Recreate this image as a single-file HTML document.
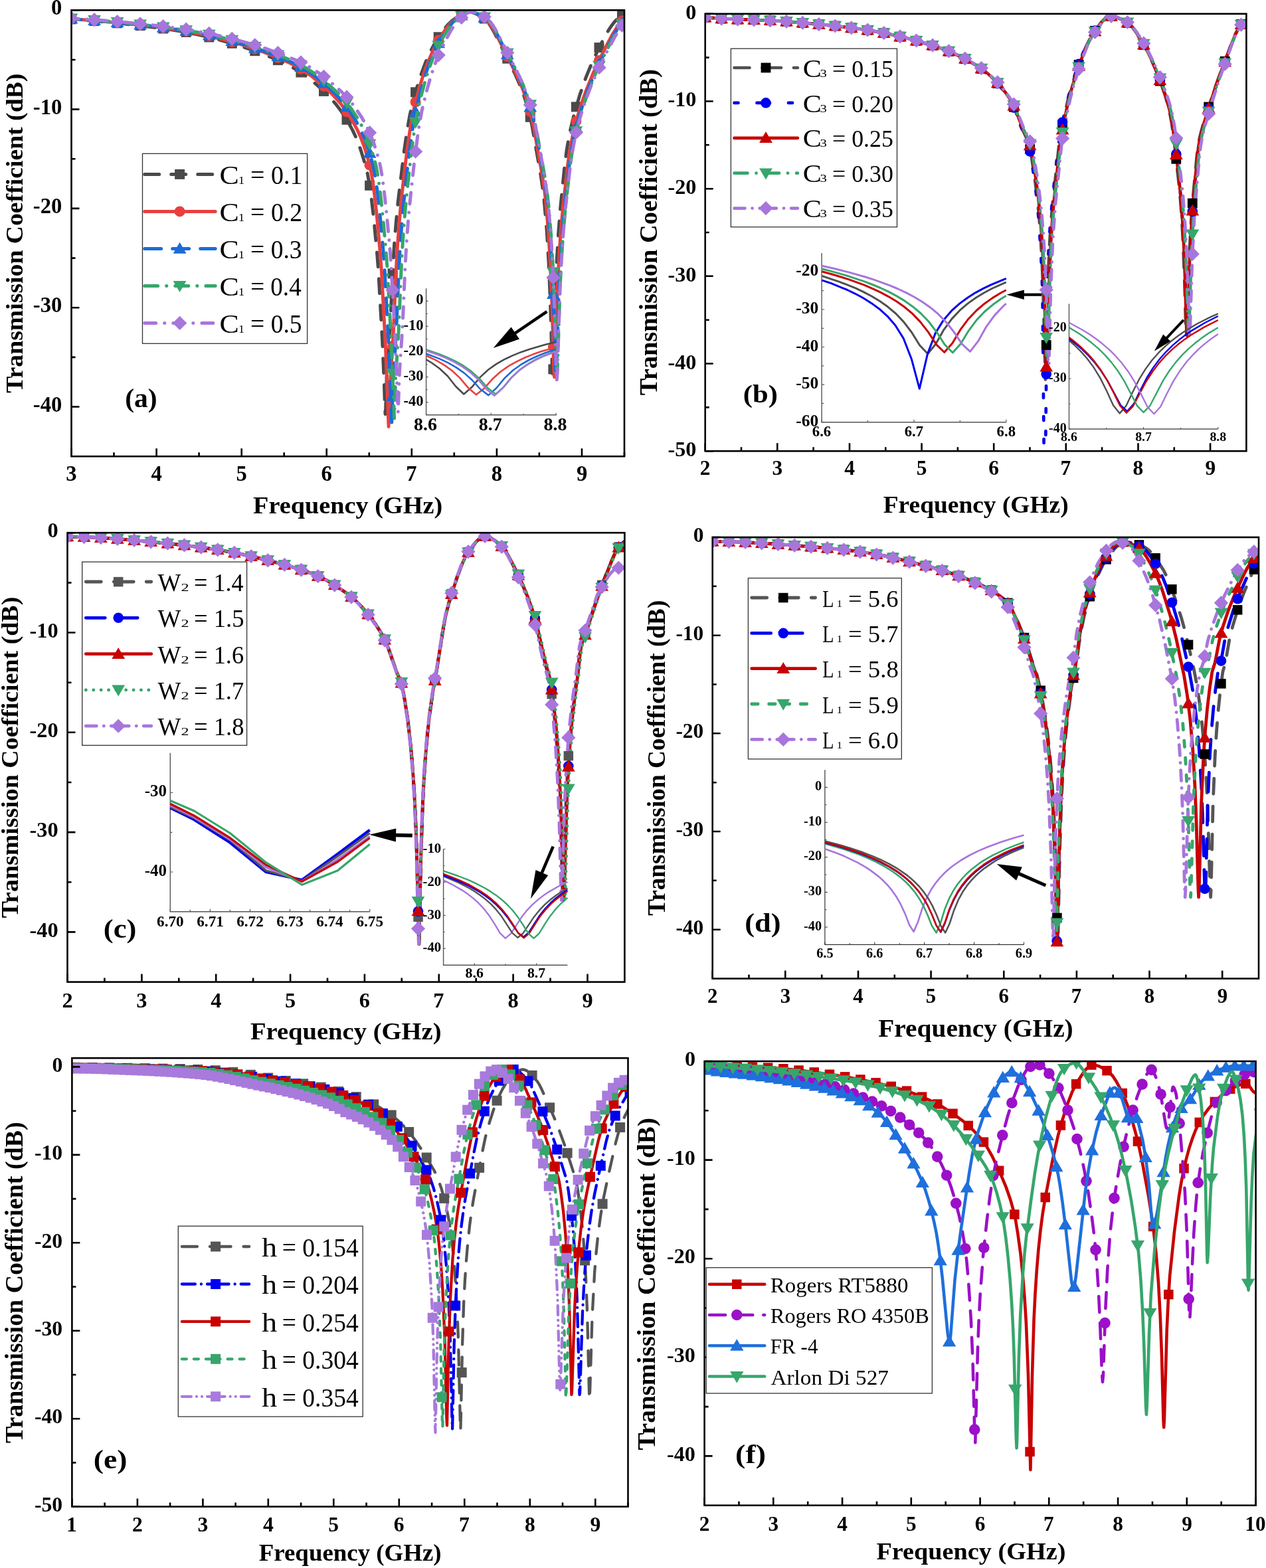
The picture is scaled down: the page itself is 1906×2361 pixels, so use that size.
<!DOCTYPE html>
<html><head><meta charset="utf-8"><title>Transmission coefficient parametric study</title>
<style>html,body{margin:0;padding:0;background:#fff;}svg{display:block;}</style></head>
<body><svg width="1906" height="2361" viewBox="0 0 1906 2361" font-family='"Liberation Serif", serif'>
<rect width="1906" height="2361" fill="#fff"/>
<clipPath id="c1"><rect x="107.5" y="15.3" width="832.5" height="671.9"/></clipPath>
<path d="M92.1,27.8L135.4,31.1L181.2,35.3L222.0,39.9L256.4,44.5L281.5,48.7L304.2,53.5L330.4,60.0L357.8,67.9L383.7,76.7L409.3,86.7L429.5,95.7L446.6,105.0L460.8,114.5L475.6,126.5L493.3,143.1L505.5,156.6L514.4,168.4L523.8,183.2L530.9,196.1L536.9,209.0L542.5,224.1L547.7,240.5L553.1,260.6L556.2,277.2L559.3,299.8L562.8,330.2L567.6,380.9L569.6,406.4L575.6,512.3L578.4,577.7L579.6,616.0L580.1,623.6L580.7,614.7L582.2,567.6L587.2,496.0L591.6,401.7L593.6,368.1L596.3,334.7L599.2,304.3L608.6,226.1L612.7,197.8L616.8,174.4L620.9,156.4L626.8,134.6L633.6,113.1L640.6,94.1L648.0,77.5L655.9,62.7L665.5,48.0L674.4,37.0L681.0,30.9L689.7,24.5L695.1,21.1L698.7,19.4L702.0,18.3L704.9,17.9L708.1,18.0L711.8,18.8L715.4,20.1L724.2,24.8L729.6,28.3L733.5,32.2L738.3,38.8L743.7,48.0L775.7,112.0L782.7,128.1L788.9,144.5L796.3,167.9L800.8,188.3L813.5,260.0L816.9,282.6L819.2,301.5L823.2,347.2L826.3,399.2L828.8,462.9L831.4,554.2L832.2,567.7L833.0,553.4L836.6,430.2L838.4,389.9L840.7,350.9L843.8,312.2L850.2,248.3L853.3,225.2L857.6,200.3L864.3,172.3L872.8,143.3L882.0,116.9L892.8,90.6L908.5,58.7L914.5,48.2L920.1,39.5L925.1,33.0L930.2,27.9L936.7,22.9L942.6,19.8" fill="none" stroke="#4a4a4a" stroke-width="5" stroke-linecap="round" stroke-linejoin="round" stroke-dasharray="22,18" clip-path="url(#c1)"/>
<g clip-path="url(#c1)"><rect x="100.0" y="21.4" width="15.0" height="15.0" fill="#4a4a4a"/><rect x="134.5" y="24.1" width="15.0" height="15.0" fill="#4a4a4a"/><rect x="169.1" y="27.3" width="15.0" height="15.0" fill="#4a4a4a"/><rect x="203.6" y="31.1" width="15.0" height="15.0" fill="#4a4a4a"/><rect x="238.2" y="35.5" width="15.0" height="15.0" fill="#4a4a4a"/><rect x="272.7" y="41.0" width="15.0" height="15.0" fill="#4a4a4a"/><rect x="307.3" y="48.5" width="15.0" height="15.0" fill="#4a4a4a"/><rect x="341.8" y="57.8" width="15.0" height="15.0" fill="#4a4a4a"/><rect x="376.3" y="69.2" width="15.0" height="15.0" fill="#4a4a4a"/><rect x="410.9" y="83.1" width="15.0" height="15.0" fill="#4a4a4a"/><rect x="445.4" y="101.5" width="15.0" height="15.0" fill="#4a4a4a"/><rect x="480.0" y="129.9" width="15.0" height="15.0" fill="#4a4a4a"/><rect x="514.5" y="172.8" width="15.0" height="15.0" fill="#4a4a4a"/><rect x="549.1" y="271.8" width="15.0" height="15.0" fill="#4a4a4a"/><rect x="583.6" y="404.3" width="15.0" height="15.0" fill="#4a4a4a"/><rect x="618.1" y="131.3" width="15.0" height="15.0" fill="#4a4a4a"/><rect x="652.7" y="48.3" width="15.0" height="15.0" fill="#4a4a4a"/><rect x="687.2" y="13.8" width="15.0" height="15.0" fill="#4a4a4a"/><rect x="721.8" y="20.5" width="15.0" height="15.0" fill="#4a4a4a"/><rect x="756.3" y="80.7" width="15.0" height="15.0" fill="#4a4a4a"/><rect x="790.8" y="168.8" width="15.0" height="15.0" fill="#4a4a4a"/><rect x="825.4" y="548.4" width="15.0" height="15.0" fill="#4a4a4a"/><rect x="859.9" y="153.4" width="15.0" height="15.0" fill="#4a4a4a"/><rect x="894.5" y="64.1" width="15.0" height="15.0" fill="#4a4a4a"/><rect x="929.0" y="15.5" width="15.0" height="15.0" fill="#4a4a4a"/><rect x="963.6" y="12.3" width="15.0" height="15.0" fill="#4a4a4a"/></g>
<path d="M94.7,27.6L138.8,30.8L185.4,35.0L227.5,39.6L261.8,44.1L287.0,48.3L310.4,53.1L338.2,60.0L365.1,67.6L391.7,76.5L418.0,86.7L437.2,95.3L453.5,104.1L468.4,114.1L483.8,126.7L501.0,142.7L513.3,156.4L521.0,166.9L531.0,182.7L537.3,194.2L543.1,206.8L549.1,223.0L554.5,241.0L558.2,255.8L561.1,272.3L564.2,296.3L567.7,328.4L572.2,379.0L574.5,409.7L580.5,522.8L585.1,642.4L587.4,577.2L592.0,506.1L596.3,407.4L598.3,372.3L600.9,337.4L603.7,305.6L608.0,266.0L612.6,228.3L616.9,197.8L620.9,174.4L625.2,155.3L631.2,132.6L637.8,111.3L644.9,91.9L652.4,75.2L660.7,59.8L669.8,45.6L678.1,35.4L682.4,31.4L690.1,25.4L695.0,22.0L699.0,19.7L702.2,18.5L705.3,17.9L708.4,17.9L711.9,18.5L719.6,21.5L729.6,27.4L733.6,31.0L737.9,36.3L742.5,43.5L747.9,53.4L778.6,114.4L785.7,130.9L792.0,147.8L798.6,168.9L803.7,192.8L816.0,261.8L819.5,284.7L821.8,304.3L825.5,347.2L828.6,399.2L831.2,462.9L833.8,554.2L834.6,567.7L835.5,553.4L839.5,430.2L841.5,389.9L844.1,350.9L847.5,312.2L854.7,248.3L857.8,226.9L862.4,202.9L865.8,188.5L870.7,171.4L876.1,154.1L881.6,138.5L893.0,110.3L908.7,77.1L921.6,52.6L927.1,43.7L931.9,36.8L936.8,31.1L941.6,26.7L947.4,22.5L952.8,19.8" fill="none" stroke="#e8403f" stroke-width="5" stroke-linecap="round" stroke-linejoin="round" clip-path="url(#c1)"/>
<g clip-path="url(#c1)"><circle cx="107.5" cy="28.4" r="8.0" fill="#e8403f"/><circle cx="142.0" cy="31.1" r="8.0" fill="#e8403f"/><circle cx="176.6" cy="34.1" r="8.0" fill="#e8403f"/><circle cx="211.1" cy="37.7" r="8.0" fill="#e8403f"/><circle cx="245.7" cy="41.9" r="8.0" fill="#e8403f"/><circle cx="280.2" cy="47.1" r="8.0" fill="#e8403f"/><circle cx="314.8" cy="54.1" r="8.0" fill="#e8403f"/><circle cx="349.3" cy="63.0" r="8.0" fill="#e8403f"/><circle cx="383.8" cy="73.7" r="8.0" fill="#e8403f"/><circle cx="418.4" cy="86.8" r="8.0" fill="#e8403f"/><circle cx="452.9" cy="103.8" r="8.0" fill="#e8403f"/><circle cx="487.5" cy="129.9" r="8.0" fill="#e8403f"/><circle cx="522.0" cy="168.4" r="8.0" fill="#e8403f"/><circle cx="556.6" cy="248.7" r="8.0" fill="#e8403f"/><circle cx="591.1" cy="521.3" r="8.0" fill="#e8403f"/><circle cx="625.6" cy="153.5" r="8.0" fill="#e8403f"/><circle cx="660.2" cy="60.6" r="8.0" fill="#e8403f"/><circle cx="694.7" cy="22.2" r="8.0" fill="#e8403f"/><circle cx="729.3" cy="27.2" r="8.0" fill="#e8403f"/><circle cx="763.8" cy="85.1" r="8.0" fill="#e8403f"/><circle cx="798.3" cy="168.1" r="8.0" fill="#e8403f"/><circle cx="832.9" cy="522.3" r="8.0" fill="#e8403f"/><circle cx="867.4" cy="182.6" r="8.0" fill="#e8403f"/><circle cx="902.0" cy="91.0" r="8.0" fill="#e8403f"/><circle cx="936.5" cy="31.4" r="8.0" fill="#e8403f"/><circle cx="971.1" cy="21.8" r="8.0" fill="#e8403f"/></g>
<path d="M97.3,27.6L141.5,30.8L188.3,34.9L230.6,39.5L265.1,44.0L290.3,48.1L313.9,53.0L341.8,59.8L368.8,67.3L395.2,76.0L421.9,86.2L441.2,94.7L457.6,103.5L472.5,113.4L488.0,125.8L505.3,141.6L517.6,155.2L525.4,165.6L535.4,181.2L541.8,192.6L547.5,205.1L553.5,221.1L559.0,238.9L562.7,253.5L565.6,269.8L568.8,293.6L572.2,325.4L576.8,375.5L579.1,405.9L585.1,517.8L589.7,636.1L592.0,572.2L596.4,502.7L600.6,405.5L602.5,370.9L605.0,336.5L608.1,302.3L612.8,258.5L617.2,221.8L621.4,192.3L625.3,170.1L630.3,148.5L636.1,126.7L642.5,106.4L649.4,87.8L656.7,71.7L665.0,56.4L673.3,43.6L681.1,34.3L684.7,30.9L693.3,24.1L697.8,21.1L701.4,19.2L704.4,18.2L707.2,17.8L713.8,18.8L721.4,21.8L731.5,27.8L735.5,31.6L740.2,37.6L745.1,45.5L750.6,55.6L780.9,115.6L788.5,133.0L795.1,151.2L801.2,171.2L806.7,197.3L818.8,265.3L822.0,286.9L824.3,307.1L828.1,351.2L831.3,405.0L833.6,462.9L836.2,554.2L837.1,567.7L837.9,553.4L841.9,430.2L843.9,389.9L846.5,350.9L850.0,312.2L857.1,248.3L860.3,226.9L864.9,202.9L868.3,188.5L873.2,171.4L878.6,154.1L884.0,138.5L895.5,110.3L911.3,77.1L924.1,52.6L929.6,43.7L934.5,36.8L939.3,31.1L944.2,26.7L949.9,22.5L955.4,19.8" fill="none" stroke="#1c6bd8" stroke-width="5" stroke-linecap="round" stroke-linejoin="round" stroke-dasharray="25,17" clip-path="url(#c1)"/>
<g clip-path="url(#c1)"><path d="M107.5,18.5L117.4,35.6L97.6,35.6Z" fill="#1c6bd8"/><path d="M142.0,21.1L151.9,38.1L132.1,38.1Z" fill="#1c6bd8"/><path d="M176.6,24.1L186.5,41.1L166.7,41.1Z" fill="#1c6bd8"/><path d="M211.1,27.6L221.0,44.6L201.2,44.6Z" fill="#1c6bd8"/><path d="M245.7,31.7L255.6,48.7L235.8,48.7Z" fill="#1c6bd8"/><path d="M280.2,36.7L290.1,53.7L270.3,53.7Z" fill="#1c6bd8"/><path d="M314.8,43.4L324.7,60.4L304.9,60.4Z" fill="#1c6bd8"/><path d="M349.3,52.1L359.2,69.1L339.4,69.1Z" fill="#1c6bd8"/><path d="M383.8,62.4L393.7,79.4L373.9,79.4Z" fill="#1c6bd8"/><path d="M418.4,75.1L428.3,92.1L408.5,92.1Z" fill="#1c6bd8"/><path d="M452.9,91.1L462.8,108.1L443.0,108.1Z" fill="#1c6bd8"/><path d="M487.5,115.6L497.4,132.6L477.6,132.6Z" fill="#1c6bd8"/><path d="M522.0,151.2L531.9,168.2L512.1,168.2Z" fill="#1c6bd8"/><path d="M556.6,220.8L566.5,237.8L546.7,237.8Z" fill="#1c6bd8"/><path d="M591.1,587.1L601.0,604.1L581.2,604.1Z" fill="#1c6bd8"/><path d="M625.6,158.6L635.5,175.7L615.7,175.7Z" fill="#1c6bd8"/><path d="M660.2,55.2L670.1,72.2L650.3,72.2Z" fill="#1c6bd8"/><path d="M694.7,13.4L704.6,30.4L684.8,30.4Z" fill="#1c6bd8"/><path d="M729.3,16.7L739.2,33.7L719.4,33.7Z" fill="#1c6bd8"/><path d="M763.8,72.3L773.7,89.3L753.9,89.3Z" fill="#1c6bd8"/><path d="M798.3,151.5L808.2,168.5L788.4,168.5Z" fill="#1c6bd8"/><path d="M832.9,433.1L842.8,450.1L823.0,450.1Z" fill="#1c6bd8"/><path d="M867.4,182.1L877.3,199.1L857.5,199.1Z" fill="#1c6bd8"/><path d="M902.0,86.5L911.9,103.5L892.1,103.5Z" fill="#1c6bd8"/><path d="M936.5,24.5L946.4,41.5L926.6,41.5Z" fill="#1c6bd8"/><path d="M971.1,10.1L981.0,27.1L961.2,27.1Z" fill="#1c6bd8"/></g>
<path d="M98.5,27.4L143.0,30.5L190.1,34.6L232.5,39.1L267.2,43.6L292.6,47.6L316.3,52.4L344.3,59.1L371.5,66.6L398.3,75.3L424.9,85.3L444.3,93.7L460.7,102.3L475.7,112.1L491.3,124.4L508.7,140.1L521.1,153.6L528.9,163.9L539.0,179.3L545.3,190.7L551.1,203.0L557.2,218.9L562.7,236.5L566.4,251.0L569.3,267.1L572.5,290.6L576.0,322.2L580.6,371.8L582.9,401.9L589.0,512.7L593.6,629.9L595.7,567.2L600.1,499.3L604.4,397.8L606.3,365.4L608.7,332.3L611.7,299.2L616.8,251.3L621.1,215.5L624.9,188.8L628.7,167.4L634.1,144.1L640.0,122.0L646.3,102.4L653.0,84.4L660.0,69.0L668.4,53.7L676.0,42.1L683.3,33.4L695.4,23.3L699.5,20.6L703.0,18.9L705.7,18.1L708.4,17.8L711.9,18.2L715.4,19.0L723.0,22.3L732.8,28.3L735.8,31.0L739.0,34.7L745.9,45.5L775.6,102.6L782.0,115.6L787.6,128.1L792.5,140.6L797.2,153.8L803.0,173.5L808.8,202.0L820.4,267.2L823.6,289.1L826.0,310.0L829.7,355.3L832.7,405.0L835.0,462.9L837.6,554.2L838.5,567.7L839.3,553.4L843.3,430.2L845.3,389.9L847.9,350.9L851.4,312.2L858.5,248.3L861.7,226.9L866.2,202.9L869.7,188.5L874.5,171.4L880.0,154.1L885.4,138.5L896.8,110.3L912.6,77.1L925.5,52.6L930.9,43.7L935.8,36.8L940.6,31.1L945.5,26.7L951.2,22.5L956.6,19.8" fill="none" stroke="#36a66b" stroke-width="5" stroke-linecap="round" stroke-linejoin="round" stroke-dasharray="20,13,0.1,13" clip-path="url(#c1)"/>
<g clip-path="url(#c1)"><path d="M107.5,37.6L117.4,20.6L97.6,20.6Z" fill="#36a66b"/><path d="M142.0,40.1L151.9,23.1L132.1,23.1Z" fill="#36a66b"/><path d="M176.6,43.0L186.5,26.0L166.7,26.0Z" fill="#36a66b"/><path d="M211.1,46.4L221.0,29.4L201.2,29.4Z" fill="#36a66b"/><path d="M245.7,50.4L255.6,33.4L235.8,33.4Z" fill="#36a66b"/><path d="M280.2,55.2L290.1,38.2L270.3,38.2Z" fill="#36a66b"/><path d="M314.8,61.8L324.7,44.7L304.9,44.7Z" fill="#36a66b"/><path d="M349.3,70.1L359.2,53.1L339.4,53.1Z" fill="#36a66b"/><path d="M383.8,80.1L393.7,63.1L373.9,63.1Z" fill="#36a66b"/><path d="M418.4,92.4L428.3,75.4L408.5,75.4Z" fill="#36a66b"/><path d="M452.9,107.7L462.8,90.7L443.0,90.7Z" fill="#36a66b"/><path d="M487.5,130.9L497.4,113.9L477.6,113.9Z" fill="#36a66b"/><path d="M522.0,164.5L531.9,147.5L512.1,147.5Z" fill="#36a66b"/><path d="M556.6,226.8L566.5,209.8L546.7,209.8Z" fill="#36a66b"/><path d="M591.1,572.0L601.0,554.9L581.2,554.9Z" fill="#36a66b"/><path d="M625.6,194.0L635.5,177.0L615.7,177.0Z" fill="#36a66b"/><path d="M660.2,78.4L670.1,61.4L650.3,61.4Z" fill="#36a66b"/><path d="M694.7,33.6L704.6,16.5L684.8,16.5Z" fill="#36a66b"/><path d="M729.3,35.7L739.2,18.6L719.4,18.6Z" fill="#36a66b"/><path d="M763.8,89.8L773.7,72.8L753.9,72.8Z" fill="#36a66b"/><path d="M798.3,167.2L808.2,150.2L788.4,150.2Z" fill="#36a66b"/><path d="M832.9,419.6L842.8,402.6L823.0,402.6Z" fill="#36a66b"/><path d="M867.4,207.2L877.3,190.2L857.5,190.2Z" fill="#36a66b"/><path d="M902.0,108.7L911.9,91.7L892.1,91.7Z" fill="#36a66b"/><path d="M936.5,45.5L946.4,28.5L926.6,28.5Z" fill="#36a66b"/><path d="M971.1,29.5L981.0,12.5L961.2,12.5Z" fill="#36a66b"/></g>
<path d="M101.1,27.0L145.9,30.0L193.2,34.0L236.0,38.5L270.8,42.8L296.4,46.8L320.3,51.5L348.4,58.1L376.1,65.5L402.8,74.0L429.5,83.8L449.0,92.1L465.6,100.6L480.7,110.3L496.4,122.4L513.9,137.9L526.4,151.2L534.2,161.3L544.4,176.5L550.8,187.7L556.6,199.9L562.7,215.5L568.2,232.9L572.0,247.2L574.9,263.1L578.1,286.2L581.6,317.3L586.3,366.2L588.6,395.8L594.7,505.0L599.3,620.5L601.5,559.6L605.9,494.3L610.3,395.0L612.5,359.5L614.9,327.7L618.0,296.0L623.7,244.2L628.4,207.4L631.9,183.9L635.5,164.9L641.8,138.9L648.6,114.9L654.9,96.4L661.5,80.1L673.3,56.1L679.2,45.3L684.7,37.0L689.9,31.0L700.1,21.8L703.7,19.5L706.8,18.2L709.2,17.9L712.3,18.0L719.2,20.0L728.4,24.8L733.0,27.7L735.8,30.2L741.6,37.3L748.2,48.2L779.3,109.7L785.3,122.8L790.5,135.4L795.4,148.9L800.0,163.2L802.9,173.7L806.0,188.3L817.8,253.6L823.0,287.2L826.4,318.9L829.9,362.8L832.8,415.0L834.8,467.4L837.4,559.6L838.2,573.2L839.1,558.5L843.2,433.1L845.3,392.0L847.9,352.3L851.4,312.7L858.4,250.7L861.7,228.6L866.3,204.2L869.9,189.6L874.5,173.3L880.1,155.8L885.7,140.1L891.2,125.9L897.4,111.6L913.2,78.8L926.7,53.6L932.3,44.6L937.5,37.2L942.5,31.4L947.8,26.7L953.6,22.5L959.2,19.8" fill="none" stroke="#a875dc" stroke-width="5" stroke-linecap="round" stroke-linejoin="round" stroke-dasharray="17,13,0.1,13" clip-path="url(#c1)"/>
<g clip-path="url(#c1)"><path d="M107.5,16.7L118.1,27.4L107.5,38.0L96.9,27.4Z" fill="#a875dc"/><path d="M142.0,19.1L152.7,29.7L142.0,40.4L131.4,29.7Z" fill="#a875dc"/><path d="M176.6,21.9L187.2,32.5L176.6,43.2L166.0,32.5Z" fill="#a875dc"/><path d="M211.1,25.2L221.8,35.8L211.1,46.4L200.5,35.8Z" fill="#a875dc"/><path d="M245.7,29.0L256.3,39.6L245.7,50.2L235.0,39.6Z" fill="#a875dc"/><path d="M280.2,33.6L290.8,44.2L280.2,54.8L269.6,44.2Z" fill="#a875dc"/><path d="M314.8,39.7L325.4,50.3L314.8,61.0L304.1,50.3Z" fill="#a875dc"/><path d="M349.3,47.7L359.9,58.3L349.3,68.9L338.7,58.3Z" fill="#a875dc"/><path d="M383.8,57.2L394.5,67.8L383.8,78.5L373.2,67.8Z" fill="#a875dc"/><path d="M418.4,68.9L429.0,79.6L418.4,90.2L407.8,79.6Z" fill="#a875dc"/><path d="M452.9,83.3L463.5,94.0L452.9,104.6L442.3,94.0Z" fill="#a875dc"/><path d="M487.5,104.7L498.1,115.3L487.5,125.9L476.8,115.3Z" fill="#a875dc"/><path d="M522.0,135.6L532.6,146.2L522.0,156.8L511.4,146.2Z" fill="#a875dc"/><path d="M556.6,189.1L567.2,199.8L556.6,210.4L545.9,199.8Z" fill="#a875dc"/><path d="M591.1,426.1L601.7,436.7L591.1,447.3L580.5,436.7Z" fill="#a875dc"/><path d="M625.6,217.6L636.3,228.2L625.6,238.8L615.0,228.2Z" fill="#a875dc"/><path d="M660.2,72.5L670.8,83.1L660.2,93.7L649.6,83.1Z" fill="#a875dc"/><path d="M694.7,15.8L705.3,26.5L694.7,37.1L684.1,26.5Z" fill="#a875dc"/><path d="M729.3,14.7L739.9,25.3L729.3,36.0L718.6,25.3Z" fill="#a875dc"/><path d="M763.8,68.7L774.4,79.3L763.8,89.9L753.2,79.3Z" fill="#a875dc"/><path d="M798.3,147.3L809.0,158.0L798.3,168.6L787.7,158.0Z" fill="#a875dc"/><path d="M832.9,407.3L843.5,417.9L832.9,428.6L822.3,417.9Z" fill="#a875dc"/><path d="M867.4,188.7L878.1,199.4L867.4,210.0L856.8,199.4Z" fill="#a875dc"/><path d="M902.0,91.0L912.6,101.7L902.0,112.3L891.3,101.7Z" fill="#a875dc"/><path d="M936.5,27.9L947.1,38.5L936.5,49.1L925.9,38.5Z" fill="#a875dc"/><path d="M971.1,9.2L981.7,19.8L971.1,30.4L960.4,19.8Z" fill="#a875dc"/></g>
<rect x="107.5" y="15.3" width="832.5" height="671.9" fill="none" stroke="#000" stroke-width="2.6"/>
<path d="M107.5,687.2v-12M235.6,687.2v-12M363.7,687.2v-12M491.7,687.2v-12M619.8,687.2v-12M747.9,687.2v-12M876.0,687.2v-12M171.5,687.2v-6M299.6,687.2v-6M427.7,687.2v-6M555.8,687.2v-6M683.8,687.2v-6M811.9,687.2v-6M940.0,687.2v-6M107.5,15.3h12M107.5,164.6h12M107.5,313.9h12M107.5,463.2h12M107.5,612.5h12M107.5,90.0h6M107.5,239.3h6M107.5,388.6h6M107.5,537.9h6" stroke="#000" stroke-width="2.6" fill="none"/>
<text x="99.34" y="724.40" font-size="32.63" font-weight="bold" fill="#000">3</text>
<text x="227.50" y="724.40" font-size="32.63" font-weight="bold" fill="#000">4</text>
<text x="355.41" y="724.40" font-size="32.63" font-weight="bold" fill="#000">5</text>
<text x="483.49" y="724.40" font-size="32.63" font-weight="bold" fill="#000">6</text>
<text x="611.16" y="724.40" font-size="32.63" font-weight="bold" fill="#000">7</text>
<text x="739.73" y="724.40" font-size="32.63" font-weight="bold" fill="#000">8</text>
<text x="867.97" y="724.40" font-size="32.63" font-weight="bold" fill="#000">9</text>
<text x="77.09" y="22.30" font-size="32.63" font-weight="bold" fill="#000">0</text>
<text x="49.84" y="171.61" font-size="32.63" font-weight="bold" fill="#000">-10</text>
<text x="49.84" y="320.92" font-size="32.63" font-weight="bold" fill="#000">-20</text>
<text x="49.84" y="470.23" font-size="32.63" font-weight="bold" fill="#000">-30</text>
<text x="49.84" y="619.54" font-size="32.63" font-weight="bold" fill="#000">-40</text>
<text x="381.03" y="773.00" font-size="36.79" font-weight="bold" fill="#000" textLength="285.19" lengthAdjust="spacingAndGlyphs">Frequency (GHz)</text>
<text transform="translate(33.70,591.77) rotate(-90)" font-size="36.64" font-weight="bold" textLength="481.12" lengthAdjust="spacingAndGlyphs">Transmission Coefficient (dB)</text>
<text x="188.23" y="613.20" font-size="39.08" font-weight="bold" fill="#000" textLength="48.48" lengthAdjust="spacingAndGlyphs">(a)</text>
<rect x="214.5" y="231.3" width="248.1" height="286" fill="#fff" stroke="#333" stroke-width="1.3"/>
<path d="M217.7,262.4H324.2" stroke="#4a4a4a" stroke-width="5" stroke-linecap="round" stroke-dasharray="22,18" fill="none"/>
<rect x="263.1" y="254.9" width="15.0" height="15.0" fill="#4a4a4a"/>
<text x="330.55" y="276.80" font-size="40.61" font-weight="normal" fill="#000" textLength="29.26" lengthAdjust="spacingAndGlyphs">C</text>
<text x="358.97" y="276.80" font-size="15.79" font-weight="normal" fill="#000" textLength="9.01" lengthAdjust="spacingAndGlyphs">1</text>
<text x="377.10" y="276.80" font-size="39.40" font-weight="normal" fill="#000" textLength="78.34" lengthAdjust="spacingAndGlyphs">= 0.1</text>
<path d="M217.7,318.4H324.2" stroke="#e8403f" stroke-width="5" stroke-linecap="round" fill="none"/>
<circle cx="270.6" cy="318.4" r="8.0" fill="#e8403f"/>
<text x="330.55" y="332.80" font-size="40.61" font-weight="normal" fill="#000" textLength="29.26" lengthAdjust="spacingAndGlyphs">C</text>
<text x="358.97" y="332.80" font-size="15.79" font-weight="normal" fill="#000" textLength="9.01" lengthAdjust="spacingAndGlyphs">1</text>
<text x="377.11" y="332.80" font-size="39.40" font-weight="normal" fill="#000" textLength="78.14" lengthAdjust="spacingAndGlyphs">= 0.2</text>
<path d="M217.7,374.4H324.2" stroke="#1c6bd8" stroke-width="5" stroke-linecap="round" stroke-dasharray="25,17" fill="none"/>
<path d="M270.6,364.7L280.5,381.7L260.7,381.7Z" fill="#1c6bd8"/>
<text x="330.55" y="388.80" font-size="40.61" font-weight="normal" fill="#000" textLength="29.26" lengthAdjust="spacingAndGlyphs">C</text>
<text x="358.97" y="388.80" font-size="15.79" font-weight="normal" fill="#000" textLength="9.01" lengthAdjust="spacingAndGlyphs">1</text>
<text x="377.12" y="388.80" font-size="39.40" font-weight="normal" fill="#000" textLength="77.54" lengthAdjust="spacingAndGlyphs">= 0.3</text>
<path d="M217.7,430.4H324.2" stroke="#36a66b" stroke-width="5" stroke-linecap="round" stroke-dasharray="20,13,0.1,13" fill="none"/>
<path d="M270.6,440.1L280.5,423.1L260.7,423.1Z" fill="#36a66b"/>
<text x="330.55" y="444.80" font-size="40.61" font-weight="normal" fill="#000" textLength="29.26" lengthAdjust="spacingAndGlyphs">C</text>
<text x="358.97" y="444.80" font-size="15.79" font-weight="normal" fill="#000" textLength="9.01" lengthAdjust="spacingAndGlyphs">1</text>
<text x="377.14" y="444.80" font-size="39.40" font-weight="normal" fill="#000" textLength="76.57" lengthAdjust="spacingAndGlyphs">= 0.4</text>
<path d="M217.7,486.4H324.2" stroke="#a875dc" stroke-width="5" stroke-linecap="round" stroke-dasharray="17,13,0.1,13" fill="none"/>
<path d="M270.6,475.8L281.2,486.4L270.6,497.0L260.0,486.4Z" fill="#a875dc"/>
<text x="330.55" y="500.80" font-size="40.61" font-weight="normal" fill="#000" textLength="29.26" lengthAdjust="spacingAndGlyphs">C</text>
<text x="358.97" y="500.80" font-size="15.79" font-weight="normal" fill="#000" textLength="9.01" lengthAdjust="spacingAndGlyphs">1</text>
<text x="377.12" y="500.80" font-size="39.40" font-weight="normal" fill="#000" textLength="77.54" lengthAdjust="spacingAndGlyphs">= 0.5</text>
<path d="M641.6,434.2V624.8H837.9" stroke="#555" stroke-width="1.4" fill="none"/>
<path d="M641.6,453.3h3M641.6,491.4h3M641.6,529.5h3M641.6,567.6h3M641.6,605.7h3M641.6,472.3h2M641.6,510.4h2M641.6,548.6h2M641.6,586.7h2M641.6,624.8v-3M739.3,624.8v-3M837.1,624.8v-3M690.5,624.8v-2M788.2,624.8v-2" stroke="#555" stroke-width="1.2" fill="none"/>
<text x="626.32" y="458.46" font-size="22.56" font-weight="bold" fill="#000">0</text>
<text x="607.49" y="496.58" font-size="22.56" font-weight="bold" fill="#000">-10</text>
<text x="607.49" y="534.70" font-size="22.56" font-weight="bold" fill="#000">-20</text>
<text x="607.49" y="572.82" font-size="22.56" font-weight="bold" fill="#000">-30</text>
<text x="607.49" y="610.94" font-size="22.56" font-weight="bold" fill="#000">-40</text>
<text x="623.05" y="647.80" font-size="27.97" font-weight="bold" fill="#000">8.6</text>
<text x="720.73" y="647.80" font-size="27.97" font-weight="bold" fill="#000">8.7</text>
<text x="818.62" y="647.80" font-size="27.97" font-weight="bold" fill="#000">8.8</text>
<path d="M641.6,541.4L649.4,546.0L661.6,554.8L673.9,566.3L686.1,581.7L698.3,593.5L710.5,582.8L722.7,568.1L735.0,556.8L747.2,548.1L759.4,541.2L771.6,535.4L783.8,530.4L796.0,526.2L820.5,519.0L837.1,514.9" fill="none" stroke="#4a4a4a" stroke-width="2.6" stroke-linecap="butt" stroke-linejoin="round"/>
<path d="M641.6,535.5L655.8,542.1L668.0,549.1L680.2,557.8L692.4,569.1L704.6,583.7L716.9,594.3L729.1,584.7L741.3,570.8L753.5,559.8L765.7,551.2L778.0,544.3L790.2,538.5L802.4,533.6L814.6,529.3L837.1,522.7" fill="none" stroke="#e8403f" stroke-width="2.6" stroke-linecap="butt" stroke-linejoin="round"/>
<path d="M641.6,532.5L662.1,540.4L674.3,546.2L686.6,553.1L698.8,561.6L711.0,572.5L723.2,586.0L735.4,595.1L747.7,584.0L759.9,569.1L772.1,557.8L784.3,549.0L796.5,542.0L808.8,536.3L821.0,531.3L837.1,525.8" fill="none" stroke="#1c6bd8" stroke-width="2.6" stroke-linecap="butt" stroke-linejoin="round"/>
<path d="M641.6,526.5L660.7,533.0L672.9,537.9L685.1,543.6L697.3,550.5L709.5,559.1L721.8,570.1L734.0,584.0L746.2,593.5L758.4,582.7L770.6,568.0L782.8,556.6L795.1,547.9L807.3,541.0L819.5,535.2L837.1,528.3" fill="none" stroke="#36a66b" stroke-width="2.6" stroke-linecap="butt" stroke-linejoin="round"/>
<path d="M641.6,528.1L658.7,534.0L670.9,538.9L683.1,544.7L695.4,551.6L707.6,560.3L719.8,571.4L732.0,585.7L744.2,595.8L756.5,584.7L768.7,569.7L780.9,558.3L793.1,549.6L805.3,542.6L817.5,536.8L837.1,529.2" fill="none" stroke="#a875dc" stroke-width="2.6" stroke-linecap="butt" stroke-linejoin="round"/>
<path d="M823.4,469.2L774.1,502.7" stroke="#000" stroke-width="4.5" fill="none"/>
<path d="M742.7,524.0L769.6,492.4L782.0,510.6Z" fill="#000"/>
<clipPath id="c2"><rect x="1061.7" y="20.8" width="814.7" height="658.4"/></clipPath>
<path d="M1050.8,25.4L1089.9,28.2L1165.5,31.1L1212.5,34.7L1255.1,38.9L1287.1,42.6L1313.6,46.5L1338.5,51.4L1367.3,58.2L1395.3,65.8L1416.6,72.8L1436.0,80.5L1455.5,90.1L1473.9,101.1L1486.2,110.3L1498.5,121.9L1506.9,131.2L1514.0,140.3L1520.0,149.3L1525.5,159.3L1529.1,168.0L1538.5,193.3L1545.1,207.2L1547.5,213.3L1550.4,223.0L1553.2,237.8L1557.7,267.9L1561.4,296.5L1564.5,328.2L1566.9,361.9L1568.8,395.7L1570.4,436.4L1573.9,571.4L1577.1,439.7L1578.4,403.4L1580.3,364.4L1582.2,335.1L1584.6,307.2L1594.2,219.6L1597.6,198.6L1602.7,172.4L1607.9,150.2L1613.4,129.7L1620.1,108.9L1628.4,86.0L1635.2,69.7L1642.2,56.0L1646.2,49.7L1658.3,33.2L1663.6,27.8L1668.4,24.9L1670.7,24.4L1673.7,24.5L1681.0,26.1L1689.2,29.7L1698.6,35.3L1704.1,40.7L1710.2,48.8L1721.9,67.7L1727.8,78.4L1734.3,92.0L1740.1,105.7L1749.6,130.6L1754.3,144.2L1760.3,166.0L1764.2,186.6L1769.2,225.1L1776.2,289.4L1779.1,327.6L1781.3,369.8L1783.2,419.0L1785.5,498.5L1786.1,505.2L1786.9,489.7L1790.1,392.0L1793.3,332.2L1795.6,301.8L1801.8,235.7L1803.5,221.4L1806.0,207.7L1811.1,188.0L1828.4,134.5L1835.4,115.0L1853.4,67.5L1859.7,51.9L1864.9,41.6L1869.6,35.5L1875.3,31.1L1879.7,28.3L1883.7,26.6L1887.3,26.1" fill="none" stroke="#505050" stroke-width="4.7" stroke-linecap="round" stroke-linejoin="round" stroke-dasharray="23,19" clip-path="url(#c2)"/>
<path d="M1050.8,25.4L1089.3,28.2L1149.2,30.3L1173.8,31.7L1207.6,34.3L1254.0,38.7L1287.2,42.6L1315.3,46.9L1341.2,52.0L1370.2,59.0L1398.0,66.7L1421.6,74.7L1442.7,83.7L1462.1,94.0L1478.8,104.7L1491.1,114.9L1498.2,121.9L1505.5,130.0L1511.6,137.5L1517.0,145.1L1523.1,155.3L1526.5,162.5L1538.0,193.3L1545.9,210.5L1549.1,220.5L1553.1,241.5L1559.0,282.7L1563.4,325.8L1567.0,379.5L1569.5,437.7L1572.9,811.0L1575.3,555.7L1577.0,416.3L1578.9,372.0L1581.5,332.3L1584.6,298.6L1591.9,231.8L1594.5,212.2L1598.0,192.8L1604.2,162.7L1611.1,135.7L1618.9,110.7L1628.7,84.4L1635.1,69.3L1641.9,56.0L1651.2,42.3L1658.6,32.7L1663.9,27.5L1668.5,24.8L1670.6,24.4L1673.2,24.4L1679.5,25.7L1687.7,29.0L1698.1,34.8L1703.4,39.7L1709.1,47.0L1721.9,67.3L1728.7,79.6L1736.9,97.2L1745.9,119.5L1752.2,136.2L1756.2,148.2L1760.0,161.7L1763.1,175.6L1767.5,204.6L1775.0,268.3L1778.6,307.0L1781.5,352.7L1783.8,406.5L1786.6,494.7L1787.2,500.5L1788.0,486.7L1791.4,387.0L1794.3,332.2L1796.6,301.8L1802.6,235.7L1804.3,221.4L1806.8,207.7L1811.8,188.0L1829.2,133.8L1836.1,114.4L1853.4,68.0L1859.9,51.9L1865.1,41.6L1869.7,35.5L1875.3,31.1L1879.7,28.3L1883.7,26.6L1887.3,26.1" fill="none" stroke="#0000f0" stroke-width="4.7" stroke-linecap="round" stroke-linejoin="round" stroke-dasharray="6,28" clip-path="url(#c2)"/>
<path d="M1050.8,25.4L1089.9,28.2L1165.5,31.1L1211.5,34.6L1254.3,38.7L1286.3,42.5L1313.1,46.4L1337.8,51.1L1366.5,57.8L1394.9,65.5L1416.2,72.5L1435.7,80.2L1455.1,89.6L1473.3,100.4L1485.9,109.6L1498.2,121.1L1506.8,130.5L1513.9,139.4L1520.6,149.3L1526.3,159.3L1530.0,168.0L1539.6,193.3L1546.3,207.2L1548.8,213.3L1551.8,223.0L1554.5,236.6L1559.1,266.5L1563.1,296.5L1566.2,328.2L1568.7,361.9L1570.6,395.7L1572.3,436.4L1575.2,552.5L1575.8,566.0L1579.0,438.8L1582.1,364.4L1584.0,335.1L1586.3,307.2L1595.7,219.6L1599.0,198.6L1604.1,172.4L1609.1,150.2L1614.5,129.7L1621.0,108.9L1629.2,86.0L1636.3,68.8L1642.8,56.0L1646.7,49.7L1658.9,33.2L1664.1,27.8L1668.9,24.9L1671.2,24.4L1674.1,24.5L1681.5,26.1L1689.6,29.7L1699.0,35.3L1704.5,40.7L1710.5,48.8L1722.2,67.7L1727.9,77.9L1734.2,91.0L1740.6,106.2L1750.3,131.1L1755.1,144.8L1761.1,166.9L1765.1,188.0L1768.5,212.9L1774.3,262.6L1777.2,291.7L1780.0,327.6L1782.3,369.8L1784.1,419.0L1786.4,498.5L1787.1,505.2L1787.9,489.7L1791.0,392.0L1794.2,332.2L1796.5,301.8L1802.6,235.7L1804.2,221.4L1806.7,207.7L1811.8,188.0L1828.9,134.5L1836.0,114.4L1853.4,68.0L1859.9,51.9L1865.1,41.6L1869.7,35.5L1875.3,31.1L1879.7,28.3L1883.7,26.6L1887.3,26.1" fill="none" stroke="#c80000" stroke-width="4.7" stroke-linecap="round" stroke-linejoin="round" clip-path="url(#c2)"/>
<path d="M1050.8,25.4L1090.0,28.2L1165.5,31.1L1211.6,34.6L1254.5,38.7L1286.5,42.5L1313.3,46.4L1338.0,51.1L1366.7,57.8L1395.1,65.5L1416.5,72.5L1435.9,80.2L1455.4,89.6L1473.6,100.4L1486.2,109.6L1498.5,121.1L1506.9,130.2L1514.0,139.1L1520.9,149.3L1526.6,159.3L1530.5,168.0L1540.2,193.3L1547.0,207.2L1549.5,213.3L1552.5,223.0L1555.2,236.6L1559.9,266.5L1563.9,296.5L1567.1,328.2L1569.6,361.9L1571.5,395.7L1573.2,436.4L1576.2,552.5L1576.8,566.0L1579.9,438.8L1583.0,364.4L1584.9,335.1L1587.1,307.2L1596.5,219.6L1599.8,198.6L1604.7,172.4L1609.7,150.2L1615.1,129.7L1621.5,108.9L1629.5,86.0L1636.6,68.8L1642.9,56.4L1646.9,50.0L1659.0,33.4L1664.3,28.0L1669.1,25.0L1671.4,24.4L1674.4,24.4L1681.7,26.1L1690.1,29.7L1699.6,35.3L1704.9,40.4L1710.9,48.5L1722.7,67.3L1728.4,77.5L1734.5,90.1L1742.4,108.3L1752.2,132.8L1756.9,146.1L1763.2,168.7L1767.1,189.3L1776.4,262.6L1779.4,291.7L1782.2,327.6L1784.6,369.8L1786.5,419.0L1788.9,498.5L1789.6,505.2L1790.4,489.7L1793.4,392.0L1796.5,332.2L1798.7,301.8L1804.6,235.7L1806.2,221.4L1808.6,207.7L1813.5,188.0L1830.5,133.2L1839.2,108.2L1855.0,65.3L1860.1,52.4L1865.3,41.9L1867.7,38.1L1870.0,35.5L1875.5,31.1L1879.9,28.3L1883.8,26.6L1887.3,26.1" fill="none" stroke="#36a66b" stroke-width="4.7" stroke-linecap="round" stroke-linejoin="round" stroke-dasharray="20,13,0.1,13" clip-path="url(#c2)"/>
<path d="M1050.8,25.4L1090.0,28.2L1165.7,31.1L1211.2,34.6L1254.1,38.7L1286.2,42.4L1313.2,46.3L1337.7,51.0L1366.0,57.6L1394.7,65.3L1416.1,72.2L1435.6,79.8L1454.9,89.1L1473.1,99.8L1485.9,108.9L1498.5,120.4L1507.1,129.7L1514.2,138.6L1521.8,149.7L1527.5,159.3L1531.4,168.0L1541.4,193.3L1548.3,207.2L1550.9,213.3L1553.9,223.0L1556.7,236.6L1561.1,263.5L1565.4,294.7L1568.7,325.8L1571.3,358.7L1573.2,391.4L1575.0,430.5L1578.2,550.3L1578.9,563.2L1581.9,438.3L1585.1,360.7L1589.2,305.0L1598.1,219.6L1601.5,197.4L1606.3,171.4L1611.2,149.4L1616.4,129.0L1622.9,107.6L1630.8,84.9L1637.6,67.9L1643.5,56.4L1647.7,49.7L1659.8,33.2L1665.1,27.8L1669.9,24.9L1672.2,24.4L1675.4,24.5L1682.7,26.2L1691.1,29.9L1700.3,35.4L1705.6,40.7L1711.7,48.8L1723.2,67.3L1728.9,77.5L1734.5,89.2L1743.7,109.9L1753.4,133.9L1758.2,147.5L1761.5,158.5L1764.6,170.6L1768.4,190.8L1777.6,262.6L1781.0,294.1L1783.8,330.9L1786.0,369.8L1788.0,419.1L1790.4,500.5L1791.1,507.6L1791.7,497.3L1794.9,392.0L1797.9,332.2L1800.0,301.8L1805.8,235.7L1807.4,221.4L1809.8,207.7L1814.5,188.0L1831.4,132.6L1840.2,107.1L1855.1,65.8L1860.4,52.4L1865.5,41.9L1867.9,38.1L1870.2,35.5L1875.7,31.1L1879.9,28.3L1883.8,26.6L1887.3,26.1" fill="none" stroke="#a875dc" stroke-width="4.7" stroke-linecap="round" stroke-linejoin="round" stroke-dasharray="16,11,0.1,11" clip-path="url(#c2)"/>
<g clip-path="url(#c2)"><rect x="1054.3" y="18.7" width="14.8" height="14.8" fill="#000"/><rect x="1078.8" y="20.7" width="14.8" height="14.8" fill="#000"/><rect x="1103.2" y="21.7" width="14.8" height="14.8" fill="#000"/><rect x="1127.7" y="22.4" width="14.8" height="14.8" fill="#000"/><rect x="1152.1" y="23.4" width="14.8" height="14.8" fill="#000"/><rect x="1176.6" y="25.0" width="14.8" height="14.8" fill="#000"/><rect x="1201.0" y="27.0" width="14.8" height="14.8" fill="#000"/><rect x="1225.5" y="29.2" width="14.8" height="14.8" fill="#000"/><rect x="1249.9" y="31.7" width="14.8" height="14.8" fill="#000"/><rect x="1274.4" y="34.5" width="14.8" height="14.8" fill="#000"/><rect x="1298.8" y="37.9" width="14.8" height="14.8" fill="#000"/><rect x="1323.3" y="42.3" width="14.8" height="14.8" fill="#000"/><rect x="1347.7" y="47.8" width="14.8" height="14.8" fill="#000"/><rect x="1372.2" y="53.9" width="14.8" height="14.8" fill="#000"/><rect x="1396.6" y="61.1" width="14.8" height="14.8" fill="#000"/><rect x="1421.1" y="69.9" width="14.8" height="14.8" fill="#000"/><rect x="1445.5" y="81.3" width="14.8" height="14.8" fill="#000"/><rect x="1470.0" y="96.1" width="14.8" height="14.8" fill="#000"/><rect x="1494.4" y="118.1" width="14.8" height="14.8" fill="#000"/><rect x="1518.9" y="153.7" width="14.8" height="14.8" fill="#000"/><rect x="1543.3" y="217.2" width="14.8" height="14.8" fill="#000"/><rect x="1567.8" y="512.1" width="14.8" height="14.8" fill="#000"/><rect x="1592.2" y="180.3" width="14.8" height="14.8" fill="#000"/><rect x="1616.7" y="90.0" width="14.8" height="14.8" fill="#000"/><rect x="1641.1" y="39.0" width="14.8" height="14.8" fill="#000"/><rect x="1665.6" y="17.0" width="14.8" height="14.8" fill="#000"/><rect x="1690.0" y="27.0" width="14.8" height="14.8" fill="#000"/><rect x="1714.5" y="60.3" width="14.8" height="14.8" fill="#000"/><rect x="1739.0" y="114.6" width="14.8" height="14.8" fill="#000"/><rect x="1763.4" y="231.9" width="14.8" height="14.8" fill="#000"/><rect x="1787.9" y="298.7" width="14.8" height="14.8" fill="#000"/><rect x="1812.3" y="153.6" width="14.8" height="14.8" fill="#000"/><rect x="1836.8" y="84.9" width="14.8" height="14.8" fill="#000"/><rect x="1861.2" y="29.1" width="14.8" height="14.8" fill="#000"/><rect x="1885.7" y="18.7" width="14.8" height="14.8" fill="#000"/></g>
<g clip-path="url(#c2)"><circle cx="1061.7" cy="26.1" r="7.8" fill="#0000f0"/><circle cx="1086.2" cy="28.1" r="7.8" fill="#0000f0"/><circle cx="1110.6" cy="29.1" r="7.8" fill="#0000f0"/><circle cx="1135.1" cy="29.8" r="7.8" fill="#0000f0"/><circle cx="1159.5" cy="30.8" r="7.8" fill="#0000f0"/><circle cx="1184.0" cy="32.4" r="7.8" fill="#0000f0"/><circle cx="1208.4" cy="34.4" r="7.8" fill="#0000f0"/><circle cx="1232.9" cy="36.6" r="7.8" fill="#0000f0"/><circle cx="1257.3" cy="39.1" r="7.8" fill="#0000f0"/><circle cx="1281.8" cy="41.9" r="7.8" fill="#0000f0"/><circle cx="1306.2" cy="45.4" r="7.8" fill="#0000f0"/><circle cx="1330.7" cy="49.8" r="7.8" fill="#0000f0"/><circle cx="1355.1" cy="55.2" r="7.8" fill="#0000f0"/><circle cx="1379.6" cy="61.4" r="7.8" fill="#0000f0"/><circle cx="1404.0" cy="68.5" r="7.8" fill="#0000f0"/><circle cx="1428.5" cy="77.4" r="7.8" fill="#0000f0"/><circle cx="1452.9" cy="88.8" r="7.8" fill="#0000f0"/><circle cx="1477.4" cy="103.7" r="7.8" fill="#0000f0"/><circle cx="1501.8" cy="125.8" r="7.8" fill="#0000f0"/><circle cx="1526.3" cy="162.0" r="7.8" fill="#0000f0"/><circle cx="1550.7" cy="228.0" r="7.8" fill="#0000f0"/><circle cx="1575.2" cy="563.5" r="7.8" fill="#0000f0"/><circle cx="1599.6" cy="184.1" r="7.8" fill="#0000f0"/><circle cx="1624.1" cy="96.2" r="7.8" fill="#0000f0"/><circle cx="1648.5" cy="46.1" r="7.8" fill="#0000f0"/><circle cx="1673.0" cy="24.4" r="7.8" fill="#0000f0"/><circle cx="1697.4" cy="34.4" r="7.8" fill="#0000f0"/><circle cx="1721.9" cy="67.3" r="7.8" fill="#0000f0"/><circle cx="1746.4" cy="120.7" r="7.8" fill="#0000f0"/><circle cx="1770.8" cy="231.9" r="7.8" fill="#0000f0"/><circle cx="1795.3" cy="318.4" r="7.8" fill="#0000f0"/><circle cx="1819.7" cy="163.1" r="7.8" fill="#0000f0"/><circle cx="1844.2" cy="93.2" r="7.8" fill="#0000f0"/><circle cx="1868.6" cy="36.6" r="7.8" fill="#0000f0"/><circle cx="1893.1" cy="26.1" r="7.8" fill="#0000f0"/></g>
<g clip-path="url(#c2)"><path d="M1061.7,16.3L1071.6,33.4L1051.8,33.4Z" fill="#c80000"/><path d="M1086.2,18.3L1096.1,35.3L1076.3,35.3Z" fill="#c80000"/><path d="M1110.6,19.4L1120.5,36.4L1100.7,36.4Z" fill="#c80000"/><path d="M1135.1,20.1L1145.0,37.1L1125.2,37.1Z" fill="#c80000"/><path d="M1159.5,21.1L1169.4,38.1L1149.6,38.1Z" fill="#c80000"/><path d="M1184.0,22.6L1193.9,39.6L1174.1,39.6Z" fill="#c80000"/><path d="M1208.4,24.6L1218.3,41.6L1198.5,41.6Z" fill="#c80000"/><path d="M1232.9,26.9L1242.8,43.9L1223.0,43.9Z" fill="#c80000"/><path d="M1257.3,29.3L1267.2,46.3L1247.4,46.3Z" fill="#c80000"/><path d="M1281.8,32.2L1291.7,49.2L1271.9,49.2Z" fill="#c80000"/><path d="M1306.2,35.6L1316.1,52.6L1296.3,52.6Z" fill="#c80000"/><path d="M1330.7,39.9L1340.6,56.9L1320.8,56.9Z" fill="#c80000"/><path d="M1355.1,45.3L1365.0,62.4L1345.2,62.4Z" fill="#c80000"/><path d="M1379.6,51.5L1389.5,68.5L1369.7,68.5Z" fill="#c80000"/><path d="M1404.0,58.6L1413.9,75.6L1394.1,75.6Z" fill="#c80000"/><path d="M1428.5,67.4L1438.4,84.4L1418.6,84.4Z" fill="#c80000"/><path d="M1452.9,78.7L1462.8,95.7L1443.0,95.7Z" fill="#c80000"/><path d="M1477.4,93.4L1487.3,110.4L1467.5,110.4Z" fill="#c80000"/><path d="M1501.8,115.2L1511.7,132.2L1491.9,132.2Z" fill="#c80000"/><path d="M1526.3,149.6L1536.2,166.6L1516.4,166.6Z" fill="#c80000"/><path d="M1550.7,209.3L1560.6,226.3L1540.8,226.3Z" fill="#c80000"/><path d="M1575.2,542.4L1585.1,559.4L1565.3,559.4Z" fill="#c80000"/><path d="M1599.6,185.5L1609.5,202.5L1589.7,202.5Z" fill="#c80000"/><path d="M1624.1,90.1L1634.0,107.1L1614.2,107.1Z" fill="#c80000"/><path d="M1648.5,37.5L1658.4,54.5L1638.6,54.5Z" fill="#c80000"/><path d="M1673.0,14.7L1682.9,31.7L1663.1,31.7Z" fill="#c80000"/><path d="M1697.4,24.4L1707.3,41.4L1687.5,41.4Z" fill="#c80000"/><path d="M1721.9,57.4L1731.8,74.4L1712.0,74.4Z" fill="#c80000"/><path d="M1746.4,111.1L1756.3,128.1L1736.5,128.1Z" fill="#c80000"/><path d="M1770.8,222.9L1780.7,239.9L1760.9,239.9Z" fill="#c80000"/><path d="M1795.3,307.4L1805.2,324.4L1785.4,324.4Z" fill="#c80000"/><path d="M1819.7,153.2L1829.6,170.2L1809.8,170.2Z" fill="#c80000"/><path d="M1844.2,83.4L1854.1,100.4L1834.3,100.4Z" fill="#c80000"/><path d="M1868.6,26.9L1878.5,43.9L1858.7,43.9Z" fill="#c80000"/><path d="M1893.1,18.0L1903.0,35.0L1883.2,35.0Z" fill="#c80000"/></g>
<g clip-path="url(#c2)"><path d="M1061.7,35.8L1071.6,18.8L1051.8,18.8Z" fill="#36a66b"/><path d="M1086.2,37.8L1096.1,20.8L1076.3,20.8Z" fill="#36a66b"/><path d="M1110.6,38.8L1120.5,21.8L1100.7,21.8Z" fill="#36a66b"/><path d="M1135.1,39.6L1145.0,22.5L1125.2,22.5Z" fill="#36a66b"/><path d="M1159.5,40.5L1169.4,23.5L1149.6,23.5Z" fill="#36a66b"/><path d="M1184.0,42.1L1193.9,25.1L1174.1,25.1Z" fill="#36a66b"/><path d="M1208.4,44.1L1218.3,27.1L1198.5,27.1Z" fill="#36a66b"/><path d="M1232.9,46.3L1242.8,29.3L1223.0,29.3Z" fill="#36a66b"/><path d="M1257.3,48.8L1267.2,31.8L1247.4,31.8Z" fill="#36a66b"/><path d="M1281.8,51.6L1291.7,34.6L1271.9,34.6Z" fill="#36a66b"/><path d="M1306.2,55.0L1316.1,38.0L1296.3,38.0Z" fill="#36a66b"/><path d="M1330.7,59.3L1340.6,42.3L1320.8,42.3Z" fill="#36a66b"/><path d="M1355.1,64.7L1365.0,47.7L1345.2,47.7Z" fill="#36a66b"/><path d="M1379.6,70.9L1389.5,53.9L1369.7,53.9Z" fill="#36a66b"/><path d="M1404.0,78.0L1413.9,61.0L1394.1,61.0Z" fill="#36a66b"/><path d="M1428.5,86.8L1438.4,69.8L1418.6,69.8Z" fill="#36a66b"/><path d="M1452.9,98.0L1462.8,81.0L1443.0,81.0Z" fill="#36a66b"/><path d="M1477.4,112.7L1487.3,95.7L1467.5,95.7Z" fill="#36a66b"/><path d="M1501.8,134.3L1511.7,117.3L1491.9,117.3Z" fill="#36a66b"/><path d="M1526.3,168.3L1536.2,151.3L1516.4,151.3Z" fill="#36a66b"/><path d="M1550.7,226.6L1560.6,209.6L1540.8,209.6Z" fill="#36a66b"/><path d="M1575.2,518.0L1585.1,500.9L1565.3,500.9Z" fill="#36a66b"/><path d="M1599.6,209.0L1609.5,192.0L1589.7,192.0Z" fill="#36a66b"/><path d="M1624.1,110.9L1634.0,93.8L1614.2,93.8Z" fill="#36a66b"/><path d="M1648.5,57.4L1658.4,40.4L1638.6,40.4Z" fill="#36a66b"/><path d="M1673.0,34.1L1682.9,17.1L1663.1,17.1Z" fill="#36a66b"/><path d="M1697.4,43.5L1707.3,26.5L1687.5,26.5Z" fill="#36a66b"/><path d="M1721.9,75.7L1731.8,58.7L1712.0,58.7Z" fill="#36a66b"/><path d="M1746.4,127.7L1756.3,110.6L1736.5,110.6Z" fill="#36a66b"/><path d="M1770.8,226.4L1780.7,209.4L1760.9,209.4Z" fill="#36a66b"/><path d="M1795.3,362.4L1805.2,345.4L1785.4,345.4Z" fill="#36a66b"/><path d="M1819.7,177.7L1829.6,160.7L1809.8,160.7Z" fill="#36a66b"/><path d="M1844.2,104.8L1854.1,87.8L1834.3,87.8Z" fill="#36a66b"/><path d="M1868.6,46.7L1878.5,29.7L1858.7,29.7Z" fill="#36a66b"/><path d="M1893.1,35.8L1903.0,18.8L1883.2,18.8Z" fill="#36a66b"/></g>
<g clip-path="url(#c2)"><path d="M1061.7,15.4L1072.3,26.1L1061.7,36.7L1051.1,26.1Z" fill="#a875dc"/><path d="M1086.2,17.4L1096.8,28.0L1086.2,38.7L1075.5,28.0Z" fill="#a875dc"/><path d="M1110.6,18.5L1121.2,29.1L1110.6,39.7L1100.0,29.1Z" fill="#a875dc"/><path d="M1135.1,19.2L1145.7,29.8L1135.1,40.5L1124.4,29.8Z" fill="#a875dc"/><path d="M1159.5,20.2L1170.1,30.8L1159.5,41.4L1148.9,30.8Z" fill="#a875dc"/><path d="M1184.0,21.7L1194.6,32.3L1184.0,43.0L1173.3,32.3Z" fill="#a875dc"/><path d="M1208.4,23.7L1219.0,34.3L1208.4,45.0L1197.8,34.3Z" fill="#a875dc"/><path d="M1232.9,26.0L1243.5,36.6L1232.9,47.2L1222.2,36.6Z" fill="#a875dc"/><path d="M1257.3,28.4L1267.9,39.0L1257.3,49.6L1246.7,39.0Z" fill="#a875dc"/><path d="M1281.8,31.2L1292.4,41.8L1281.8,52.5L1271.1,41.8Z" fill="#a875dc"/><path d="M1306.2,34.6L1316.8,45.2L1306.2,55.8L1295.6,45.2Z" fill="#a875dc"/><path d="M1330.7,38.9L1341.3,49.5L1330.7,60.2L1320.0,49.5Z" fill="#a875dc"/><path d="M1355.1,44.3L1365.7,54.9L1355.1,65.5L1344.5,54.9Z" fill="#a875dc"/><path d="M1379.6,50.4L1390.2,61.1L1379.6,71.7L1368.9,61.1Z" fill="#a875dc"/><path d="M1404.0,57.5L1414.7,68.1L1404.0,78.7L1393.4,68.1Z" fill="#a875dc"/><path d="M1428.5,66.2L1439.1,76.8L1428.5,87.5L1417.9,76.8Z" fill="#a875dc"/><path d="M1452.9,77.4L1463.6,88.0L1452.9,98.7L1442.3,88.0Z" fill="#a875dc"/><path d="M1477.4,92.0L1488.0,102.6L1477.4,113.2L1466.8,102.6Z" fill="#a875dc"/><path d="M1501.8,113.3L1512.5,123.9L1501.8,134.5L1491.2,123.9Z" fill="#a875dc"/><path d="M1526.3,146.4L1536.9,157.0L1526.3,167.7L1515.7,157.0Z" fill="#a875dc"/><path d="M1550.7,202.2L1561.4,212.9L1550.7,223.5L1540.1,212.9Z" fill="#a875dc"/><path d="M1575.2,426.0L1585.8,436.6L1575.2,447.3L1564.6,436.6Z" fill="#a875dc"/><path d="M1599.6,197.8L1610.3,208.4L1599.6,219.0L1589.0,208.4Z" fill="#a875dc"/><path d="M1624.1,93.3L1634.7,104.0L1624.1,114.6L1613.5,104.0Z" fill="#a875dc"/><path d="M1648.5,37.9L1659.2,48.5L1648.5,59.1L1637.9,48.5Z" fill="#a875dc"/><path d="M1673.0,13.7L1683.6,24.4L1673.0,35.0L1662.4,24.4Z" fill="#a875dc"/><path d="M1697.4,22.9L1708.1,33.5L1697.4,44.1L1686.8,33.5Z" fill="#a875dc"/><path d="M1721.9,54.6L1732.5,65.2L1721.9,75.8L1711.3,65.2Z" fill="#a875dc"/><path d="M1746.4,105.7L1757.0,116.3L1746.4,126.9L1735.7,116.3Z" fill="#a875dc"/><path d="M1770.8,197.2L1781.4,207.8L1770.8,218.4L1760.2,207.8Z" fill="#a875dc"/><path d="M1795.3,371.8L1805.9,382.4L1795.3,393.1L1784.6,382.4Z" fill="#a875dc"/><path d="M1819.7,160.5L1830.3,171.2L1819.7,181.8L1809.1,171.2Z" fill="#a875dc"/><path d="M1844.2,85.7L1854.8,96.4L1844.2,107.0L1833.5,96.4Z" fill="#a875dc"/><path d="M1868.6,26.6L1879.2,37.2L1868.6,47.9L1858.0,37.2Z" fill="#a875dc"/><path d="M1893.1,15.4L1903.7,26.1L1893.1,36.7L1882.4,26.1Z" fill="#a875dc"/></g>
<rect x="1061.7" y="20.8" width="814.7" height="658.4" fill="none" stroke="#000" stroke-width="2.6"/>
<path d="M1061.7,679.2v-12M1170.3,679.2v-12M1279.0,679.2v-12M1387.6,679.2v-12M1496.2,679.2v-12M1604.8,679.2v-12M1713.5,679.2v-12M1822.1,679.2v-12M1116.0,679.2v-6M1224.6,679.2v-6M1333.3,679.2v-6M1441.9,679.2v-6M1550.5,679.2v-6M1659.1,679.2v-6M1767.8,679.2v-6M1061.7,20.8h12M1061.7,152.5h12M1061.7,284.2h12M1061.7,415.8h12M1061.7,547.5h12M1061.7,679.2h12M1061.7,86.6h6M1061.7,218.3h6M1061.7,350.0h6M1061.7,481.7h6M1061.7,613.4h6" stroke="#000" stroke-width="2.6" fill="none"/>
<text x="1053.84" y="714.70" font-size="31.43" font-weight="bold" fill="#000">2</text>
<text x="1162.47" y="714.70" font-size="31.43" font-weight="bold" fill="#000">3</text>
<text x="1271.17" y="714.70" font-size="31.43" font-weight="bold" fill="#000">4</text>
<text x="1379.64" y="714.70" font-size="31.43" font-weight="bold" fill="#000">5</text>
<text x="1488.27" y="714.70" font-size="31.43" font-weight="bold" fill="#000">6</text>
<text x="1596.50" y="714.70" font-size="31.43" font-weight="bold" fill="#000">7</text>
<text x="1705.60" y="714.70" font-size="31.43" font-weight="bold" fill="#000">8</text>
<text x="1814.39" y="714.70" font-size="31.43" font-weight="bold" fill="#000">9</text>
<text x="1032.30" y="28.80" font-size="32.18" font-weight="bold" fill="#000">0</text>
<text x="1005.43" y="160.48" font-size="32.18" font-weight="bold" fill="#000">-10</text>
<text x="1005.43" y="292.16" font-size="32.18" font-weight="bold" fill="#000">-20</text>
<text x="1005.43" y="423.84" font-size="32.18" font-weight="bold" fill="#000">-30</text>
<text x="1005.43" y="555.52" font-size="32.18" font-weight="bold" fill="#000">-40</text>
<text x="1005.43" y="687.20" font-size="32.18" font-weight="bold" fill="#000">-50</text>
<text x="1329.74" y="771.60" font-size="36.34" font-weight="bold" fill="#000" textLength="278.94" lengthAdjust="spacingAndGlyphs">Frequency (GHz)</text>
<text transform="translate(988.70,595.18) rotate(-90)" font-size="37.40" font-weight="bold" textLength="490.97" lengthAdjust="spacingAndGlyphs">Transmission Coefficient (dB)</text>
<text x="1118.78" y="606.00" font-size="38.63" font-weight="bold" fill="#000" textLength="52.12" lengthAdjust="spacingAndGlyphs">(b)</text>
<rect x="1100.4" y="73.2" width="250.1" height="268.6" fill="#fff" stroke="#333" stroke-width="1.3"/>
<path d="M1105.5,102.0H1153.0M1153.0,102.0H1200.9" stroke="#505050" stroke-width="4.7" stroke-linecap="round" stroke-dasharray="23,19" fill="none"/>
<rect x="1145.6" y="94.6" width="14.8" height="14.8" fill="#000"/>
<text x="1208.82" y="115.60" font-size="37.25" font-weight="normal" fill="#000" textLength="28.09" lengthAdjust="spacingAndGlyphs">C</text>
<text x="1234.47" y="115.60" font-size="16.39" font-weight="normal" fill="#000" textLength="10.36" lengthAdjust="spacingAndGlyphs">3</text>
<text x="1253.11" y="115.60" font-size="35.79" font-weight="normal" fill="#000">= 0.15</text>
<path d="M1105.5,154.9H1153.0M1153.0,154.9H1200.9" stroke="#0000f0" stroke-width="4.7" stroke-linecap="round" stroke-dasharray="6,28" fill="none"/>
<circle cx="1153.0" cy="154.9" r="7.8" fill="#0000f0"/>
<text x="1208.82" y="168.50" font-size="37.25" font-weight="normal" fill="#000" textLength="28.09" lengthAdjust="spacingAndGlyphs">C</text>
<text x="1234.47" y="168.50" font-size="16.39" font-weight="normal" fill="#000" textLength="10.36" lengthAdjust="spacingAndGlyphs">3</text>
<text x="1253.11" y="168.50" font-size="35.79" font-weight="normal" fill="#000">= 0.20</text>
<path d="M1105.5,207.8H1200.9" stroke="#c80000" stroke-width="4.7" stroke-linecap="round" fill="none"/>
<path d="M1153.0,198.1L1162.9,215.1L1143.1,215.1Z" fill="#c80000"/>
<text x="1208.82" y="221.40" font-size="37.25" font-weight="normal" fill="#000" textLength="28.09" lengthAdjust="spacingAndGlyphs">C</text>
<text x="1234.47" y="221.40" font-size="16.39" font-weight="normal" fill="#000" textLength="10.36" lengthAdjust="spacingAndGlyphs">3</text>
<text x="1253.11" y="221.40" font-size="35.79" font-weight="normal" fill="#000">= 0.25</text>
<path d="M1105.5,260.7H1153.0M1153.0,260.7H1200.9" stroke="#36a66b" stroke-width="4.7" stroke-linecap="round" stroke-dasharray="20,13,0.1,13" fill="none"/>
<path d="M1153.0,270.4L1162.9,253.4L1143.1,253.4Z" fill="#36a66b"/>
<text x="1208.82" y="274.30" font-size="37.25" font-weight="normal" fill="#000" textLength="28.09" lengthAdjust="spacingAndGlyphs">C</text>
<text x="1234.47" y="274.30" font-size="16.39" font-weight="normal" fill="#000" textLength="10.36" lengthAdjust="spacingAndGlyphs">3</text>
<text x="1253.11" y="274.30" font-size="35.79" font-weight="normal" fill="#000">= 0.30</text>
<path d="M1105.5,313.6H1153.0M1153.0,313.6H1200.9" stroke="#a875dc" stroke-width="4.7" stroke-linecap="round" stroke-dasharray="16,11,0.1,11" fill="none"/>
<path d="M1153.0,303.0L1163.6,313.6L1153.0,324.2L1142.4,313.6Z" fill="#a875dc"/>
<text x="1208.82" y="327.20" font-size="37.25" font-weight="normal" fill="#000" textLength="28.09" lengthAdjust="spacingAndGlyphs">C</text>
<text x="1234.47" y="327.20" font-size="16.39" font-weight="normal" fill="#000" textLength="10.36" lengthAdjust="spacingAndGlyphs">3</text>
<text x="1253.11" y="327.20" font-size="35.79" font-weight="normal" fill="#000">= 0.35</text>
<path d="M1237.1,381.1V635.7H1514.8" stroke="#555" stroke-width="1.4" fill="none"/>
<path d="M1237.1,409.4h4M1237.1,466.0h4M1237.1,522.5h4M1237.1,579.1h4M1237.1,635.7h4M1237.1,437.7h3M1237.1,494.3h3M1237.1,550.8h3M1237.1,607.4h3M1237.1,635.7v-4M1376.0,635.7v-4M1514.8,635.7v-4M1306.5,635.7v-3M1445.4,635.7v-3" stroke="#555" stroke-width="1.19" fill="none"/>
<text x="1198.19" y="415.39" font-size="25.56" font-weight="bold" fill="#000">-20</text>
<text x="1198.19" y="471.97" font-size="25.56" font-weight="bold" fill="#000">-30</text>
<text x="1198.19" y="528.54" font-size="25.56" font-weight="bold" fill="#000">-40</text>
<text x="1198.19" y="585.12" font-size="25.56" font-weight="bold" fill="#000">-50</text>
<text x="1198.19" y="641.70" font-size="25.56" font-weight="bold" fill="#000">-60</text>
<text x="1222.85" y="656.60" font-size="22.71" font-weight="bold" fill="#000">6.6</text>
<text x="1361.64" y="656.60" font-size="22.71" font-weight="bold" fill="#000">6.7</text>
<text x="1500.61" y="656.60" font-size="22.71" font-weight="bold" fill="#000">6.8</text>
<path d="M1237.1,415.4L1263.9,424.3L1288.1,433.9L1300.1,439.6L1312.2,446.0L1324.3,453.3L1336.4,461.8L1348.5,472.0L1360.5,484.6L1372.6,500.5L1384.7,520.0L1396.8,532.7L1408.9,517.8L1420.9,496.6L1433.0,480.1L1445.1,467.2L1457.2,456.9L1469.3,448.3L1481.3,441.0L1493.4,434.5L1514.8,424.9" fill="none" stroke="#505050" stroke-width="3.0" stroke-linecap="butt" stroke-linejoin="round"/>
<path d="M1237.1,421.8L1251.4,426.7L1275.6,436.5L1287.6,442.3L1299.7,448.8L1311.8,456.4L1323.9,465.2L1336.0,476.1L1348.0,490.0L1360.1,509.3L1372.2,540.2L1384.3,585.3L1396.4,533.1L1408.4,501.4L1420.5,481.9L1432.6,467.9L1444.7,457.1L1456.8,448.2L1468.8,440.6L1480.9,434.1L1493.0,428.4L1514.8,419.4" fill="none" stroke="#0000f0" stroke-width="3.0" stroke-linecap="butt" stroke-linejoin="round"/>
<path d="M1237.1,408.7L1252.7,413.0L1276.8,420.4L1301.0,429.2L1313.1,434.3L1325.1,439.9L1337.2,446.3L1349.3,453.5L1361.4,462.0L1373.5,472.1L1385.5,484.6L1397.6,500.1L1409.7,518.8L1421.8,530.5L1433.9,516.7L1445.9,496.4L1458.0,480.2L1470.1,467.5L1482.2,457.2L1494.3,448.6L1506.3,441.3L1514.8,436.7" fill="none" stroke="#c80000" stroke-width="3.0" stroke-linecap="butt" stroke-linejoin="round"/>
<path d="M1237.1,404.8L1253.1,408.9L1277.2,415.8L1301.4,423.9L1313.5,428.5L1325.5,433.5L1337.6,439.2L1349.7,445.6L1361.8,452.9L1373.9,461.4L1385.9,471.5L1398.0,484.0L1410.1,499.8L1422.2,518.8L1434.3,531.0L1446.3,517.7L1458.4,497.8L1470.5,481.6L1482.6,469.0L1494.7,458.8L1506.7,450.2L1514.8,445.2" fill="none" stroke="#36a66b" stroke-width="3.0" stroke-linecap="butt" stroke-linejoin="round"/>
<path d="M1237.1,400.2L1255.3,404.3L1279.4,410.4L1303.6,417.3L1315.7,421.1L1339.8,429.9L1351.9,435.0L1364.0,440.6L1376.1,447.0L1388.2,454.2L1400.2,462.7L1412.3,472.7L1424.4,485.0L1436.5,500.3L1448.6,518.3L1460.6,529.3L1472.7,513.7L1484.8,492.1L1496.9,475.4L1509.0,462.5L1514.8,457.2" fill="none" stroke="#a875dc" stroke-width="3.0" stroke-linecap="butt" stroke-linejoin="round"/>
<path d="M1568.2,443.7L1539.8,443.7" stroke="#000" stroke-width="4.2" fill="none"/>
<path d="M1515.3,443.7L1541.8,436.4L1541.8,450.9Z" fill="#000"/>
<path d="M1609.5,457.4V646.0H1833.8" stroke="#555" stroke-width="1.4" fill="none"/>
<path d="M1609.5,493.9h3M1609.5,570.0h3M1609.5,646.0h3M1609.5,531.9h2M1609.5,608.0h2M1609.5,646.0v-3M1721.6,646.0v-3M1833.8,646.0v-3M1665.6,646.0v-2M1777.7,646.0v-2" stroke="#555" stroke-width="1.19" fill="none"/>
<text x="1579.00" y="499.20" font-size="20.00" font-weight="bold" fill="#000">-20</text>
<text x="1579.00" y="575.25" font-size="20.00" font-weight="bold" fill="#000">-30</text>
<text x="1579.00" y="651.30" font-size="20.00" font-weight="bold" fill="#000">-40</text>
<text x="1597.04" y="663.50" font-size="19.85" font-weight="bold" fill="#000">8.6</text>
<text x="1709.14" y="663.50" font-size="19.85" font-weight="bold" fill="#000">8.7</text>
<text x="1821.39" y="663.50" font-size="19.85" font-weight="bold" fill="#000">8.8</text>
<path d="M1609.5,512.5L1617.5,519.5L1627.2,529.1L1637.0,540.2L1646.7,553.4L1656.5,569.4L1666.2,588.8L1676.0,610.3L1685.8,622.4L1695.5,611.0L1705.3,590.2L1715.0,571.2L1724.8,555.4L1734.5,542.3L1744.3,531.2L1754.1,521.6L1763.8,513.2L1773.6,505.7L1783.3,499.0L1802.8,487.3L1822.4,477.4L1833.8,472.3" fill="none" stroke="#505050" stroke-width="2.4" stroke-linecap="butt" stroke-linejoin="round"/>
<path d="M1609.5,510.1L1618.9,517.3L1628.7,525.6L1638.4,535.1L1648.2,546.0L1657.9,558.8L1667.7,573.9L1687.2,610.0L1697.0,619.4L1706.7,608.4L1716.5,588.2L1726.2,569.5L1736.0,553.9L1745.8,540.8L1755.5,529.8L1765.3,520.2L1775.0,511.8L1784.8,504.3L1794.5,497.6L1814.1,486.0L1833.8,476.0" fill="none" stroke="#0000f0" stroke-width="2.4" stroke-linecap="butt" stroke-linejoin="round"/>
<path d="M1609.5,508.0L1617.8,514.4L1627.6,522.8L1637.3,532.4L1647.1,543.4L1656.8,556.5L1666.6,572.1L1676.3,590.7L1686.1,610.8L1695.9,621.7L1705.6,611.9L1725.1,575.2L1734.9,560.0L1744.6,547.1L1754.4,536.2L1764.2,526.7L1773.9,518.3L1783.7,510.9L1793.4,504.2L1812.9,492.6L1833.8,482.0" fill="none" stroke="#c80000" stroke-width="2.4" stroke-linecap="butt" stroke-linejoin="round"/>
<path d="M1609.5,493.2L1624.1,502.1L1633.8,508.8L1643.6,516.3L1653.4,524.6L1663.1,534.1L1672.9,545.1L1682.6,558.0L1692.4,573.4L1711.9,610.8L1721.6,620.9L1731.4,610.8L1750.9,573.4L1760.7,558.0L1770.4,545.1L1780.2,534.1L1789.9,524.6L1799.7,516.3L1809.5,508.8L1819.2,502.1L1833.8,493.2" fill="none" stroke="#36a66b" stroke-width="2.4" stroke-linecap="butt" stroke-linejoin="round"/>
<path d="M1609.5,485.8L1630.0,497.0L1639.8,503.1L1649.5,509.8L1659.3,517.3L1669.1,525.7L1678.8,535.2L1688.6,546.2L1698.3,559.2L1708.1,574.7L1717.8,593.1L1727.6,612.7L1737.4,623.2L1747.1,612.5L1756.9,592.5L1766.6,573.9L1776.4,558.3L1786.1,545.3L1795.9,534.3L1805.7,524.7L1815.4,516.4L1825.2,508.9L1833.8,502.9" fill="none" stroke="#a875dc" stroke-width="2.4" stroke-linecap="butt" stroke-linejoin="round"/>
<path d="M1781.9,481.8L1755.4,510.1" stroke="#000" stroke-width="4.0" fill="none"/>
<path d="M1737.8,528.8L1751.2,503.4L1762.3,513.8Z" fill="#000"/>
<clipPath id="c3"><rect x="101.5" y="802.2" width="838.9" height="676.4"/></clipPath>
<path d="M90.3,807.9L129.7,808.6L159.0,810.1L197.5,813.1L258.9,818.9L296.1,823.3L331.0,828.3L357.5,833.2L385.7,839.4L417.6,847.5L446.4,855.7L466.4,862.5L483.9,869.9L492.7,874.4L501.8,879.7L519.6,891.7L533.8,903.1L540.1,909.1L546.5,916.1L557.5,929.4L566.3,941.5L574.1,953.8L580.6,966.2L585.3,978.1L597.1,1012.3L604.2,1028.1L609.4,1055.0L613.7,1083.8L617.6,1116.9L620.8,1153.1L623.4,1191.5L625.3,1229.9L627.1,1276.3L630.1,1406.4L630.7,1421.5L633.7,1284.0L636.3,1209.1L638.3,1171.5L640.4,1139.3L643.0,1109.0L646.0,1080.9L651.2,1043.7L657.6,1006.8L667.1,946.6L671.4,924.0L676.6,904.3L687.1,871.9L694.2,852.3L700.3,838.8L704.1,832.3L716.0,816.6L721.8,810.9L724.4,809.1L727.0,807.9L729.3,807.5L731.9,807.6L734.9,808.3L737.9,809.6L744.4,813.7L753.7,821.3L758.8,827.1L764.4,835.7L770.8,847.7L781.8,870.3L788.0,884.2L793.7,898.6L799.3,914.1L804.2,929.4L808.9,947.9L820.2,997.9L827.5,1023.3L831.1,1048.2L834.5,1077.8L838.6,1125.0L841.8,1179.9L843.9,1233.9L846.7,1338.6L847.6,1355.3L848.2,1344.9L852.1,1210.5L854.1,1167.8L856.2,1132.1L858.9,1099.1L861.7,1070.8L864.7,1046.1L868.6,1019.4L872.3,986.0L874.1,973.5L876.0,966.0L882.5,949.3L901.4,893.0L917.0,852.9L924.0,836.7L929.6,826.1L934.6,819.6L940.0,815.0L944.1,812.2L947.8,810.4L951.3,809.7" fill="none" stroke="#555555" stroke-width="4.8" stroke-linecap="round" stroke-linejoin="round" stroke-dasharray="23,19" clip-path="url(#c3)"/>
<path d="M90.3,807.9L129.7,808.6L159.0,810.1L197.6,813.1L258.9,818.9L296.2,823.3L331.1,828.3L357.6,833.2L385.8,839.4L417.7,847.5L446.5,855.7L466.6,862.5L484.0,869.9L492.8,874.4L501.9,879.7L519.8,891.7L534.0,903.1L540.2,909.1L546.7,916.1L557.7,929.4L566.5,941.5L574.2,953.8L580.7,966.2L585.4,978.1L597.3,1012.3L604.4,1028.1L609.6,1055.0L613.9,1083.8L617.8,1116.9L621.0,1153.1L623.6,1191.5L625.5,1229.9L627.2,1276.3L630.2,1406.4L630.9,1421.5L633.9,1284.0L636.5,1209.1L638.4,1171.5L640.6,1139.3L643.2,1109.0L646.2,1080.9L651.3,1043.7L657.8,1006.8L667.3,946.6L671.6,924.0L676.8,904.3L687.3,871.9L694.4,852.3L700.5,838.8L704.3,832.3L716.2,816.6L722.0,810.9L724.6,809.1L727.2,807.9L729.5,807.5L732.1,807.6L735.1,808.3L738.1,809.6L744.6,813.7L753.9,821.3L759.0,827.1L764.8,836.1L771.3,848.1L782.5,870.7L788.7,884.7L794.5,899.2L800.1,914.7L805.1,930.2L809.6,947.9L821.0,997.9L828.3,1023.3L832.2,1049.9L835.7,1079.9L839.8,1128.1L843.0,1184.5L845.4,1247.5L847.9,1345.4L848.6,1355.3L849.2,1344.9L853.1,1210.5L855.0,1167.8L857.2,1132.1L859.8,1099.1L862.8,1068.9L865.6,1046.1L869.5,1019.4L873.4,984.2L875.1,972.3L876.8,966.0L883.3,949.3L902.2,892.4L917.7,852.4L924.6,836.2L930.0,826.1L935.0,819.6L940.4,815.0L944.5,812.2L948.1,810.4L951.6,809.7" fill="none" stroke="#0000f0" stroke-width="4.8" stroke-linecap="round" stroke-linejoin="round" stroke-dasharray="29,21" clip-path="url(#c3)"/>
<path d="M90.3,807.9L129.7,808.6L159.0,810.1L197.6,813.1L259.0,818.9L296.2,823.3L331.1,828.3L357.6,833.2L385.8,839.4L417.7,847.5L446.5,855.7L466.6,862.5L484.0,869.9L492.8,874.4L501.9,879.7L519.8,891.7L534.0,903.1L540.2,909.1L546.7,916.1L557.7,929.4L566.5,941.5L574.3,953.8L580.7,966.2L585.5,978.1L597.3,1012.3L604.4,1028.1L609.6,1055.0L613.9,1083.8L617.8,1116.9L621.0,1153.1L623.6,1191.5L625.5,1229.9L627.2,1276.3L630.3,1406.4L630.9,1421.5L633.9,1284.0L636.5,1209.1L638.4,1171.5L640.6,1139.3L643.2,1109.0L646.2,1080.9L651.4,1043.7L657.8,1006.8L667.3,946.6L671.6,924.0L676.8,904.3L687.3,871.9L694.4,852.3L700.5,838.8L704.3,832.3L716.2,816.6L722.0,810.9L724.6,809.1L727.2,807.9L729.5,807.5L732.1,807.6L735.1,808.3L738.2,809.6L744.6,813.7L753.9,821.3L759.0,827.1L764.9,836.1L771.3,848.1L782.5,870.7L788.8,884.7L794.6,899.2L800.2,914.7L805.1,930.2L809.7,947.9L821.1,997.9L828.4,1023.3L832.3,1049.9L835.7,1079.9L839.8,1128.1L843.0,1184.5L845.4,1247.5L848.0,1345.4L848.6,1355.3L849.3,1344.9L853.2,1210.5L855.1,1167.8L857.3,1132.1L859.8,1099.1L862.9,1068.9L865.7,1046.1L869.5,1019.4L873.4,984.2L875.1,972.3L876.9,966.0L883.3,949.3L902.3,892.4L917.8,852.4L924.7,836.2L930.0,826.1L935.0,819.6L940.4,815.0L944.5,812.2L948.1,810.4L951.6,809.7" fill="none" stroke="#c80000" stroke-width="4.8" stroke-linecap="round" stroke-linejoin="round" clip-path="url(#c3)"/>
<path d="M90.3,807.9L129.7,808.6L159.1,810.1L197.6,813.1L259.0,818.9L296.3,823.3L331.2,828.3L357.7,833.2L386.0,839.4L417.9,847.5L446.7,855.7L466.8,862.5L484.2,869.9L493.1,874.4L502.1,879.7L520.0,891.7L534.2,903.1L540.5,909.1L546.9,916.1L557.9,929.4L566.8,941.5L574.5,953.8L581.0,966.2L585.7,978.1L597.6,1012.3L604.7,1028.1L609.9,1055.0L614.2,1083.8L618.0,1116.9L621.3,1153.1L623.9,1191.5L625.8,1229.9L627.5,1276.3L630.5,1406.4L631.2,1421.5L634.2,1284.0L636.8,1209.1L638.7,1171.5L640.9,1139.3L643.5,1109.0L646.5,1080.9L651.7,1043.7L658.1,1006.8L667.6,946.6L671.9,924.0L677.1,904.3L687.6,871.9L694.8,852.3L700.8,838.8L704.7,832.3L716.5,816.6L722.3,810.9L724.9,809.1L727.5,807.9L729.9,807.5L732.5,807.6L735.5,808.3L738.5,809.6L745.0,813.7L754.2,821.3L759.4,827.1L765.5,836.4L772.1,848.5L783.7,871.6L790.1,885.7L796.0,900.3L801.8,916.0L806.6,930.9L811.0,947.9L822.5,997.9L829.9,1023.3L833.9,1049.9L837.4,1079.9L841.5,1128.1L844.8,1184.5L847.2,1247.5L849.8,1345.4L850.4,1355.3L851.1,1344.9L854.9,1210.5L856.8,1167.8L858.9,1132.1L861.5,1099.1L864.4,1068.9L867.2,1046.1L871.0,1019.4L874.8,984.2L876.5,972.3L878.2,966.0L884.4,949.9L903.1,893.0L918.4,852.9L925.3,836.7L930.8,826.1L935.7,819.6L941.0,815.0L945.1,812.2L948.7,810.4L952.1,809.7" fill="none" stroke="#36a66b" stroke-width="4.8" stroke-linecap="round" stroke-linejoin="round" stroke-dasharray="0.1,11.3" clip-path="url(#c3)"/>
<path d="M90.3,807.9L129.7,808.6L159.0,810.1L197.5,813.1L258.8,818.9L296.0,823.3L330.9,828.3L357.3,833.2L385.5,839.4L417.4,847.5L446.2,855.7L466.2,862.5L483.6,869.9L492.4,874.4L501.5,879.7L519.3,891.7L533.5,903.1L539.8,909.1L546.2,916.1L557.2,929.4L566.0,941.5L573.8,953.8L580.2,966.2L585.0,978.1L596.8,1012.3L603.9,1028.1L609.1,1055.0L613.4,1083.8L617.2,1116.9L620.5,1153.1L623.1,1191.5L625.0,1229.9L626.7,1276.3L629.7,1406.4L630.4,1421.5L633.4,1284.0L636.0,1209.1L637.9,1171.5L640.0,1139.3L642.6,1109.0L645.9,1079.1L651.0,1042.4L657.3,1006.8L666.7,946.6L671.2,923.0L676.6,902.9L688.0,868.1L695.1,849.1L701.2,836.4L709.5,824.2L716.4,815.6L722.0,810.4L724.6,808.8L727.0,807.8L729.3,807.5L732.1,807.7L737.9,809.8L744.4,814.0L753.7,821.7L758.8,827.6L764.1,836.1L770.3,848.1L781.1,870.7L787.1,884.7L792.7,899.2L798.1,914.7L802.9,930.2L807.3,947.9L818.4,997.9L825.6,1023.3L829.4,1049.9L832.7,1079.9L836.7,1128.1L839.9,1184.5L842.2,1247.5L844.7,1345.4L845.3,1355.3L846.0,1344.9L850.0,1210.5L852.0,1167.8L854.2,1132.1L856.9,1099.1L860.0,1068.9L862.8,1046.1L866.8,1019.4L870.8,984.2L872.6,972.3L874.3,966.0L881.2,948.7L899.3,895.4L916.4,866.8L920.3,862.1L923.9,858.7L927.1,856.4L930.2,855.2L933.7,855.1L939.2,857.1L945.6,857.3L950.6,859.3" fill="none" stroke="#a875dc" stroke-width="4.8" stroke-linecap="round" stroke-linejoin="round" stroke-dasharray="16,11,0.1,11" clip-path="url(#c3)"/>
<g clip-path="url(#c3)"><rect x="94.2" y="800.8" width="14.5" height="14.5" fill="#555555"/><rect x="119.4" y="801.3" width="14.5" height="14.5" fill="#555555"/><rect x="144.5" y="802.4" width="14.5" height="14.5" fill="#555555"/><rect x="169.7" y="804.1" width="14.5" height="14.5" fill="#555555"/><rect x="194.8" y="806.3" width="14.5" height="14.5" fill="#555555"/><rect x="220.0" y="808.5" width="14.5" height="14.5" fill="#555555"/><rect x="245.1" y="810.9" width="14.5" height="14.5" fill="#555555"/><rect x="270.3" y="813.7" width="14.5" height="14.5" fill="#555555"/><rect x="295.4" y="816.9" width="14.5" height="14.5" fill="#555555"/><rect x="320.6" y="820.6" width="14.5" height="14.5" fill="#555555"/><rect x="345.7" y="825.0" width="14.5" height="14.5" fill="#555555"/><rect x="370.8" y="830.3" width="14.5" height="14.5" fill="#555555"/><rect x="396.0" y="836.4" width="14.5" height="14.5" fill="#555555"/><rect x="421.1" y="843.2" width="14.5" height="14.5" fill="#555555"/><rect x="446.3" y="850.7" width="14.5" height="14.5" fill="#555555"/><rect x="471.4" y="860.3" width="14.5" height="14.5" fill="#555555"/><rect x="496.6" y="873.7" width="14.5" height="14.5" fill="#555555"/><rect x="521.7" y="891.6" width="14.5" height="14.5" fill="#555555"/><rect x="546.9" y="917.9" width="14.5" height="14.5" fill="#555555"/><rect x="572.0" y="956.1" width="14.5" height="14.5" fill="#555555"/><rect x="597.1" y="1021.3" width="14.5" height="14.5" fill="#555555"/><rect x="622.3" y="1373.4" width="14.5" height="14.5" fill="#555555"/><rect x="647.4" y="1016.4" width="14.5" height="14.5" fill="#555555"/><rect x="672.6" y="886.9" width="14.5" height="14.5" fill="#555555"/><rect x="697.7" y="823.9" width="14.5" height="14.5" fill="#555555"/><rect x="722.9" y="800.2" width="14.5" height="14.5" fill="#555555"/><rect x="748.0" y="815.6" width="14.5" height="14.5" fill="#555555"/><rect x="773.2" y="860.0" width="14.5" height="14.5" fill="#555555"/><rect x="798.3" y="927.2" width="14.5" height="14.5" fill="#555555"/><rect x="823.4" y="1037.9" width="14.5" height="14.5" fill="#555555"/><rect x="848.6" y="1130.9" width="14.5" height="14.5" fill="#555555"/><rect x="873.7" y="946.5" width="14.5" height="14.5" fill="#555555"/><rect x="898.9" y="873.6" width="14.5" height="14.5" fill="#555555"/><rect x="924.0" y="816.3" width="14.5" height="14.5" fill="#555555"/><rect x="949.2" y="802.5" width="14.5" height="14.5" fill="#555555"/></g>
<g clip-path="url(#c3)"><circle cx="101.5" cy="808.0" r="7.8" fill="#0000f0"/><circle cx="126.6" cy="808.6" r="7.8" fill="#0000f0"/><circle cx="151.8" cy="809.6" r="7.8" fill="#0000f0"/><circle cx="176.9" cy="811.4" r="7.8" fill="#0000f0"/><circle cx="202.1" cy="813.5" r="7.8" fill="#0000f0"/><circle cx="227.2" cy="815.8" r="7.8" fill="#0000f0"/><circle cx="252.4" cy="818.2" r="7.8" fill="#0000f0"/><circle cx="277.5" cy="820.9" r="7.8" fill="#0000f0"/><circle cx="302.7" cy="824.1" r="7.8" fill="#0000f0"/><circle cx="327.8" cy="827.8" r="7.8" fill="#0000f0"/><circle cx="352.9" cy="832.2" r="7.8" fill="#0000f0"/><circle cx="378.1" cy="837.6" r="7.8" fill="#0000f0"/><circle cx="403.2" cy="843.7" r="7.8" fill="#0000f0"/><circle cx="428.4" cy="850.4" r="7.8" fill="#0000f0"/><circle cx="453.5" cy="857.9" r="7.8" fill="#0000f0"/><circle cx="478.7" cy="867.5" r="7.8" fill="#0000f0"/><circle cx="503.8" cy="880.8" r="7.8" fill="#0000f0"/><circle cx="529.0" cy="898.8" r="7.8" fill="#0000f0"/><circle cx="554.1" cy="925.0" r="7.8" fill="#0000f0"/><circle cx="579.2" cy="963.1" r="7.8" fill="#0000f0"/><circle cx="604.4" cy="1028.1" r="7.8" fill="#0000f0"/><circle cx="629.5" cy="1372.2" r="7.8" fill="#0000f0"/><circle cx="654.7" cy="1024.6" r="7.8" fill="#0000f0"/><circle cx="679.8" cy="894.7" r="7.8" fill="#0000f0"/><circle cx="705.0" cy="831.4" r="7.8" fill="#0000f0"/><circle cx="730.1" cy="807.5" r="7.8" fill="#0000f0"/><circle cx="755.3" cy="822.6" r="7.8" fill="#0000f0"/><circle cx="780.4" cy="866.4" r="7.8" fill="#0000f0"/><circle cx="805.5" cy="931.8" r="7.8" fill="#0000f0"/><circle cx="830.7" cy="1038.6" r="7.8" fill="#0000f0"/><circle cx="855.8" cy="1153.6" r="7.8" fill="#0000f0"/><circle cx="881.0" cy="955.8" r="7.8" fill="#0000f0"/><circle cx="906.1" cy="882.3" r="7.8" fill="#0000f0"/><circle cx="931.3" cy="824.2" r="7.8" fill="#0000f0"/><circle cx="956.4" cy="809.7" r="7.8" fill="#0000f0"/></g>
<g clip-path="url(#c3)"><path d="M101.5,798.3L111.4,815.3L91.6,815.3Z" fill="#c80000"/><path d="M126.6,798.8L136.5,815.8L116.7,815.8Z" fill="#c80000"/><path d="M151.8,799.9L161.7,816.9L141.9,816.9Z" fill="#c80000"/><path d="M176.9,801.7L186.8,818.7L167.0,818.7Z" fill="#c80000"/><path d="M202.1,803.8L212.0,820.8L192.2,820.8Z" fill="#c80000"/><path d="M227.2,806.0L237.1,823.1L217.3,823.1Z" fill="#c80000"/><path d="M252.4,808.5L262.3,825.5L242.5,825.5Z" fill="#c80000"/><path d="M277.5,811.2L287.4,828.2L267.6,828.2Z" fill="#c80000"/><path d="M302.7,814.4L312.6,831.4L292.8,831.4Z" fill="#c80000"/><path d="M327.8,818.1L337.7,835.1L317.9,835.1Z" fill="#c80000"/><path d="M352.9,822.5L362.8,839.5L343.0,839.5Z" fill="#c80000"/><path d="M378.1,827.9L388.0,844.9L368.2,844.9Z" fill="#c80000"/><path d="M403.2,833.9L413.1,851.0L393.3,851.0Z" fill="#c80000"/><path d="M428.4,840.7L438.3,857.7L418.5,857.7Z" fill="#c80000"/><path d="M453.5,848.2L463.4,865.2L443.6,865.2Z" fill="#c80000"/><path d="M478.7,857.8L488.6,874.8L468.8,874.8Z" fill="#c80000"/><path d="M503.8,871.1L513.7,888.1L493.9,888.1Z" fill="#c80000"/><path d="M529.0,889.1L538.9,906.1L519.1,906.1Z" fill="#c80000"/><path d="M554.1,915.2L564.0,932.2L544.2,932.2Z" fill="#c80000"/><path d="M579.2,953.4L589.1,970.4L569.3,970.4Z" fill="#c80000"/><path d="M604.4,1018.3L614.3,1035.4L594.5,1035.4Z" fill="#c80000"/><path d="M629.5,1362.0L639.4,1379.0L619.6,1379.0Z" fill="#c80000"/><path d="M654.7,1014.9L664.6,1031.9L644.8,1031.9Z" fill="#c80000"/><path d="M679.8,885.0L689.7,902.0L669.9,902.0Z" fill="#c80000"/><path d="M705.0,821.7L714.9,838.7L695.1,838.7Z" fill="#c80000"/><path d="M730.1,797.7L740.0,814.8L720.2,814.8Z" fill="#c80000"/><path d="M755.3,812.9L765.2,829.9L745.4,829.9Z" fill="#c80000"/><path d="M780.4,856.6L790.3,873.6L770.5,873.6Z" fill="#c80000"/><path d="M805.5,921.9L815.4,938.9L795.6,938.9Z" fill="#c80000"/><path d="M830.7,1028.5L840.6,1045.5L820.8,1045.5Z" fill="#c80000"/><path d="M855.8,1144.8L865.7,1161.8L845.9,1161.8Z" fill="#c80000"/><path d="M881.0,946.2L890.9,963.2L871.1,963.2Z" fill="#c80000"/><path d="M906.1,872.6L916.0,889.7L896.2,889.7Z" fill="#c80000"/><path d="M931.3,814.5L941.2,831.5L921.4,831.5Z" fill="#c80000"/><path d="M956.4,801.1L966.3,818.1L946.5,818.1Z" fill="#c80000"/></g>
<g clip-path="url(#c3)"><path d="M101.5,817.7L111.4,800.7L91.6,800.7Z" fill="#36a66b"/><path d="M126.6,818.3L136.5,801.3L116.7,801.3Z" fill="#36a66b"/><path d="M151.8,819.4L161.7,802.4L141.9,802.4Z" fill="#36a66b"/><path d="M176.9,821.1L186.8,804.1L167.0,804.1Z" fill="#36a66b"/><path d="M202.1,823.2L212.0,806.2L192.2,806.2Z" fill="#36a66b"/><path d="M227.2,825.5L237.1,808.5L217.3,808.5Z" fill="#36a66b"/><path d="M252.4,827.9L262.3,810.9L242.5,810.9Z" fill="#36a66b"/><path d="M277.5,830.7L287.4,813.6L267.6,813.6Z" fill="#36a66b"/><path d="M302.7,833.8L312.6,816.8L292.8,816.8Z" fill="#36a66b"/><path d="M327.8,837.5L337.7,820.5L317.9,820.5Z" fill="#36a66b"/><path d="M352.9,841.9L362.8,824.9L343.0,824.9Z" fill="#36a66b"/><path d="M378.1,847.3L388.0,830.3L368.2,830.3Z" fill="#36a66b"/><path d="M403.2,853.3L413.1,836.3L393.3,836.3Z" fill="#36a66b"/><path d="M428.4,860.0L438.3,843.0L418.5,843.0Z" fill="#36a66b"/><path d="M453.5,867.6L463.4,850.6L443.6,850.6Z" fill="#36a66b"/><path d="M478.7,877.1L488.6,860.1L468.8,860.1Z" fill="#36a66b"/><path d="M503.8,890.4L513.7,873.4L493.9,873.4Z" fill="#36a66b"/><path d="M529.0,908.3L538.9,891.3L519.1,891.3Z" fill="#36a66b"/><path d="M554.1,934.4L564.0,917.4L544.2,917.4Z" fill="#36a66b"/><path d="M579.2,972.3L589.1,955.3L569.3,955.3Z" fill="#36a66b"/><path d="M604.4,1037.0L614.3,1020.0L594.5,1020.0Z" fill="#36a66b"/><path d="M629.5,1366.9L639.4,1349.9L619.6,1349.9Z" fill="#36a66b"/><path d="M654.7,1036.0L664.6,1019.0L644.8,1019.0Z" fill="#36a66b"/><path d="M679.8,905.4L689.7,888.4L669.9,888.4Z" fill="#36a66b"/><path d="M705.0,841.6L714.9,824.6L695.1,824.6Z" fill="#36a66b"/><path d="M730.1,817.2L740.0,800.2L720.2,800.2Z" fill="#36a66b"/><path d="M755.3,831.9L765.2,814.9L745.4,814.9Z" fill="#36a66b"/><path d="M780.4,874.5L790.3,857.5L770.5,857.5Z" fill="#36a66b"/><path d="M805.5,937.1L815.4,920.1L795.6,920.1Z" fill="#36a66b"/><path d="M830.7,1037.5L840.6,1020.5L820.8,1020.5Z" fill="#36a66b"/><path d="M855.8,1197.4L865.7,1180.4L845.9,1180.4Z" fill="#36a66b"/><path d="M881.0,968.9L890.9,951.9L871.1,951.9Z" fill="#36a66b"/><path d="M906.1,894.6L916.0,877.6L896.2,877.6Z" fill="#36a66b"/><path d="M931.3,835.1L941.2,818.0L921.4,818.0Z" fill="#36a66b"/><path d="M956.4,819.4L966.3,802.4L946.5,802.4Z" fill="#36a66b"/></g>
<g clip-path="url(#c3)"><path d="M101.5,797.4L112.1,808.0L101.5,818.6L90.9,808.0Z" fill="#a875dc"/><path d="M126.6,797.9L137.3,808.6L126.6,819.2L116.0,808.6Z" fill="#a875dc"/><path d="M151.8,799.0L162.4,809.6L151.8,820.3L141.2,809.6Z" fill="#a875dc"/><path d="M176.9,800.8L187.6,811.4L176.9,822.0L166.3,811.4Z" fill="#a875dc"/><path d="M202.1,802.9L212.7,813.5L202.1,824.1L191.5,813.5Z" fill="#a875dc"/><path d="M227.2,805.2L237.8,815.8L227.2,826.4L216.6,815.8Z" fill="#a875dc"/><path d="M252.4,807.6L263.0,818.2L252.4,828.8L241.7,818.2Z" fill="#a875dc"/><path d="M277.5,810.3L288.1,821.0L277.5,831.6L266.9,821.0Z" fill="#a875dc"/><path d="M302.7,813.5L313.3,824.2L302.7,834.8L292.0,824.2Z" fill="#a875dc"/><path d="M327.8,817.2L338.4,827.8L327.8,838.5L317.2,827.8Z" fill="#a875dc"/><path d="M352.9,821.7L363.6,832.3L352.9,842.9L342.3,832.3Z" fill="#a875dc"/><path d="M378.1,827.0L388.7,837.6L378.1,848.3L367.5,837.6Z" fill="#a875dc"/><path d="M403.2,833.1L413.9,843.7L403.2,854.4L392.6,843.7Z" fill="#a875dc"/><path d="M428.4,839.8L439.0,850.5L428.4,861.1L417.8,850.5Z" fill="#a875dc"/><path d="M453.5,847.4L464.1,858.0L453.5,868.7L442.9,858.0Z" fill="#a875dc"/><path d="M478.7,857.0L489.3,867.7L478.7,878.3L468.0,867.7Z" fill="#a875dc"/><path d="M503.8,870.5L514.4,881.1L503.8,891.7L493.2,881.1Z" fill="#a875dc"/><path d="M529.0,888.5L539.6,899.1L529.0,909.8L518.3,899.1Z" fill="#a875dc"/><path d="M554.1,914.9L564.7,925.5L554.1,936.1L543.5,925.5Z" fill="#a875dc"/><path d="M579.2,953.4L589.9,964.0L579.2,974.7L568.6,964.0Z" fill="#a875dc"/><path d="M604.4,1019.1L615.0,1029.8L604.4,1040.4L593.8,1029.8Z" fill="#a875dc"/><path d="M629.5,1387.7L640.2,1398.3L629.5,1409.0L618.9,1398.3Z" fill="#a875dc"/><path d="M654.7,1011.1L665.3,1021.7L654.7,1032.3L644.1,1021.7Z" fill="#a875dc"/><path d="M679.8,882.3L690.5,892.9L679.8,903.5L669.2,892.9Z" fill="#a875dc"/><path d="M705.0,820.0L715.6,830.6L705.0,841.2L694.3,830.6Z" fill="#a875dc"/><path d="M730.1,796.9L740.7,807.5L730.1,818.1L719.5,807.5Z" fill="#a875dc"/><path d="M755.3,812.6L765.9,823.3L755.3,833.9L744.6,823.3Z" fill="#a875dc"/><path d="M780.4,858.6L791.0,869.2L780.4,879.9L769.8,869.2Z" fill="#a875dc"/><path d="M805.5,930.0L816.2,940.6L805.5,951.2L794.9,940.6Z" fill="#a875dc"/><path d="M830.7,1050.4L841.3,1061.0L830.7,1071.6L820.1,1061.0Z" fill="#a875dc"/><path d="M855.8,1100.1L866.5,1110.7L855.8,1121.3L845.2,1110.7Z" fill="#a875dc"/><path d="M881.0,938.7L891.6,949.3L881.0,959.9L870.4,949.3Z" fill="#a875dc"/><path d="M906.1,873.2L916.8,883.8L906.1,894.5L895.5,883.8Z" fill="#a875dc"/><path d="M931.3,844.4L941.9,855.0L931.3,865.6L920.6,855.0Z" fill="#a875dc"/><path d="M956.4,848.7L967.0,859.3L956.4,869.9L945.8,859.3Z" fill="#a875dc"/></g>
<rect x="101.5" y="802.2" width="838.9" height="676.4" fill="none" stroke="#000" stroke-width="2.6"/>
<path d="M101.5,1478.6v-12M213.4,1478.6v-12M325.2,1478.6v-12M437.1,1478.6v-12M548.9,1478.6v-12M660.8,1478.6v-12M772.6,1478.6v-12M884.5,1478.6v-12M157.4,1478.6v-6M269.3,1478.6v-6M381.1,1478.6v-6M493.0,1478.6v-6M604.8,1478.6v-6M716.7,1478.6v-6M828.5,1478.6v-6M101.5,802.2h12M101.5,952.5h12M101.5,1102.8h12M101.5,1253.1h12M101.5,1403.4h12M101.5,877.4h6M101.5,1027.7h6M101.5,1178.0h6M101.5,1328.3h6" stroke="#000" stroke-width="2.6" fill="none"/>
<text x="93.42" y="1516.80" font-size="32.33" font-weight="bold" fill="#000">2</text>
<text x="205.27" y="1516.80" font-size="32.33" font-weight="bold" fill="#000">3</text>
<text x="317.20" y="1516.80" font-size="32.33" font-weight="bold" fill="#000">4</text>
<text x="428.90" y="1516.80" font-size="32.33" font-weight="bold" fill="#000">5</text>
<text x="540.75" y="1516.80" font-size="32.33" font-weight="bold" fill="#000">6</text>
<text x="652.20" y="1516.80" font-size="32.33" font-weight="bold" fill="#000">7</text>
<text x="764.54" y="1516.80" font-size="32.33" font-weight="bold" fill="#000">8</text>
<text x="876.55" y="1516.80" font-size="32.33" font-weight="bold" fill="#000">9</text>
<text x="71.53" y="809.40" font-size="32.33" font-weight="bold" fill="#000">0</text>
<text x="44.53" y="959.71" font-size="32.33" font-weight="bold" fill="#000">-10</text>
<text x="44.53" y="1110.02" font-size="32.33" font-weight="bold" fill="#000">-20</text>
<text x="44.53" y="1260.33" font-size="32.33" font-weight="bold" fill="#000">-30</text>
<text x="44.53" y="1410.64" font-size="32.33" font-weight="bold" fill="#000">-40</text>
<text x="376.92" y="1564.60" font-size="36.18" font-weight="bold" fill="#000" textLength="287.61" lengthAdjust="spacingAndGlyphs">Frequency (GHz)</text>
<text transform="translate(27.40,1382.37) rotate(-90)" font-size="36.79" font-weight="bold" textLength="483.64" lengthAdjust="spacingAndGlyphs">Transmission Coefficient (dB)</text>
<text x="155.89" y="1412.10" font-size="40.00" font-weight="bold" fill="#000" textLength="49.62" lengthAdjust="spacingAndGlyphs">(c)</text>
<rect x="123.7" y="846.1" width="247.9" height="276.2" fill="#fff" stroke="#333" stroke-width="1.3"/>
<path d="M129.3,876.0H178.2M178.2,876.0H227.8" stroke="#555555" stroke-width="4.8" stroke-linecap="round" stroke-dasharray="23,19" fill="none"/>
<rect x="170.9" y="868.8" width="14.5" height="14.5" fill="#555555"/>
<text x="237.40" y="890.00" font-size="38.63" font-weight="normal" fill="#000" textLength="34.84" lengthAdjust="spacingAndGlyphs">W</text>
<text x="272.61" y="890.00" font-size="17.74" font-weight="normal" fill="#000" textLength="12.12" lengthAdjust="spacingAndGlyphs">2</text>
<text x="292.09" y="890.00" font-size="37.59" font-weight="normal" fill="#000" textLength="74.51" lengthAdjust="spacingAndGlyphs">= 1.4</text>
<path d="M129.3,930.3H178.2M178.2,930.3H227.8" stroke="#0000f0" stroke-width="4.8" stroke-linecap="round" stroke-dasharray="29,21" fill="none"/>
<circle cx="178.2" cy="930.3" r="7.8" fill="#0000f0"/>
<text x="237.40" y="944.30" font-size="38.63" font-weight="normal" fill="#000" textLength="34.84" lengthAdjust="spacingAndGlyphs">W</text>
<text x="272.61" y="944.30" font-size="17.74" font-weight="normal" fill="#000" textLength="12.12" lengthAdjust="spacingAndGlyphs">2</text>
<text x="292.07" y="944.30" font-size="37.59" font-weight="normal" fill="#000" textLength="75.45" lengthAdjust="spacingAndGlyphs">= 1.5</text>
<path d="M129.3,984.6H227.8" stroke="#c80000" stroke-width="4.8" stroke-linecap="round" fill="none"/>
<path d="M178.2,974.9L188.1,991.9L168.3,991.9Z" fill="#c80000"/>
<text x="237.40" y="998.60" font-size="38.63" font-weight="normal" fill="#000" textLength="34.84" lengthAdjust="spacingAndGlyphs">W</text>
<text x="272.61" y="998.60" font-size="17.74" font-weight="normal" fill="#000" textLength="12.12" lengthAdjust="spacingAndGlyphs">2</text>
<text x="292.08" y="998.60" font-size="37.59" font-weight="normal" fill="#000" textLength="75.07" lengthAdjust="spacingAndGlyphs">= 1.6</text>
<path d="M129.3,1038.9H178.2M178.2,1038.9H227.8" stroke="#36a66b" stroke-width="4.8" stroke-linecap="round" stroke-dasharray="0.1,11.3" fill="none"/>
<path d="M178.2,1048.6L188.1,1031.6L168.3,1031.6Z" fill="#36a66b"/>
<text x="237.40" y="1052.90" font-size="38.63" font-weight="normal" fill="#000" textLength="34.84" lengthAdjust="spacingAndGlyphs">W</text>
<text x="272.61" y="1052.90" font-size="17.74" font-weight="normal" fill="#000" textLength="12.12" lengthAdjust="spacingAndGlyphs">2</text>
<text x="292.08" y="1052.90" font-size="37.59" font-weight="normal" fill="#000" textLength="75.07" lengthAdjust="spacingAndGlyphs">= 1.7</text>
<path d="M129.3,1093.2H178.2M178.2,1093.2H227.8" stroke="#a875dc" stroke-width="4.8" stroke-linecap="round" stroke-dasharray="16,11,0.1,11" fill="none"/>
<path d="M178.2,1082.6L188.8,1093.2L178.2,1103.8L167.6,1093.2Z" fill="#a875dc"/>
<text x="237.40" y="1107.20" font-size="38.63" font-weight="normal" fill="#000" textLength="34.84" lengthAdjust="spacingAndGlyphs">W</text>
<text x="272.61" y="1107.20" font-size="17.74" font-weight="normal" fill="#000" textLength="12.12" lengthAdjust="spacingAndGlyphs">2</text>
<text x="292.07" y="1107.20" font-size="37.59" font-weight="normal" fill="#000" textLength="75.45" lengthAdjust="spacingAndGlyphs">= 1.8</text>
<path d="M256.3,1133.8V1372.8H556.7" stroke="#555" stroke-width="1.4" fill="none"/>
<path d="M256.3,1193.5h4M256.3,1313.0h4M256.3,1253.3h3M256.3,1372.8v-4M316.4,1372.8v-4M376.5,1372.8v-4M436.5,1372.8v-4M496.6,1372.8v-4M556.7,1372.8v-4M286.3,1372.8v-3M346.4,1372.8v-3M406.5,1372.8v-3M466.6,1372.8v-3M526.7,1372.8v-3" stroke="#555" stroke-width="1.19" fill="none"/>
<text x="217.77" y="1199.15" font-size="24.96" font-weight="bold" fill="#000">-30</text>
<text x="217.77" y="1318.65" font-size="24.96" font-weight="bold" fill="#000">-40</text>
<text x="236.09" y="1394.50" font-size="23.16" font-weight="bold" fill="#000">6.70</text>
<text x="296.29" y="1394.50" font-size="23.16" font-weight="bold" fill="#000">6.71</text>
<text x="356.25" y="1394.50" font-size="23.16" font-weight="bold" fill="#000">6.72</text>
<text x="416.28" y="1394.50" font-size="23.16" font-weight="bold" fill="#000">6.73</text>
<text x="476.18" y="1394.50" font-size="23.16" font-weight="bold" fill="#000">6.74</text>
<text x="536.44" y="1394.50" font-size="23.16" font-weight="bold" fill="#000">6.75</text>
<path d="M256.3,1216.3L292.3,1234.2L346.4,1268.8L400.5,1313.0L454.6,1325.0L508.6,1285.6L556.7,1249.7" fill="none" stroke="#0000f0" stroke-width="4.2" stroke-linecap="butt" stroke-linejoin="round"/>
<path d="M256.3,1215.1L292.3,1231.8L346.4,1265.2L400.5,1310.7L454.6,1326.2L508.6,1289.1L556.7,1254.5" fill="none" stroke="#555555" stroke-width="3.2" stroke-linecap="butt" stroke-linejoin="round"/>
<path d="M256.3,1212.7L292.3,1230.6L346.4,1264.1L400.5,1305.9L454.6,1327.4L508.6,1293.9L556.7,1259.3" fill="none" stroke="#a875dc" stroke-width="3.2" stroke-linecap="butt" stroke-linejoin="round"/>
<path d="M256.3,1210.3L292.3,1228.2L346.4,1261.7L400.5,1302.3L454.6,1327.4L508.6,1297.5L556.7,1261.7" fill="none" stroke="#c80000" stroke-width="3.2" stroke-linecap="butt" stroke-linejoin="round"/>
<path d="M256.3,1205.5L292.3,1221.0L346.4,1254.5L400.5,1298.7L454.6,1332.2L508.6,1310.7L556.7,1271.2" fill="none" stroke="#36a66b" stroke-width="3.2" stroke-linecap="butt" stroke-linejoin="round"/>
<path d="M620.8,1258.0L594.1,1257.5" stroke="#000" stroke-width="5.6" fill="none"/>
<path d="M556.1,1256.7L596.3,1247.5L595.9,1267.5Z" fill="#000"/>
<path d="M667.6,1278.5V1453.2H854.4" stroke="#555" stroke-width="1.4" fill="none"/>
<path d="M667.6,1278.5h3M667.6,1328.4h3M667.6,1378.3h3M667.6,1428.2h3M667.6,1303.5h2M667.6,1353.4h2M667.6,1403.3h2M714.3,1453.2v-3M807.7,1453.2v-3M761.0,1453.2v-2" stroke="#555" stroke-width="1.19" fill="none"/>
<text x="636.48" y="1283.70" font-size="21.65" font-weight="bold" fill="#000" textLength="27.71" lengthAdjust="spacingAndGlyphs">-10</text>
<text x="636.48" y="1333.61" font-size="21.65" font-weight="bold" fill="#000" textLength="27.71" lengthAdjust="spacingAndGlyphs">-20</text>
<text x="636.48" y="1383.53" font-size="21.65" font-weight="bold" fill="#000" textLength="27.71" lengthAdjust="spacingAndGlyphs">-30</text>
<text x="636.48" y="1433.44" font-size="21.65" font-weight="bold" fill="#000" textLength="27.71" lengthAdjust="spacingAndGlyphs">-40</text>
<text x="700.62" y="1472.00" font-size="21.80" font-weight="bold" fill="#000">8.6</text>
<text x="793.96" y="1472.00" font-size="21.80" font-weight="bold" fill="#000">8.7</text>
<path d="M667.6,1325.4L679.7,1331.3L696.0,1340.6L704.1,1346.1L712.2,1352.4L720.4,1359.7L728.5,1368.4L736.6,1378.8L744.7,1391.3L752.9,1405.1L761.0,1412.8L769.1,1405.9L785.4,1380.8L793.5,1370.6L801.6,1362.1L809.8,1354.8L817.9,1348.6L826.0,1343.1L842.3,1333.8L854.4,1327.9" fill="none" stroke="#a875dc" stroke-width="2.4" stroke-linecap="butt" stroke-linejoin="round"/>
<path d="M667.6,1319.4L690.1,1328.9L706.4,1337.3L714.5,1342.2L722.6,1347.7L730.7,1353.9L738.9,1361.2L747.0,1369.7L755.1,1379.8L771.4,1404.9L779.5,1411.8L787.6,1405.2L803.9,1380.7L812.0,1370.7L820.1,1362.2L828.2,1355.0L836.4,1348.8L844.5,1343.3L854.4,1337.4" fill="none" stroke="#555555" stroke-width="2.4" stroke-linecap="butt" stroke-linejoin="round"/>
<path d="M667.6,1317.9L690.6,1326.8L706.8,1334.5L723.1,1343.7L731.2,1349.2L739.3,1355.4L747.5,1362.6L755.6,1371.0L763.7,1380.9L780.0,1404.6L788.1,1410.8L796.2,1403.8L812.5,1378.5L820.6,1368.3L828.7,1359.7L836.8,1352.5L845.0,1346.2L854.4,1339.9" fill="none" stroke="#0000f0" stroke-width="2.4" stroke-linecap="butt" stroke-linejoin="round"/>
<path d="M667.6,1315.9L691.0,1325.0L707.3,1332.7L723.5,1342.0L731.7,1347.5L739.8,1353.8L747.9,1361.0L756.0,1369.6L764.2,1379.8L772.3,1392.0L780.4,1405.2L788.6,1412.3L796.7,1405.3L812.9,1380.1L821.1,1370.0L829.2,1361.4L837.3,1354.2L845.4,1347.9L854.4,1341.9" fill="none" stroke="#c80000" stroke-width="2.4" stroke-linecap="butt" stroke-linejoin="round"/>
<path d="M667.6,1311.4L689.8,1319.0L706.1,1325.4L714.2,1329.1L730.5,1337.5L738.6,1342.4L746.7,1347.9L754.8,1354.2L763.0,1361.5L771.1,1370.0L779.2,1380.2L787.3,1392.5L795.5,1405.7L803.6,1412.8L811.7,1405.5L819.8,1392.1L828.0,1379.7L836.1,1369.4L844.2,1360.8L854.4,1351.9" fill="none" stroke="#36a66b" stroke-width="2.4" stroke-linecap="butt" stroke-linejoin="round"/>
<path d="M832.7,1274.7L815.1,1315.8" stroke="#000" stroke-width="4.6" fill="none"/>
<path d="M799.0,1353.3L806.5,1309.9L825.2,1318.0Z" fill="#000"/>
<clipPath id="c4"><rect x="1072.7" y="809.0" width="822.3" height="664.5"/></clipPath>
<path d="M1061.7,815.2L1100.8,815.7L1128.1,816.8L1162.3,818.8L1222.9,823.3L1257.4,826.4L1288.4,829.9L1309.8,833.0L1332.4,837.2L1363.9,844.2L1401.9,854.0L1426.8,861.3L1449.0,869.0L1476.3,880.5L1492.1,888.3L1499.1,892.6L1505.4,897.1L1511.6,902.2L1517.1,907.6L1520.9,912.7L1524.9,919.7L1529.4,929.0L1534.5,941.0L1545.3,968.6L1556.4,1003.2L1561.2,1016.0L1568.0,1046.1L1574.0,1080.8L1577.6,1107.9L1580.8,1137.9L1583.5,1171.2L1585.9,1208.1L1589.0,1283.9L1592.0,1407.0L1592.7,1418.7L1595.4,1284.9L1598.1,1203.2L1600.0,1166.4L1602.1,1135.0L1604.6,1105.3L1607.5,1077.7L1613.0,1038.8L1620.5,998.5L1626.8,953.9L1631.7,929.9L1636.9,910.3L1644.8,887.0L1652.9,866.4L1660.3,850.9L1666.0,841.8L1677.7,826.6L1684.0,820.1L1689.4,816.6L1691.9,815.8L1694.5,815.7L1703.7,816.8L1712.9,819.6L1723.9,824.3L1729.6,828.5L1735.9,835.2L1742.9,844.8L1752.1,859.3L1756.8,868.7L1761.7,880.2L1772.3,910.5L1779.0,931.8L1783.9,949.6L1789.9,974.4L1797.3,1007.2L1802.8,1035.9L1808.4,1076.8L1812.8,1123.3L1816.4,1178.1L1818.8,1234.7L1821.7,1334.3L1822.6,1350.9L1823.2,1339.9L1826.2,1210.0L1829.3,1136.8L1831.6,1100.2L1834.3,1067.7L1837.3,1038.7L1840.9,1011.6L1845.1,996.7L1850.7,964.0L1855.6,943.6L1863.5,917.5L1873.0,891.7L1885.2,863.0L1890.1,853.3L1894.4,846.0L1898.4,840.4L1905.2,833.3L1910.3,829.2L1915.0,826.7" fill="none" stroke="#555555" stroke-width="4.8" stroke-linecap="round" stroke-linejoin="round" stroke-dasharray="23,19" clip-path="url(#c4)"/>
<path d="M1061.7,815.2L1100.8,815.7L1128.0,816.8L1162.2,818.8L1222.8,823.3L1257.2,826.4L1288.3,829.9L1309.6,833.0L1332.2,837.2L1363.8,844.3L1401.8,854.0L1426.8,861.4L1448.9,869.1L1476.0,880.5L1491.6,888.3L1498.5,892.6L1504.9,897.1L1511.0,902.2L1516.5,907.6L1520.3,912.7L1524.3,919.7L1528.7,929.0L1533.8,941.0L1544.6,968.6L1555.6,1003.2L1560.4,1016.0L1567.2,1046.1L1573.1,1080.8L1576.7,1107.9L1579.8,1137.9L1582.6,1171.2L1584.9,1208.1L1588.1,1283.9L1591.0,1407.0L1591.7,1418.7L1594.4,1284.9L1596.9,1208.0L1598.8,1170.0L1601.0,1137.8L1603.5,1107.5L1606.4,1079.5L1612.1,1038.8L1619.7,998.5L1625.8,953.9L1630.7,929.9L1635.8,910.3L1643.7,886.4L1651.6,865.8L1658.9,850.5L1664.4,841.4L1675.6,826.6L1681.8,820.1L1687.1,816.6L1689.5,815.8L1692.0,815.7L1700.6,816.8L1709.4,819.7L1719.8,824.5L1725.2,828.9L1731.2,836.2L1737.9,846.3L1746.5,860.9L1751.0,870.6L1756.0,883.1L1766.9,915.3L1772.8,934.9L1777.6,953.1L1790.6,1011.4L1795.8,1040.1L1800.8,1078.8L1805.2,1126.1L1808.6,1182.5L1810.8,1234.7L1813.6,1334.3L1814.5,1350.9L1815.1,1339.9L1818.3,1210.0L1821.5,1136.8L1823.9,1100.2L1826.7,1067.7L1829.9,1038.7L1833.7,1011.6L1838.1,996.7L1843.9,964.0L1849.1,943.6L1857.1,918.0L1866.9,892.6L1879.8,863.5L1884.9,853.6L1889.3,846.3L1893.7,840.4L1900.6,833.5L1906.1,829.2L1910.9,826.7" fill="none" stroke="#0000f0" stroke-width="4.8" stroke-linecap="round" stroke-linejoin="round" stroke-dasharray="29,21" clip-path="url(#c4)"/>
<path d="M1061.7,815.2L1100.8,815.7L1128.0,816.8L1162.2,818.8L1222.8,823.3L1257.2,826.4L1288.3,829.9L1309.6,833.0L1332.2,837.2L1363.8,844.3L1401.8,854.0L1426.7,861.4L1448.9,869.1L1475.9,880.5L1491.6,888.3L1498.5,892.6L1504.9,897.1L1511.0,902.2L1516.5,907.6L1520.3,912.7L1524.3,919.7L1528.7,929.0L1533.8,941.0L1544.5,968.6L1555.5,1003.2L1560.4,1016.0L1567.1,1046.1L1573.0,1080.8L1576.6,1107.9L1579.8,1137.9L1582.5,1171.2L1584.9,1208.1L1588.0,1283.9L1591.0,1407.0L1591.6,1418.7L1594.4,1284.9L1596.9,1208.0L1598.8,1170.0L1600.9,1137.8L1603.4,1107.5L1606.2,1081.3L1611.9,1040.0L1619.7,998.5L1625.8,952.6L1630.7,928.0L1635.5,908.9L1643.6,883.9L1650.9,864.3L1657.9,849.3L1662.8,841.1L1674.0,825.8L1679.7,819.7L1684.5,816.5L1686.8,815.8L1689.4,815.7L1697.4,817.0L1705.8,820.2L1714.9,825.0L1720.0,829.9L1725.7,837.8L1732.4,849.4L1740.5,864.9L1745.1,875.8L1750.2,889.6L1761.6,926.0L1766.0,942.1L1770.9,962.1L1782.7,1017.8L1787.5,1047.5L1792.0,1084.8L1795.8,1129.0L1798.9,1182.5L1801.0,1234.7L1803.8,1334.3L1804.6,1350.9L1805.3,1339.9L1808.6,1210.0L1812.0,1136.8L1814.6,1100.2L1817.5,1067.7L1820.9,1038.7L1824.9,1011.6L1829.5,996.7L1835.7,964.0L1840.9,944.3L1849.2,919.2L1859.3,894.1L1873.2,863.9L1878.5,854.0L1883.2,846.6L1887.8,840.7L1895.0,833.7L1900.7,829.3L1906.0,826.7" fill="none" stroke="#c80000" stroke-width="4.8" stroke-linecap="round" stroke-linejoin="round" clip-path="url(#c4)"/>
<path d="M1061.7,815.2L1100.8,815.7L1128.0,816.8L1162.2,818.8L1222.9,823.3L1257.5,826.4L1288.5,830.0L1309.8,833.1L1332.2,837.2L1363.8,844.3L1401.8,854.1L1426.7,861.4L1448.8,869.2L1475.6,880.5L1491.1,888.3L1498.0,892.6L1504.3,897.1L1510.4,902.2L1515.9,907.6L1519.7,912.7L1523.7,919.7L1528.1,929.0L1533.1,941.0L1543.8,968.6L1554.8,1003.2L1559.6,1016.0L1566.3,1046.1L1572.2,1080.8L1575.8,1107.9L1578.9,1137.9L1581.6,1171.2L1584.0,1208.1L1587.1,1283.9L1590.0,1407.0L1590.7,1418.7L1593.4,1284.9L1596.0,1208.0L1599.8,1140.7L1602.4,1109.8L1605.1,1083.1L1610.2,1045.3L1613.8,1024.3L1618.7,999.9L1624.7,953.9L1629.7,927.0L1634.4,908.1L1642.4,882.1L1649.5,862.8L1656.2,848.1L1660.4,840.8L1671.1,825.6L1676.4,819.7L1681.0,816.5L1683.2,815.8L1685.6,815.7L1692.6,817.0L1700.2,820.3L1708.2,825.1L1712.8,830.4L1717.8,838.5L1723.3,849.4L1732.2,868.7L1736.7,880.2L1741.6,894.6L1752.6,931.8L1761.3,968.7L1772.1,1022.3L1776.6,1052.2L1780.7,1089.0L1784.3,1135.0L1787.2,1186.9L1789.0,1234.7L1791.6,1334.3L1792.5,1350.9L1793.1,1339.9L1796.7,1210.0L1800.3,1136.8L1803.0,1100.2L1806.2,1067.7L1809.8,1038.7L1814.0,1011.6L1819.0,996.7L1825.5,964.0L1830.9,945.0L1839.7,919.8L1850.2,895.0L1865.2,864.3L1870.7,854.4L1875.8,846.6L1880.7,840.7L1888.3,833.7L1894.3,829.3L1899.9,826.7" fill="none" stroke="#36a66b" stroke-width="4.8" stroke-linecap="round" stroke-linejoin="round" stroke-dasharray="9.5,16.4" clip-path="url(#c4)"/>
<path d="M1061.7,815.2L1100.6,815.7L1127.7,816.8L1161.8,818.8L1222.3,823.3L1256.8,826.4L1287.7,830.0L1308.9,833.1L1331.2,837.2L1362.9,844.4L1400.9,854.2L1425.9,861.6L1448.0,869.5L1473.6,880.5L1488.7,888.3L1495.2,892.5L1501.4,897.0L1507.3,902.0L1512.6,907.3L1516.3,912.4L1520.2,919.3L1524.5,928.6L1529.4,940.5L1540.1,968.6L1550.7,1003.2L1555.4,1016.0L1562.0,1046.1L1567.7,1080.8L1571.2,1107.9L1574.2,1137.9L1576.9,1171.2L1579.1,1208.1L1582.2,1283.9L1585.1,1407.0L1585.7,1418.7L1588.5,1284.9L1591.2,1208.0L1592.9,1173.7L1595.1,1140.7L1597.6,1112.1L1600.4,1085.0L1605.9,1045.3L1609.6,1024.3L1614.7,999.9L1620.8,953.9L1625.9,927.0L1630.5,908.9L1638.6,883.3L1645.8,863.8L1652.6,848.9L1657.2,841.1L1667.9,826.1L1673.3,820.1L1678.1,816.7L1680.3,815.8L1682.3,815.6L1688.7,816.8L1695.6,819.9L1703.1,824.8L1707.3,829.9L1711.8,837.8L1726.3,870.6L1730.7,882.5L1735.3,896.5L1745.6,932.6L1754.1,969.6L1764.4,1022.3L1768.8,1052.2L1772.7,1089.0L1776.3,1135.0L1779.1,1186.9L1780.9,1234.7L1783.4,1334.3L1784.2,1350.9L1784.9,1339.9L1788.7,1210.0L1790.3,1173.1L1792.4,1136.8L1795.2,1100.2L1798.5,1067.7L1802.3,1038.7L1806.7,1011.6L1811.9,996.7L1818.6,964.0L1824.3,945.0L1833.4,919.8L1844.1,895.5L1859.8,864.3L1865.6,854.4L1870.9,846.6L1876.0,840.7L1883.8,833.7L1890.0,829.3L1895.8,826.7" fill="none" stroke="#a875dc" stroke-width="4.8" stroke-linecap="round" stroke-linejoin="round" stroke-dasharray="16,11,0.1,11" clip-path="url(#c4)"/>
<g clip-path="url(#c4)"><rect x="1065.5" y="808.0" width="14.5" height="14.5" fill="#000"/><rect x="1090.2" y="808.4" width="14.5" height="14.5" fill="#000"/><rect x="1114.9" y="809.2" width="14.5" height="14.5" fill="#000"/><rect x="1139.6" y="810.6" width="14.5" height="14.5" fill="#000"/><rect x="1164.3" y="812.2" width="14.5" height="14.5" fill="#000"/><rect x="1189.0" y="814.0" width="14.5" height="14.5" fill="#000"/><rect x="1213.7" y="815.9" width="14.5" height="14.5" fill="#000"/><rect x="1238.4" y="818.0" width="14.5" height="14.5" fill="#000"/><rect x="1263.1" y="820.5" width="14.5" height="14.5" fill="#000"/><rect x="1287.8" y="823.5" width="14.5" height="14.5" fill="#000"/><rect x="1312.5" y="827.5" width="14.5" height="14.5" fill="#000"/><rect x="1337.2" y="832.5" width="14.5" height="14.5" fill="#000"/><rect x="1361.9" y="838.3" width="14.5" height="14.5" fill="#000"/><rect x="1386.6" y="844.5" width="14.5" height="14.5" fill="#000"/><rect x="1411.3" y="851.5" width="14.5" height="14.5" fill="#000"/><rect x="1436.0" y="859.6" width="14.5" height="14.5" fill="#000"/><rect x="1460.7" y="869.6" width="14.5" height="14.5" fill="#000"/><rect x="1485.4" y="881.4" width="14.5" height="14.5" fill="#000"/><rect x="1510.1" y="900.6" width="14.5" height="14.5" fill="#000"/><rect x="1534.8" y="952.8" width="14.5" height="14.5" fill="#000"/><rect x="1559.5" y="1032.4" width="14.5" height="14.5" fill="#000"/><rect x="1584.2" y="1374.7" width="14.5" height="14.5" fill="#000"/><rect x="1608.9" y="1013.7" width="14.5" height="14.5" fill="#000"/><rect x="1633.6" y="891.0" width="14.5" height="14.5" fill="#000"/><rect x="1658.3" y="835.1" width="14.5" height="14.5" fill="#000"/><rect x="1683.0" y="809.0" width="14.5" height="14.5" fill="#000"/><rect x="1707.7" y="813.1" width="14.5" height="14.5" fill="#000"/><rect x="1732.4" y="833.0" width="14.5" height="14.5" fill="#000"/><rect x="1757.1" y="880.0" width="14.5" height="14.5" fill="#000"/><rect x="1781.8" y="963.5" width="14.5" height="14.5" fill="#000"/><rect x="1806.5" y="1128.3" width="14.5" height="14.5" fill="#000"/><rect x="1831.2" y="1022.2" width="14.5" height="14.5" fill="#000"/><rect x="1855.9" y="911.1" width="14.5" height="14.5" fill="#000"/><rect x="1880.6" y="850.3" width="14.5" height="14.5" fill="#000"/><rect x="1905.3" y="820.6" width="14.5" height="14.5" fill="#000"/></g>
<g clip-path="url(#c4)"><circle cx="1072.7" cy="815.3" r="7.8" fill="#0000f0"/><circle cx="1097.4" cy="815.7" r="7.8" fill="#0000f0"/><circle cx="1122.1" cy="816.5" r="7.8" fill="#0000f0"/><circle cx="1146.8" cy="817.8" r="7.8" fill="#0000f0"/><circle cx="1171.5" cy="819.5" r="7.8" fill="#0000f0"/><circle cx="1196.2" cy="821.3" r="7.8" fill="#0000f0"/><circle cx="1220.9" cy="823.1" r="7.8" fill="#0000f0"/><circle cx="1245.6" cy="825.3" r="7.8" fill="#0000f0"/><circle cx="1270.3" cy="827.8" r="7.8" fill="#0000f0"/><circle cx="1295.0" cy="830.8" r="7.8" fill="#0000f0"/><circle cx="1319.7" cy="834.8" r="7.8" fill="#0000f0"/><circle cx="1344.4" cy="839.8" r="7.8" fill="#0000f0"/><circle cx="1369.1" cy="845.6" r="7.8" fill="#0000f0"/><circle cx="1393.8" cy="851.9" r="7.8" fill="#0000f0"/><circle cx="1418.5" cy="858.8" r="7.8" fill="#0000f0"/><circle cx="1443.2" cy="867.0" r="7.8" fill="#0000f0"/><circle cx="1467.9" cy="877.0" r="7.8" fill="#0000f0"/><circle cx="1492.6" cy="888.9" r="7.8" fill="#0000f0"/><circle cx="1517.3" cy="908.6" r="7.8" fill="#0000f0"/><circle cx="1542.0" cy="961.9" r="7.8" fill="#0000f0"/><circle cx="1566.7" cy="1043.9" r="7.8" fill="#0000f0"/><circle cx="1591.4" cy="1417.3" r="7.8" fill="#0000f0"/><circle cx="1616.1" cy="1016.7" r="7.8" fill="#0000f0"/><circle cx="1640.8" cy="894.6" r="7.8" fill="#0000f0"/><circle cx="1665.5" cy="839.9" r="7.8" fill="#0000f0"/><circle cx="1690.2" cy="815.7" r="7.8" fill="#0000f0"/><circle cx="1714.9" cy="822.1" r="7.8" fill="#0000f0"/><circle cx="1739.7" cy="849.1" r="7.8" fill="#0000f0"/><circle cx="1764.4" cy="907.2" r="7.8" fill="#0000f0"/><circle cx="1789.1" cy="1004.1" r="7.8" fill="#0000f0"/><circle cx="1813.8" cy="1338.3" r="7.8" fill="#0000f0"/><circle cx="1838.5" cy="995.1" r="7.8" fill="#0000f0"/><circle cx="1863.2" cy="901.8" r="7.8" fill="#0000f0"/><circle cx="1887.9" cy="848.5" r="7.8" fill="#0000f0"/><circle cx="1912.6" cy="826.7" r="7.8" fill="#0000f0"/></g>
<g clip-path="url(#c4)"><path d="M1072.7,805.5L1082.6,822.6L1062.8,822.6Z" fill="#c80000"/><path d="M1097.4,805.9L1107.3,822.9L1087.5,822.9Z" fill="#c80000"/><path d="M1122.1,806.8L1132.0,823.8L1112.2,823.8Z" fill="#c80000"/><path d="M1146.8,808.1L1156.7,825.1L1136.9,825.1Z" fill="#c80000"/><path d="M1171.5,809.8L1181.4,826.8L1161.6,826.8Z" fill="#c80000"/><path d="M1196.2,811.5L1206.1,828.6L1186.3,828.6Z" fill="#c80000"/><path d="M1220.9,813.4L1230.8,830.4L1211.0,830.4Z" fill="#c80000"/><path d="M1245.6,815.5L1255.5,832.6L1235.7,832.6Z" fill="#c80000"/><path d="M1270.3,818.1L1280.2,835.1L1260.4,835.1Z" fill="#c80000"/><path d="M1295.0,821.1L1304.9,838.1L1285.1,838.1Z" fill="#c80000"/><path d="M1319.7,825.1L1329.6,842.1L1309.8,842.1Z" fill="#c80000"/><path d="M1344.4,830.1L1354.3,847.1L1334.5,847.1Z" fill="#c80000"/><path d="M1369.1,835.8L1379.0,852.9L1359.2,852.9Z" fill="#c80000"/><path d="M1393.8,842.1L1403.7,859.2L1383.9,859.2Z" fill="#c80000"/><path d="M1418.5,849.1L1428.4,866.1L1408.6,866.1Z" fill="#c80000"/><path d="M1443.2,857.3L1453.1,874.3L1433.3,874.3Z" fill="#c80000"/><path d="M1467.9,867.3L1477.8,884.3L1458.0,884.3Z" fill="#c80000"/><path d="M1492.6,879.2L1502.5,896.2L1482.7,896.2Z" fill="#c80000"/><path d="M1517.3,898.9L1527.2,915.9L1507.4,915.9Z" fill="#c80000"/><path d="M1542.0,952.3L1551.9,969.3L1532.1,969.3Z" fill="#c80000"/><path d="M1566.7,1034.4L1576.6,1051.4L1556.8,1051.4Z" fill="#c80000"/><path d="M1591.4,1408.2L1601.3,1425.2L1581.5,1425.2Z" fill="#c80000"/><path d="M1616.1,1006.8L1626.0,1023.8L1606.2,1023.8Z" fill="#c80000"/><path d="M1640.8,882.3L1650.7,899.3L1630.9,899.3Z" fill="#c80000"/><path d="M1665.5,827.5L1675.4,844.5L1655.6,844.5Z" fill="#c80000"/><path d="M1690.2,806.0L1700.1,823.0L1680.3,823.0Z" fill="#c80000"/><path d="M1714.9,815.3L1724.8,832.3L1705.0,832.3Z" fill="#c80000"/><path d="M1739.7,853.4L1749.6,870.5L1729.8,870.5Z" fill="#c80000"/><path d="M1764.4,926.1L1774.3,943.1L1754.5,943.1Z" fill="#c80000"/><path d="M1789.1,1049.4L1799.0,1066.4L1779.2,1066.4Z" fill="#c80000"/><path d="M1813.8,1100.9L1823.7,1117.9L1803.9,1117.9Z" fill="#c80000"/><path d="M1838.5,943.4L1848.4,960.4L1828.6,960.4Z" fill="#c80000"/><path d="M1863.2,875.7L1873.1,892.7L1853.3,892.7Z" fill="#c80000"/><path d="M1887.9,830.9L1897.8,847.9L1878.0,847.9Z" fill="#c80000"/><path d="M1912.6,816.3L1922.5,833.3L1902.7,833.3Z" fill="#c80000"/></g>
<g clip-path="url(#c4)"><path d="M1072.7,825.0L1082.6,808.0L1062.8,808.0Z" fill="#36a66b"/><path d="M1097.4,825.4L1107.3,808.4L1087.5,808.4Z" fill="#36a66b"/><path d="M1122.1,826.2L1132.0,809.2L1112.2,809.2Z" fill="#36a66b"/><path d="M1146.8,827.5L1156.7,810.5L1136.9,810.5Z" fill="#36a66b"/><path d="M1171.5,829.2L1181.4,812.2L1161.6,812.2Z" fill="#36a66b"/><path d="M1196.2,831.0L1206.1,814.0L1186.3,814.0Z" fill="#36a66b"/><path d="M1220.9,832.9L1230.8,815.8L1211.0,815.8Z" fill="#36a66b"/><path d="M1245.6,835.0L1255.5,818.0L1235.7,818.0Z" fill="#36a66b"/><path d="M1270.3,837.5L1280.2,820.5L1260.4,820.5Z" fill="#36a66b"/><path d="M1295.0,840.6L1304.9,823.6L1285.1,823.6Z" fill="#36a66b"/><path d="M1319.7,844.5L1329.6,827.5L1309.8,827.5Z" fill="#36a66b"/><path d="M1344.4,849.5L1354.3,832.5L1334.5,832.5Z" fill="#36a66b"/><path d="M1369.1,855.3L1379.0,838.3L1359.2,838.3Z" fill="#36a66b"/><path d="M1393.8,861.6L1403.7,844.6L1383.9,844.6Z" fill="#36a66b"/><path d="M1418.5,868.6L1428.4,851.6L1408.6,851.6Z" fill="#36a66b"/><path d="M1443.2,876.8L1453.1,859.8L1433.3,859.8Z" fill="#36a66b"/><path d="M1467.9,886.9L1477.8,869.9L1458.0,869.9Z" fill="#36a66b"/><path d="M1492.6,898.9L1502.5,881.9L1482.7,881.9Z" fill="#36a66b"/><path d="M1517.3,919.1L1527.2,902.1L1507.4,902.1Z" fill="#36a66b"/><path d="M1542.0,973.5L1551.9,956.5L1532.1,956.5Z" fill="#36a66b"/><path d="M1566.7,1058.0L1576.6,1041.0L1556.8,1041.0Z" fill="#36a66b"/><path d="M1591.4,1399.4L1601.3,1382.4L1581.5,1382.4Z" fill="#36a66b"/><path d="M1616.1,1022.4L1626.0,1005.4L1606.2,1005.4Z" fill="#36a66b"/><path d="M1640.8,896.7L1650.7,879.6L1630.9,879.6Z" fill="#36a66b"/><path d="M1665.5,843.0L1675.4,826.0L1655.6,826.0Z" fill="#36a66b"/><path d="M1690.2,826.1L1700.1,809.1L1680.3,809.1Z" fill="#36a66b"/><path d="M1714.9,843.4L1724.8,826.3L1705.0,826.3Z" fill="#36a66b"/><path d="M1739.7,898.4L1749.6,881.4L1729.8,881.4Z" fill="#36a66b"/><path d="M1764.4,992.7L1774.3,975.7L1754.5,975.7Z" fill="#36a66b"/><path d="M1789.1,1246.0L1799.0,1229.0L1779.2,1229.0Z" fill="#36a66b"/><path d="M1813.8,1022.8L1823.7,1005.8L1803.9,1005.8Z" fill="#36a66b"/><path d="M1838.5,932.6L1848.4,915.6L1828.6,915.6Z" fill="#36a66b"/><path d="M1863.2,877.9L1873.1,860.9L1853.3,860.9Z" fill="#36a66b"/><path d="M1887.9,843.8L1897.8,826.7L1878.0,826.7Z" fill="#36a66b"/><path d="M1912.6,836.4L1922.5,819.4L1902.7,819.4Z" fill="#36a66b"/></g>
<g clip-path="url(#c4)"><path d="M1072.7,804.6L1083.3,815.3L1072.7,825.9L1062.1,815.3Z" fill="#a875dc"/><path d="M1097.4,805.0L1108.0,815.7L1097.4,826.3L1086.8,815.7Z" fill="#a875dc"/><path d="M1122.1,805.9L1132.7,816.5L1122.1,827.1L1111.5,816.5Z" fill="#a875dc"/><path d="M1146.8,807.2L1157.4,817.8L1146.8,828.5L1136.2,817.8Z" fill="#a875dc"/><path d="M1171.5,808.9L1182.1,819.5L1171.5,830.1L1160.9,819.5Z" fill="#a875dc"/><path d="M1196.2,810.7L1206.8,821.3L1196.2,831.9L1185.6,821.3Z" fill="#a875dc"/><path d="M1220.9,812.6L1231.5,823.2L1220.9,833.8L1210.3,823.2Z" fill="#a875dc"/><path d="M1245.6,814.7L1256.2,825.3L1245.6,836.0L1235.0,825.3Z" fill="#a875dc"/><path d="M1270.3,817.3L1280.9,827.9L1270.3,838.5L1259.7,827.9Z" fill="#a875dc"/><path d="M1295.0,820.3L1305.6,831.0L1295.0,841.6L1284.4,831.0Z" fill="#a875dc"/><path d="M1319.7,824.4L1330.3,835.0L1319.7,845.6L1309.1,835.0Z" fill="#a875dc"/><path d="M1344.4,829.4L1355.0,840.1L1344.4,850.7L1333.8,840.1Z" fill="#a875dc"/><path d="M1369.1,835.3L1379.7,845.9L1369.1,856.5L1358.5,845.9Z" fill="#a875dc"/><path d="M1393.8,841.6L1404.4,852.3L1393.8,862.9L1383.2,852.3Z" fill="#a875dc"/><path d="M1418.5,848.7L1429.2,859.3L1418.5,869.9L1407.9,859.3Z" fill="#a875dc"/><path d="M1443.2,857.0L1453.9,867.6L1443.2,878.3L1432.6,867.6Z" fill="#a875dc"/><path d="M1467.9,867.3L1478.6,878.0L1467.9,888.6L1457.3,878.0Z" fill="#a875dc"/><path d="M1492.6,880.1L1503.3,890.7L1492.6,901.4L1482.0,890.7Z" fill="#a875dc"/><path d="M1517.3,903.4L1528.0,914.1L1517.3,924.7L1506.7,914.1Z" fill="#a875dc"/><path d="M1542.0,964.1L1552.7,974.7L1542.0,985.3L1531.4,974.7Z" fill="#a875dc"/><path d="M1566.7,1063.7L1577.4,1074.3L1566.7,1085.0L1556.1,1074.3Z" fill="#a875dc"/><path d="M1591.4,1191.8L1602.1,1202.4L1591.4,1213.0L1580.8,1202.4Z" fill="#a875dc"/><path d="M1616.1,979.6L1626.8,990.2L1616.1,1000.8L1605.5,990.2Z" fill="#a875dc"/><path d="M1640.8,866.2L1651.5,876.8L1640.8,887.4L1630.2,876.8Z" fill="#a875dc"/><path d="M1665.5,818.6L1676.2,829.2L1665.5,839.8L1654.9,829.2Z" fill="#a875dc"/><path d="M1690.2,806.7L1700.9,817.3L1690.2,828.0L1679.6,817.3Z" fill="#a875dc"/><path d="M1714.9,833.7L1725.6,844.3L1714.9,854.9L1704.3,844.3Z" fill="#a875dc"/><path d="M1739.7,900.6L1750.3,911.2L1739.7,921.8L1729.0,911.2Z" fill="#a875dc"/><path d="M1764.4,1011.3L1775.0,1022.0L1764.4,1032.6L1753.7,1022.0Z" fill="#a875dc"/><path d="M1789.1,1190.1L1799.7,1200.7L1789.1,1211.4L1778.4,1200.7Z" fill="#a875dc"/><path d="M1813.8,977.6L1824.4,988.3L1813.8,998.9L1803.1,988.3Z" fill="#a875dc"/><path d="M1838.5,897.1L1849.1,907.8L1838.5,918.4L1827.8,907.8Z" fill="#a875dc"/><path d="M1863.2,847.8L1873.8,858.4L1863.2,869.0L1852.5,858.4Z" fill="#a875dc"/><path d="M1887.9,820.0L1898.5,830.7L1887.9,841.3L1877.2,830.7Z" fill="#a875dc"/><path d="M1912.6,816.1L1923.2,826.7L1912.6,837.3L1901.9,826.7Z" fill="#a875dc"/></g>
<rect x="1072.7" y="809.0" width="822.3" height="664.5" fill="none" stroke="#000" stroke-width="2.6"/>
<path d="M1072.7,1473.5v-12M1182.3,1473.5v-12M1292.0,1473.5v-12M1401.6,1473.5v-12M1511.3,1473.5v-12M1620.9,1473.5v-12M1730.5,1473.5v-12M1840.2,1473.5v-12M1127.5,1473.5v-6M1237.2,1473.5v-6M1346.8,1473.5v-6M1456.4,1473.5v-6M1566.1,1473.5v-6M1675.7,1473.5v-6M1785.4,1473.5v-6M1072.7,809.0h12M1072.7,956.7h12M1072.7,1104.3h12M1072.7,1252.0h12M1072.7,1399.7h12M1072.7,882.8h6M1072.7,1030.5h6M1072.7,1178.2h6M1072.7,1325.8h6" stroke="#000" stroke-width="2.6" fill="none"/>
<text x="1064.99" y="1509.50" font-size="30.83" font-weight="bold" fill="#000">2</text>
<text x="1174.63" y="1509.50" font-size="30.83" font-weight="bold" fill="#000">3</text>
<text x="1284.35" y="1509.50" font-size="30.83" font-weight="bold" fill="#000">4</text>
<text x="1393.84" y="1509.50" font-size="30.83" font-weight="bold" fill="#000">5</text>
<text x="1503.48" y="1509.50" font-size="30.83" font-weight="bold" fill="#000">6</text>
<text x="1612.73" y="1509.50" font-size="30.83" font-weight="bold" fill="#000">7</text>
<text x="1722.83" y="1509.50" font-size="30.83" font-weight="bold" fill="#000">8</text>
<text x="1832.63" y="1509.50" font-size="30.83" font-weight="bold" fill="#000">9</text>
<text x="1043.64" y="816.00" font-size="31.43" font-weight="bold" fill="#000">0</text>
<text x="1017.40" y="963.67" font-size="31.43" font-weight="bold" fill="#000">-10</text>
<text x="1017.40" y="1111.33" font-size="31.43" font-weight="bold" fill="#000">-20</text>
<text x="1017.40" y="1259.00" font-size="31.43" font-weight="bold" fill="#000">-30</text>
<text x="1017.40" y="1406.67" font-size="31.43" font-weight="bold" fill="#000">-40</text>
<text x="1322.31" y="1561.10" font-size="38.02" font-weight="bold" fill="#000" textLength="293.45" lengthAdjust="spacingAndGlyphs">Frequency (GHz)</text>
<text transform="translate(1000.90,1378.86) rotate(-90)" font-size="38.32" font-weight="bold" textLength="475.20" lengthAdjust="spacingAndGlyphs">Transmission Coefficient (dB)</text>
<text x="1121.20" y="1402.87" font-size="39.23" font-weight="bold" fill="#000" textLength="54.38" lengthAdjust="spacingAndGlyphs">(d)</text>
<rect x="1126.4" y="870.5" width="230.9" height="272.4" fill="#fff" stroke="#333" stroke-width="1.3"/>
<path d="M1131.7,900.0H1179.3M1179.3,900.0H1227.6" stroke="#555555" stroke-width="4.8" stroke-linecap="round" stroke-dasharray="23,19" fill="none"/>
<rect x="1172.0" y="892.8" width="14.5" height="14.5" fill="#000"/>
<text x="1238.25" y="913.60" font-size="36.79" font-weight="normal" fill="#000" textLength="17.27" lengthAdjust="spacingAndGlyphs">L</text>
<text x="1259.42" y="913.60" font-size="15.49" font-weight="normal" fill="#000" textLength="8.73" lengthAdjust="spacingAndGlyphs">1</text>
<text x="1276.97" y="913.60" font-size="35.64" font-weight="normal" fill="#000" textLength="75.49" lengthAdjust="spacingAndGlyphs">= 5.6</text>
<path d="M1131.7,953.4H1179.3M1179.3,953.4H1227.6" stroke="#0000f0" stroke-width="4.8" stroke-linecap="round" stroke-dasharray="29,21" fill="none"/>
<circle cx="1179.3" cy="953.4" r="7.8" fill="#0000f0"/>
<text x="1238.25" y="966.95" font-size="36.79" font-weight="normal" fill="#000" textLength="17.27" lengthAdjust="spacingAndGlyphs">L</text>
<text x="1259.42" y="966.95" font-size="15.49" font-weight="normal" fill="#000" textLength="8.73" lengthAdjust="spacingAndGlyphs">1</text>
<text x="1276.97" y="966.95" font-size="35.64" font-weight="normal" fill="#000" textLength="75.49" lengthAdjust="spacingAndGlyphs">= 5.7</text>
<path d="M1131.7,1006.7H1227.6" stroke="#c80000" stroke-width="4.8" stroke-linecap="round" fill="none"/>
<path d="M1179.3,997.0L1189.2,1014.0L1169.4,1014.0Z" fill="#c80000"/>
<text x="1238.25" y="1020.30" font-size="36.79" font-weight="normal" fill="#000" textLength="17.27" lengthAdjust="spacingAndGlyphs">L</text>
<text x="1259.42" y="1020.30" font-size="15.49" font-weight="normal" fill="#000" textLength="8.73" lengthAdjust="spacingAndGlyphs">1</text>
<text x="1276.96" y="1020.30" font-size="35.64" font-weight="normal" fill="#000" textLength="75.87" lengthAdjust="spacingAndGlyphs">= 5.8</text>
<path d="M1131.7,1060.0H1179.3M1179.3,1060.0H1227.6" stroke="#36a66b" stroke-width="4.8" stroke-linecap="round" stroke-dasharray="9.5,16.4" fill="none"/>
<path d="M1179.3,1069.8L1189.2,1052.8L1169.4,1052.8Z" fill="#36a66b"/>
<text x="1238.25" y="1073.65" font-size="36.79" font-weight="normal" fill="#000" textLength="17.27" lengthAdjust="spacingAndGlyphs">L</text>
<text x="1259.42" y="1073.65" font-size="15.49" font-weight="normal" fill="#000" textLength="8.73" lengthAdjust="spacingAndGlyphs">1</text>
<text x="1276.96" y="1073.65" font-size="35.64" font-weight="normal" fill="#000" textLength="75.87" lengthAdjust="spacingAndGlyphs">= 5.9</text>
<path d="M1131.7,1113.4H1179.3M1179.3,1113.4H1227.6" stroke="#a875dc" stroke-width="4.8" stroke-linecap="round" stroke-dasharray="16,11,0.1,11" fill="none"/>
<path d="M1179.3,1102.8L1189.9,1113.4L1179.3,1124.0L1168.7,1113.4Z" fill="#a875dc"/>
<text x="1238.25" y="1127.00" font-size="36.79" font-weight="normal" fill="#000" textLength="17.27" lengthAdjust="spacingAndGlyphs">L</text>
<text x="1259.42" y="1127.00" font-size="15.49" font-weight="normal" fill="#000" textLength="8.73" lengthAdjust="spacingAndGlyphs">1</text>
<text x="1276.96" y="1127.00" font-size="35.64" font-weight="normal" fill="#000" textLength="75.87" lengthAdjust="spacingAndGlyphs">= 6.0</text>
<path d="M1241.9,1159.2V1422.4H1541.5" stroke="#333" stroke-width="1.2" fill="none"/>
<path d="M1241.9,1185.5h4M1241.9,1238.2h4M1241.9,1290.8h4M1241.9,1343.4h4M1241.9,1396.1h4M1241.9,1211.8h2.5M1241.9,1264.5h2.5M1241.9,1317.1h2.5M1241.9,1369.8h2.5M1241.9,1422.4v-4M1316.8,1422.4v-4M1391.7,1422.4v-4M1466.6,1422.4v-4M1541.5,1422.4v-4M1279.3,1422.4v-2.5M1354.3,1422.4v-2.5M1429.1,1422.4v-2.5M1504.0,1422.4v-2.5" stroke="#333" stroke-width="1.02" fill="none"/>
<text x="1226.96" y="1190.12" font-size="20.30" font-weight="bold" fill="#000">0</text>
<text x="1210.01" y="1242.76" font-size="20.30" font-weight="bold" fill="#000">-10</text>
<text x="1210.01" y="1295.40" font-size="20.30" font-weight="bold" fill="#000">-20</text>
<text x="1210.01" y="1348.04" font-size="20.30" font-weight="bold" fill="#000">-30</text>
<text x="1210.01" y="1400.68" font-size="20.30" font-weight="bold" fill="#000">-40</text>
<text x="1229.21" y="1441.70" font-size="20.30" font-weight="bold" fill="#000">6.5</text>
<text x="1304.06" y="1441.70" font-size="20.30" font-weight="bold" fill="#000">6.6</text>
<text x="1378.91" y="1441.70" font-size="20.30" font-weight="bold" fill="#000">6.7</text>
<text x="1453.91" y="1441.70" font-size="20.30" font-weight="bold" fill="#000">6.8</text>
<text x="1528.81" y="1441.70" font-size="20.30" font-weight="bold" fill="#000">6.9</text>
<path d="M1241.9,1278.2L1258.3,1284.0L1271.3,1289.3L1290.9,1298.6L1303.9,1306.1L1310.4,1310.4L1323.5,1320.4L1330.0,1326.3L1336.5,1333.0L1343.0,1340.9L1349.5,1350.2L1356.0,1361.7L1362.6,1375.9L1369.1,1392.7L1375.6,1402.9L1382.1,1387.9L1388.6,1367.5L1395.1,1351.9L1401.7,1339.8L1408.2,1330.2L1414.7,1322.1L1421.2,1315.3L1427.7,1309.3L1434.2,1304.0L1447.3,1295.0L1460.3,1287.5L1473.3,1281.1L1486.4,1275.5L1505.9,1268.3L1525.5,1262.1L1541.5,1257.6" fill="none" stroke="#a875dc" stroke-width="2.6" stroke-linecap="butt" stroke-linejoin="round"/>
<path d="M1241.9,1270.3L1272.8,1279.4L1292.4,1286.3L1305.4,1291.6L1318.4,1297.6L1331.5,1304.5L1344.5,1312.7L1351.0,1317.4L1357.5,1322.6L1364.1,1328.5L1370.6,1335.3L1377.1,1343.1L1383.6,1352.4L1390.1,1363.8L1396.6,1378.0L1403.2,1394.5L1409.7,1404.5L1416.2,1389.0L1422.7,1368.2L1429.2,1352.4L1435.7,1340.3L1442.3,1330.6L1448.8,1322.6L1455.3,1315.7L1461.8,1309.8L1474.8,1299.7L1481.4,1295.4L1494.4,1287.9L1513.9,1278.6L1527.0,1273.4L1541.5,1268.2" fill="none" stroke="#36a66b" stroke-width="2.6" stroke-linecap="butt" stroke-linejoin="round"/>
<path d="M1241.9,1266.6L1260.3,1271.3L1279.8,1277.0L1299.3,1283.6L1312.4,1288.6L1325.4,1294.2L1338.4,1300.7L1351.5,1308.2L1364.5,1317.1L1371.0,1322.4L1377.5,1328.3L1384.1,1335.0L1390.6,1342.9L1397.1,1352.2L1403.6,1363.6L1410.1,1377.8L1416.6,1394.4L1423.2,1404.5L1429.7,1390.5L1436.2,1370.7L1442.7,1355.2L1449.2,1343.3L1455.7,1333.7L1462.3,1325.7L1468.8,1318.8L1475.3,1312.9L1481.8,1307.6L1494.8,1298.6L1501.4,1294.7L1514.4,1287.7L1527.4,1281.7L1541.5,1276.1" fill="none" stroke="#555555" stroke-width="2.6" stroke-linecap="butt" stroke-linejoin="round"/>
<path d="M1241.9,1269.2L1260.0,1274.1L1279.6,1280.1L1299.1,1287.0L1312.2,1292.3L1325.2,1298.3L1338.2,1305.2L1351.3,1313.4L1357.8,1318.1L1364.3,1323.3L1370.8,1329.2L1377.3,1335.9L1383.8,1343.7L1390.4,1353.0L1396.9,1364.3L1403.4,1378.3L1409.9,1394.4L1416.4,1404.0L1422.9,1390.3L1429.4,1370.8L1436.0,1355.5L1442.5,1343.6L1449.0,1334.0L1455.5,1326.0L1462.0,1319.2L1468.5,1313.2L1475.1,1307.9L1481.6,1303.2L1494.6,1295.0L1514.2,1285.0L1527.2,1279.4L1541.5,1274.0" fill="none" stroke="#0000f0" stroke-width="2.0" stroke-linecap="butt" stroke-linejoin="round"/>
<path d="M1241.9,1268.2L1259.7,1273.0L1279.3,1278.9L1298.8,1285.8L1311.9,1291.1L1324.9,1297.1L1337.9,1304.1L1351.0,1312.2L1357.5,1316.9L1364.0,1322.2L1370.5,1328.0L1377.0,1334.8L1383.5,1342.6L1390.1,1351.9L1396.6,1363.2L1403.1,1377.2L1409.6,1393.3L1416.1,1402.9L1422.6,1389.1L1429.1,1369.4L1435.7,1354.1L1442.2,1342.1L1448.7,1332.5L1455.2,1324.5L1461.7,1317.7L1468.2,1311.7L1474.8,1306.5L1481.3,1301.7L1494.3,1293.5L1513.9,1283.5L1526.9,1277.9L1541.5,1272.4" fill="none" stroke="#c80000" stroke-width="2.6" stroke-linecap="butt" stroke-linejoin="round"/>
<path d="M1574.4,1333.2L1532.6,1314.9" stroke="#000" stroke-width="5.0" fill="none"/>
<path d="M1500.7,1300.9L1538.8,1305.6L1530.0,1325.7Z" fill="#000"/>
<clipPath id="c5"><rect x="108.4" y="1593.2" width="837.1" height="675.4"/></clipPath>
<path d="M98.6,1607.4L147.1,1607.6L226.3,1608.7L310.4,1610.8L341.1,1613.3L373.9,1617.8L472.1,1634.8L498.7,1640.7L524.6,1647.7L535.7,1651.4L546.7,1655.7L558.2,1660.8L569.3,1666.2L576.9,1670.6L584.8,1675.8L593.4,1682.3L600.1,1688.0L606.4,1694.2L613.9,1702.4L625.1,1716.8L637.2,1734.7L653.9,1763.0L659.5,1775.2L664.6,1789.9L669.5,1807.9L674.2,1829.2L678.3,1851.2L681.2,1875.5L684.3,1908.8L686.7,1944.1L688.5,1978.7L690.1,2019.9L692.8,2139.2L693.4,2154.4L696.1,2025.0L698.2,1961.4L700.0,1927.2L702.0,1898.0L704.4,1870.1L707.2,1844.2L710.0,1823.2L713.1,1804.4L725.5,1737.7L730.7,1712.7L737.0,1689.7L743.8,1668.7L749.6,1653.8L756.3,1640.4L762.6,1629.9L768.2,1622.8L778.3,1614.0L781.7,1611.9L784.8,1610.7L787.3,1610.4L789.7,1610.8L792.3,1611.9L794.8,1613.5L800.7,1618.8L808.9,1628.3L811.7,1632.6L815.2,1639.5L833.8,1681.6L839.6,1695.7L850.4,1725.1L866.4,1774.4L868.0,1781.0L870.0,1793.2L874.3,1825.0L877.8,1858.9L880.5,1896.1L882.5,1934.7L884.1,1976.5L887.3,2107.7L888.2,2093.1L891.6,1981.4L895.2,1915.2L897.8,1883.9L901.0,1853.8L904.7,1827.3L908.7,1803.9L915.4,1771.9L927.2,1719.6L931.7,1703.1L936.6,1689.8L941.1,1679.7L946.5,1669.5L955.2,1654.6L961.9,1644.5L966.6,1638.5L971.3,1633.9L977.1,1629.2L982.2,1626.3" fill="none" stroke="#555555" stroke-width="4.3" stroke-linecap="round" stroke-linejoin="round" stroke-dasharray="23,19" clip-path="url(#c5)"/>
<path d="M98.6,1607.8L147.5,1608.1L229.7,1609.9L275.5,1611.2L312.6,1613.0L331.9,1614.7L353.6,1617.4L434.1,1629.8L463.4,1635.0L488.2,1640.1L510.4,1645.7L526.8,1651.1L544.9,1658.6L562.4,1667.4L576.0,1676.3L589.6,1687.3L595.9,1693.7L603.3,1702.1L614.2,1716.5L626.2,1734.7L642.4,1762.5L647.8,1774.6L652.8,1789.2L657.6,1807.0L662.2,1828.1L666.3,1851.2L668.9,1873.4L672.0,1906.1L674.6,1944.1L676.3,1978.7L677.9,2019.9L680.5,2137.1L681.1,2151.7L683.7,2024.9L685.9,1961.4L689.6,1898.0L692.0,1870.1L694.8,1844.2L697.6,1823.2L700.6,1804.4L713.0,1737.7L718.4,1711.7L724.8,1688.2L731.4,1667.4L737.1,1652.8L743.8,1639.6L749.7,1629.6L755.2,1622.6L765.1,1613.8L768.5,1611.8L771.5,1610.6L774.0,1610.4L776.3,1610.9L779.0,1612.0L781.6,1613.7L787.4,1619.0L795.7,1628.6L798.5,1632.9L802.0,1639.9L820.7,1682.1L827.2,1697.9L837.1,1725.8L852.1,1773.6L853.6,1779.9L855.6,1791.8L859.8,1823.0L863.1,1856.3L865.7,1892.5L867.7,1929.7L869.2,1969.6L872.5,2100.1L873.0,2097.8L873.4,2088.1L877.0,1976.3L878.8,1942.0L880.9,1909.4L883.7,1877.2L886.9,1848.7L890.8,1821.9L895.0,1798.5L901.3,1769.0L912.8,1717.9L917.1,1702.4L922.3,1688.7L926.8,1678.8L932.1,1668.7L940.9,1653.9L947.3,1644.2L952.0,1638.3L956.7,1633.7L962.3,1629.2L967.5,1626.3" fill="none" stroke="#0000f0" stroke-width="4.3" stroke-linecap="round" stroke-linejoin="round" stroke-dasharray="20,9,0.1,9" clip-path="url(#c5)"/>
<path d="M98.6,1607.8L147.0,1608.1L228.2,1609.8L273.4,1611.2L310.2,1613.0L329.1,1614.6L350.5,1617.3L428.7,1629.6L458.1,1634.8L482.5,1639.9L504.6,1645.5L520.6,1650.8L538.6,1658.3L556.0,1667.2L569.3,1676.0L582.5,1686.9L588.8,1693.3L595.8,1701.4L606.8,1715.9L618.5,1734.0L634.4,1761.7L639.8,1773.5L644.7,1787.8L649.4,1805.2L653.9,1825.9L658.4,1851.2L660.8,1871.4L663.8,1903.4L666.3,1940.4L669.5,2013.1L672.3,2132.8L673.0,2146.4L675.5,2024.7L677.9,1956.5L681.5,1895.1L683.9,1867.9L686.7,1842.4L689.5,1821.7L692.5,1803.2L704.7,1736.6L710.2,1709.9L716.7,1685.9L722.9,1666.2L728.5,1651.8L735.3,1637.9L740.9,1628.6L746.0,1622.1L755.7,1613.5L758.9,1611.6L761.9,1610.5L764.0,1610.4L766.4,1610.9L771.5,1613.8L777.3,1619.3L785.2,1628.6L788.0,1632.9L791.4,1639.9L809.9,1682.1L816.5,1698.4L825.9,1725.8L840.5,1773.6L842.0,1779.9L843.9,1791.8L848.0,1823.0L851.2,1856.3L853.8,1892.5L855.7,1929.7L857.2,1969.6L860.4,2100.1L860.9,2097.8L861.3,2088.1L864.9,1976.3L866.6,1942.0L868.8,1909.4L871.6,1877.2L874.8,1848.7L878.6,1821.9L882.9,1798.5L889.1,1769.0L900.7,1717.9L905.0,1702.4L910.1,1688.7L914.6,1678.8L920.0,1668.7L928.8,1653.9L935.2,1644.2L939.9,1638.3L944.6,1633.7L950.2,1629.2L955.3,1626.3" fill="none" stroke="#c80000" stroke-width="4.3" stroke-linecap="round" stroke-linejoin="round" clip-path="url(#c5)"/>
<path d="M98.6,1608.2L129.6,1608.3L164.7,1609.0L236.7,1611.1L278.6,1612.8L304.5,1614.4L317.6,1615.6L335.2,1617.9L355.1,1621.3L452.1,1640.7L477.9,1647.0L500.8,1653.8L515.9,1659.7L527.5,1665.1L544.4,1672.3L552.8,1676.5L561.2,1681.4L570.5,1687.6L577.2,1692.7L583.8,1698.5L593.9,1708.7L604.9,1721.6L614.6,1737.2L629.4,1763.8L634.7,1776.3L639.7,1792.1L644.4,1810.7L648.8,1832.6L652.2,1852.7L655.2,1879.7L657.9,1911.6L660.2,1947.9L663.2,2019.9L665.7,2134.9L666.4,2149.1L668.9,2024.8L671.3,1956.5L674.9,1895.1L677.2,1867.9L680.0,1842.4L682.8,1821.7L685.8,1803.2L698.1,1735.5L703.6,1709.0L710.0,1685.2L716.1,1665.6L721.4,1651.8L728.3,1637.6L733.8,1628.3L738.9,1621.9L748.2,1613.5L751.4,1611.6L754.3,1610.5L756.6,1610.5L759.0,1611.0L764.1,1614.0L769.7,1619.3L777.8,1628.9L780.6,1633.3L784.0,1640.4L802.4,1682.6L809.2,1699.6L818.3,1726.5L832.3,1773.6L833.8,1779.9L835.7,1791.8L839.7,1823.0L842.8,1856.3L845.4,1892.5L847.2,1929.7L848.7,1969.6L851.9,2104.8L852.7,2091.2L856.2,1981.4L859.8,1915.2L862.4,1883.9L865.6,1853.8L869.4,1826.0L873.7,1801.7L880.4,1769.9L891.9,1718.8L896.4,1702.4L901.4,1689.3L905.9,1679.3L911.2,1669.1L920.0,1654.2L926.4,1644.5L931.1,1638.5L935.9,1633.9L941.6,1629.2L946.8,1626.3" fill="none" stroke="#36a66b" stroke-width="4.3" stroke-linecap="round" stroke-linejoin="round" stroke-dasharray="7,11" clip-path="url(#c5)"/>
<path d="M98.6,1608.8L145.3,1609.4L222.7,1612.4L266.6,1614.8L304.1,1617.9L318.2,1619.7L334.4,1622.5L411.4,1638.8L440.9,1645.8L463.7,1651.9L485.7,1659.0L501.4,1665.1L510.6,1669.6L520.2,1674.9L545.0,1684.9L560.3,1693.3L568.1,1698.1L574.7,1703.1L584.3,1711.2L595.4,1721.6L603.7,1735.1L616.5,1758.1L621.0,1767.5L624.8,1776.9L629.3,1791.4L633.4,1807.9L637.6,1828.1L641.5,1851.2L644.4,1877.6L646.7,1903.4L650.4,1964.5L652.4,2019.9L654.9,2141.4L655.5,2157.0L658.1,2025.1L660.2,1961.4L663.9,1898.0L666.2,1870.1L668.8,1846.0L671.6,1824.7L674.8,1804.4L687.2,1736.6L692.6,1710.8L699.0,1686.7L705.2,1666.8L710.6,1652.8L717.2,1639.1L723.0,1629.3L728.4,1622.3L738.0,1613.7L741.2,1611.7L744.2,1610.6L746.6,1610.4L749.0,1610.9L754.4,1613.8L760.3,1619.3L768.5,1628.6L771.6,1633.3L775.1,1640.4L794.4,1683.1L801.7,1700.7L810.1,1726.5L823.5,1772.1L825.3,1779.9L826.4,1786.3L830.7,1819.3L833.8,1851.2L836.2,1885.6L839.5,1956.9L842.6,2083.8L843.2,2092.9L844.1,2077.6L847.7,1971.5L849.4,1938.3L851.6,1906.6L854.4,1875.0L857.8,1845.4L861.6,1819.3L866.1,1795.3L872.1,1767.0L883.5,1717.0L887.8,1701.8L892.9,1688.2L897.4,1678.4L902.8,1668.3L911.3,1653.9L917.8,1644.2L922.5,1638.3L927.2,1633.7L932.8,1629.2L937.9,1626.3" fill="none" stroke="#a87adc" stroke-width="4.3" stroke-linecap="round" stroke-linejoin="round" stroke-dasharray="14,8,0.1,8,0.1,8" clip-path="url(#c5)"/>
<g clip-path="url(#c5)"><rect x="104.8" y="1599.9" width="15.0" height="15.0" fill="#555555"/><rect x="131.3" y="1600.0" width="15.0" height="15.0" fill="#555555"/><rect x="157.8" y="1600.3" width="15.0" height="15.0" fill="#555555"/><rect x="184.3" y="1600.7" width="15.0" height="15.0" fill="#555555"/><rect x="210.8" y="1601.1" width="15.0" height="15.0" fill="#555555"/><rect x="237.3" y="1601.6" width="15.0" height="15.0" fill="#555555"/><rect x="263.8" y="1602.1" width="15.0" height="15.0" fill="#555555"/><rect x="290.3" y="1602.9" width="15.0" height="15.0" fill="#555555"/><rect x="316.8" y="1604.2" width="15.0" height="15.0" fill="#555555"/><rect x="343.3" y="1606.9" width="15.0" height="15.0" fill="#555555"/><rect x="369.8" y="1610.8" width="15.0" height="15.0" fill="#555555"/><rect x="396.2" y="1615.5" width="15.0" height="15.0" fill="#555555"/><rect x="422.7" y="1619.9" width="15.0" height="15.0" fill="#555555"/><rect x="449.2" y="1624.4" width="15.0" height="15.0" fill="#555555"/><rect x="475.7" y="1629.6" width="15.0" height="15.0" fill="#555555"/><rect x="502.2" y="1636.0" width="15.0" height="15.0" fill="#555555"/><rect x="528.7" y="1644.1" width="15.0" height="15.0" fill="#555555"/><rect x="555.2" y="1655.4" width="15.0" height="15.0" fill="#555555"/><rect x="581.7" y="1671.5" width="15.0" height="15.0" fill="#555555"/><rect x="608.2" y="1697.0" width="15.0" height="15.0" fill="#555555"/><rect x="634.7" y="1735.5" width="15.0" height="15.0" fill="#555555"/><rect x="661.2" y="1796.9" width="15.0" height="15.0" fill="#555555"/><rect x="687.7" y="2059.1" width="15.0" height="15.0" fill="#555555"/><rect x="714.1" y="1750.8" width="15.0" height="15.0" fill="#555555"/><rect x="740.6" y="1649.7" width="15.0" height="15.0" fill="#555555"/><rect x="767.1" y="1609.5" width="15.0" height="15.0" fill="#555555"/><rect x="793.6" y="1611.8" width="15.0" height="15.0" fill="#555555"/><rect x="820.1" y="1660.3" width="15.0" height="15.0" fill="#555555"/><rect x="846.6" y="1728.6" width="15.0" height="15.0" fill="#555555"/><rect x="873.1" y="1890.4" width="15.0" height="15.0" fill="#555555"/><rect x="899.6" y="1805.3" width="15.0" height="15.0" fill="#555555"/><rect x="926.1" y="1690.0" width="15.0" height="15.0" fill="#555555"/></g>
<g clip-path="url(#c5)"><rect x="109.8" y="1600.3" width="15.0" height="15.0" fill="#0000f0"/><rect x="131.6" y="1600.5" width="15.0" height="15.0" fill="#0000f0"/><rect x="153.5" y="1600.8" width="15.0" height="15.0" fill="#0000f0"/><rect x="175.4" y="1601.3" width="15.0" height="15.0" fill="#0000f0"/><rect x="197.2" y="1601.8" width="15.0" height="15.0" fill="#0000f0"/><rect x="219.1" y="1602.3" width="15.0" height="15.0" fill="#0000f0"/><rect x="240.9" y="1602.8" width="15.0" height="15.0" fill="#0000f0"/><rect x="262.8" y="1603.5" width="15.0" height="15.0" fill="#0000f0"/><rect x="284.7" y="1604.4" width="15.0" height="15.0" fill="#0000f0"/><rect x="306.5" y="1605.6" width="15.0" height="15.0" fill="#0000f0"/><rect x="328.4" y="1607.6" width="15.0" height="15.0" fill="#0000f0"/><rect x="350.3" y="1610.4" width="15.0" height="15.0" fill="#0000f0"/><rect x="372.1" y="1613.8" width="15.0" height="15.0" fill="#0000f0"/><rect x="394.0" y="1617.2" width="15.0" height="15.0" fill="#0000f0"/><rect x="415.8" y="1620.6" width="15.0" height="15.0" fill="#0000f0"/><rect x="437.7" y="1624.2" width="15.0" height="15.0" fill="#0000f0"/><rect x="459.6" y="1628.2" width="15.0" height="15.0" fill="#0000f0"/><rect x="481.4" y="1632.8" width="15.0" height="15.0" fill="#0000f0"/><rect x="503.3" y="1638.3" width="15.0" height="15.0" fill="#0000f0"/><rect x="525.2" y="1645.9" width="15.0" height="15.0" fill="#0000f0"/><rect x="547.0" y="1655.7" width="15.0" height="15.0" fill="#0000f0"/><rect x="568.9" y="1669.1" width="15.0" height="15.0" fill="#0000f0"/><rect x="590.8" y="1688.8" width="15.0" height="15.0" fill="#0000f0"/><rect x="612.6" y="1717.6" width="15.0" height="15.0" fill="#0000f0"/><rect x="634.5" y="1754.3" width="15.0" height="15.0" fill="#0000f0"/><rect x="656.3" y="1829.4" width="15.0" height="15.0" fill="#0000f0"/><rect x="678.2" y="1958.5" width="15.0" height="15.0" fill="#0000f0"/><rect x="700.1" y="1759.5" width="15.0" height="15.0" fill="#0000f0"/><rect x="721.9" y="1665.7" width="15.0" height="15.0" fill="#0000f0"/><rect x="743.8" y="1619.8" width="15.0" height="15.0" fill="#0000f0"/><rect x="765.7" y="1602.9" width="15.0" height="15.0" fill="#0000f0"/><rect x="787.5" y="1620.3" width="15.0" height="15.0" fill="#0000f0"/><rect x="809.4" y="1666.1" width="15.0" height="15.0" fill="#0000f0"/><rect x="831.2" y="1723.4" width="15.0" height="15.0" fill="#0000f0"/><rect x="853.1" y="1823.1" width="15.0" height="15.0" fill="#0000f0"/><rect x="875.0" y="1882.7" width="15.0" height="15.0" fill="#0000f0"/><rect x="896.8" y="1747.8" width="15.0" height="15.0" fill="#0000f0"/><rect x="918.7" y="1672.5" width="15.0" height="15.0" fill="#0000f0"/><rect x="940.6" y="1635.7" width="15.0" height="15.0" fill="#0000f0"/></g>
<g clip-path="url(#c5)"><rect x="102.3" y="1600.3" width="15.0" height="15.0" fill="#c80000"/><rect x="120.0" y="1600.4" width="15.0" height="15.0" fill="#c80000"/><rect x="137.7" y="1600.6" width="15.0" height="15.0" fill="#c80000"/><rect x="155.4" y="1600.9" width="15.0" height="15.0" fill="#c80000"/><rect x="173.1" y="1601.3" width="15.0" height="15.0" fill="#c80000"/><rect x="190.8" y="1601.7" width="15.0" height="15.0" fill="#c80000"/><rect x="208.5" y="1602.1" width="15.0" height="15.0" fill="#c80000"/><rect x="226.2" y="1602.5" width="15.0" height="15.0" fill="#c80000"/><rect x="243.9" y="1603.0" width="15.0" height="15.0" fill="#c80000"/><rect x="261.6" y="1603.6" width="15.0" height="15.0" fill="#c80000"/><rect x="279.3" y="1604.3" width="15.0" height="15.0" fill="#c80000"/><rect x="296.9" y="1605.1" width="15.0" height="15.0" fill="#c80000"/><rect x="314.6" y="1606.4" width="15.0" height="15.0" fill="#c80000"/><rect x="332.3" y="1608.4" width="15.0" height="15.0" fill="#c80000"/><rect x="350.0" y="1610.8" width="15.0" height="15.0" fill="#c80000"/><rect x="367.7" y="1613.5" width="15.0" height="15.0" fill="#c80000"/><rect x="385.4" y="1616.4" width="15.0" height="15.0" fill="#c80000"/><rect x="403.1" y="1619.2" width="15.0" height="15.0" fill="#c80000"/><rect x="420.8" y="1622.0" width="15.0" height="15.0" fill="#c80000"/><rect x="438.5" y="1625.0" width="15.0" height="15.0" fill="#c80000"/><rect x="456.2" y="1628.4" width="15.0" height="15.0" fill="#c80000"/><rect x="473.9" y="1632.1" width="15.0" height="15.0" fill="#c80000"/><rect x="491.6" y="1636.5" width="15.0" height="15.0" fill="#c80000"/><rect x="509.3" y="1641.9" width="15.0" height="15.0" fill="#c80000"/><rect x="527.0" y="1648.9" width="15.0" height="15.0" fill="#c80000"/><rect x="544.7" y="1657.6" width="15.0" height="15.0" fill="#c80000"/><rect x="562.4" y="1669.0" width="15.0" height="15.0" fill="#c80000"/><rect x="580.1" y="1684.5" width="15.0" height="15.0" fill="#c80000"/><rect x="597.8" y="1706.3" width="15.0" height="15.0" fill="#c80000"/><rect x="615.5" y="1734.1" width="15.0" height="15.0" fill="#c80000"/><rect x="633.2" y="1768.5" width="15.0" height="15.0" fill="#c80000"/><rect x="650.9" y="1843.7" width="15.0" height="15.0" fill="#c80000"/><rect x="668.6" y="1997.4" width="15.0" height="15.0" fill="#c80000"/><rect x="686.3" y="1788.5" width="15.0" height="15.0" fill="#c80000"/><rect x="704.0" y="1697.4" width="15.0" height="15.0" fill="#c80000"/><rect x="721.7" y="1642.7" width="15.0" height="15.0" fill="#c80000"/><rect x="739.4" y="1613.8" width="15.0" height="15.0" fill="#c80000"/><rect x="757.1" y="1603.0" width="15.0" height="15.0" fill="#c80000"/><rect x="774.8" y="1617.5" width="15.0" height="15.0" fill="#c80000"/><rect x="792.5" y="1652.4" width="15.0" height="15.0" fill="#c80000"/><rect x="810.2" y="1694.0" width="15.0" height="15.0" fill="#c80000"/><rect x="827.9" y="1749.1" width="15.0" height="15.0" fill="#c80000"/><rect x="845.6" y="1873.5" width="15.0" height="15.0" fill="#c80000"/><rect x="863.3" y="1878.2" width="15.0" height="15.0" fill="#c80000"/><rect x="881.0" y="1764.6" width="15.0" height="15.0" fill="#c80000"/><rect x="898.7" y="1691.5" width="15.0" height="15.0" fill="#c80000"/><rect x="916.4" y="1654.5" width="15.0" height="15.0" fill="#c80000"/><rect x="934.1" y="1629.0" width="15.0" height="15.0" fill="#c80000"/></g>
<g clip-path="url(#c5)"><rect x="102.9" y="1600.7" width="15.0" height="15.0" fill="#36a66b"/><rect x="115.8" y="1600.7" width="15.0" height="15.0" fill="#36a66b"/><rect x="128.7" y="1600.9" width="15.0" height="15.0" fill="#36a66b"/><rect x="141.6" y="1601.1" width="15.0" height="15.0" fill="#36a66b"/><rect x="154.5" y="1601.4" width="15.0" height="15.0" fill="#36a66b"/><rect x="167.4" y="1601.8" width="15.0" height="15.0" fill="#36a66b"/><rect x="180.3" y="1602.2" width="15.0" height="15.0" fill="#36a66b"/><rect x="193.2" y="1602.5" width="15.0" height="15.0" fill="#36a66b"/><rect x="206.1" y="1602.9" width="15.0" height="15.0" fill="#36a66b"/><rect x="219.0" y="1603.3" width="15.0" height="15.0" fill="#36a66b"/><rect x="231.9" y="1603.7" width="15.0" height="15.0" fill="#36a66b"/><rect x="244.8" y="1604.2" width="15.0" height="15.0" fill="#36a66b"/><rect x="257.7" y="1604.7" width="15.0" height="15.0" fill="#36a66b"/><rect x="270.6" y="1605.3" width="15.0" height="15.0" fill="#36a66b"/><rect x="283.5" y="1606.0" width="15.0" height="15.0" fill="#36a66b"/><rect x="296.4" y="1606.8" width="15.0" height="15.0" fill="#36a66b"/><rect x="309.3" y="1608.0" width="15.0" height="15.0" fill="#36a66b"/><rect x="322.2" y="1609.6" width="15.0" height="15.0" fill="#36a66b"/><rect x="335.1" y="1611.6" width="15.0" height="15.0" fill="#36a66b"/><rect x="348.0" y="1613.9" width="15.0" height="15.0" fill="#36a66b"/><rect x="360.9" y="1616.4" width="15.0" height="15.0" fill="#36a66b"/><rect x="373.8" y="1619.0" width="15.0" height="15.0" fill="#36a66b"/><rect x="386.7" y="1621.6" width="15.0" height="15.0" fill="#36a66b"/><rect x="399.6" y="1624.1" width="15.0" height="15.0" fill="#36a66b"/><rect x="412.5" y="1626.6" width="15.0" height="15.0" fill="#36a66b"/><rect x="425.4" y="1629.1" width="15.0" height="15.0" fill="#36a66b"/><rect x="438.3" y="1631.8" width="15.0" height="15.0" fill="#36a66b"/><rect x="451.2" y="1634.7" width="15.0" height="15.0" fill="#36a66b"/><rect x="464.1" y="1637.8" width="15.0" height="15.0" fill="#36a66b"/><rect x="477.0" y="1641.3" width="15.0" height="15.0" fill="#36a66b"/><rect x="489.9" y="1645.2" width="15.0" height="15.0" fill="#36a66b"/><rect x="502.8" y="1649.8" width="15.0" height="15.0" fill="#36a66b"/><rect x="515.7" y="1655.5" width="15.0" height="15.0" fill="#36a66b"/><rect x="528.6" y="1661.2" width="15.0" height="15.0" fill="#36a66b"/><rect x="541.5" y="1667.0" width="15.0" height="15.0" fill="#36a66b"/><rect x="554.4" y="1674.3" width="15.0" height="15.0" fill="#36a66b"/><rect x="567.3" y="1683.3" width="15.0" height="15.0" fill="#36a66b"/><rect x="580.2" y="1694.8" width="15.0" height="15.0" fill="#36a66b"/><rect x="593.1" y="1708.9" width="15.0" height="15.0" fill="#36a66b"/><rect x="606.0" y="1727.9" width="15.0" height="15.0" fill="#36a66b"/><rect x="618.9" y="1750.6" width="15.0" height="15.0" fill="#36a66b"/><rect x="631.8" y="1783.2" width="15.0" height="15.0" fill="#36a66b"/><rect x="644.7" y="1845.3" width="15.0" height="15.0" fill="#36a66b"/><rect x="657.6" y="2096.3" width="15.0" height="15.0" fill="#36a66b"/><rect x="670.5" y="1852.5" width="15.0" height="15.0" fill="#36a66b"/><rect x="683.4" y="1767.6" width="15.0" height="15.0" fill="#36a66b"/><rect x="696.3" y="1700.8" width="15.0" height="15.0" fill="#36a66b"/><rect x="709.2" y="1656.3" width="15.0" height="15.0" fill="#36a66b"/><rect x="722.1" y="1627.7" width="15.0" height="15.0" fill="#36a66b"/><rect x="735.0" y="1610.9" width="15.0" height="15.0" fill="#36a66b"/><rect x="747.9" y="1602.9" width="15.0" height="15.0" fill="#36a66b"/><rect x="760.8" y="1610.3" width="15.0" height="15.0" fill="#36a66b"/><rect x="773.7" y="1627.1" width="15.0" height="15.0" fill="#36a66b"/><rect x="786.6" y="1656.5" width="15.0" height="15.0" fill="#36a66b"/><rect x="799.5" y="1686.4" width="15.0" height="15.0" fill="#36a66b"/><rect x="812.4" y="1724.3" width="15.0" height="15.0" fill="#36a66b"/><rect x="825.3" y="1768.0" width="15.0" height="15.0" fill="#36a66b"/><rect x="838.2" y="1891.5" width="15.0" height="15.0" fill="#36a66b"/><rect x="851.1" y="1925.1" width="15.0" height="15.0" fill="#36a66b"/><rect x="864.0" y="1805.8" width="15.0" height="15.0" fill="#36a66b"/><rect x="876.9" y="1744.2" width="15.0" height="15.0" fill="#36a66b"/><rect x="889.8" y="1692.2" width="15.0" height="15.0" fill="#36a66b"/><rect x="902.7" y="1663.3" width="15.0" height="15.0" fill="#36a66b"/><rect x="915.6" y="1641.8" width="15.0" height="15.0" fill="#36a66b"/><rect x="928.5" y="1626.2" width="15.0" height="15.0" fill="#36a66b"/><rect x="941.4" y="1618.8" width="15.0" height="15.0" fill="#36a66b"/></g>
<g clip-path="url(#c5)"><rect x="100.9" y="1601.3" width="15.0" height="15.0" fill="#a87adc"/><rect x="109.7" y="1601.4" width="15.0" height="15.0" fill="#a87adc"/><rect x="118.4" y="1601.5" width="15.0" height="15.0" fill="#a87adc"/><rect x="127.2" y="1601.6" width="15.0" height="15.0" fill="#a87adc"/><rect x="135.9" y="1601.9" width="15.0" height="15.0" fill="#a87adc"/><rect x="144.7" y="1602.1" width="15.0" height="15.0" fill="#a87adc"/><rect x="153.4" y="1602.4" width="15.0" height="15.0" fill="#a87adc"/><rect x="162.2" y="1602.8" width="15.0" height="15.0" fill="#a87adc"/><rect x="170.9" y="1603.1" width="15.0" height="15.0" fill="#a87adc"/><rect x="179.7" y="1603.5" width="15.0" height="15.0" fill="#a87adc"/><rect x="188.5" y="1603.8" width="15.0" height="15.0" fill="#a87adc"/><rect x="197.2" y="1604.2" width="15.0" height="15.0" fill="#a87adc"/><rect x="206.0" y="1604.5" width="15.0" height="15.0" fill="#a87adc"/><rect x="214.7" y="1604.9" width="15.0" height="15.0" fill="#a87adc"/><rect x="223.5" y="1605.3" width="15.0" height="15.0" fill="#a87adc"/><rect x="232.2" y="1605.8" width="15.0" height="15.0" fill="#a87adc"/><rect x="241.0" y="1606.2" width="15.0" height="15.0" fill="#a87adc"/><rect x="249.7" y="1606.7" width="15.0" height="15.0" fill="#a87adc"/><rect x="258.5" y="1607.3" width="15.0" height="15.0" fill="#a87adc"/><rect x="267.2" y="1607.9" width="15.0" height="15.0" fill="#a87adc"/><rect x="276.0" y="1608.6" width="15.0" height="15.0" fill="#a87adc"/><rect x="284.8" y="1609.3" width="15.0" height="15.0" fill="#a87adc"/><rect x="293.5" y="1610.1" width="15.0" height="15.0" fill="#a87adc"/><rect x="302.3" y="1611.0" width="15.0" height="15.0" fill="#a87adc"/><rect x="311.0" y="1612.2" width="15.0" height="15.0" fill="#a87adc"/><rect x="319.8" y="1613.7" width="15.0" height="15.0" fill="#a87adc"/><rect x="328.5" y="1615.3" width="15.0" height="15.0" fill="#a87adc"/><rect x="337.3" y="1617.1" width="15.0" height="15.0" fill="#a87adc"/><rect x="346.0" y="1619.0" width="15.0" height="15.0" fill="#a87adc"/><rect x="354.8" y="1621.0" width="15.0" height="15.0" fill="#a87adc"/><rect x="363.6" y="1622.9" width="15.0" height="15.0" fill="#a87adc"/><rect x="372.3" y="1624.8" width="15.0" height="15.0" fill="#a87adc"/><rect x="381.1" y="1626.7" width="15.0" height="15.0" fill="#a87adc"/><rect x="389.8" y="1628.4" width="15.0" height="15.0" fill="#a87adc"/><rect x="398.6" y="1630.1" width="15.0" height="15.0" fill="#a87adc"/><rect x="407.3" y="1632.1" width="15.0" height="15.0" fill="#a87adc"/><rect x="416.1" y="1634.1" width="15.0" height="15.0" fill="#a87adc"/><rect x="424.8" y="1636.2" width="15.0" height="15.0" fill="#a87adc"/><rect x="433.6" y="1638.3" width="15.0" height="15.0" fill="#a87adc"/><rect x="442.3" y="1640.6" width="15.0" height="15.0" fill="#a87adc"/><rect x="451.1" y="1643.0" width="15.0" height="15.0" fill="#a87adc"/><rect x="459.9" y="1645.5" width="15.0" height="15.0" fill="#a87adc"/><rect x="468.6" y="1648.2" width="15.0" height="15.0" fill="#a87adc"/><rect x="477.4" y="1651.2" width="15.0" height="15.0" fill="#a87adc"/><rect x="486.1" y="1654.3" width="15.0" height="15.0" fill="#a87adc"/><rect x="494.9" y="1658.0" width="15.0" height="15.0" fill="#a87adc"/><rect x="503.6" y="1662.3" width="15.0" height="15.0" fill="#a87adc"/><rect x="512.4" y="1667.2" width="15.0" height="15.0" fill="#a87adc"/><rect x="521.1" y="1670.6" width="15.0" height="15.0" fill="#a87adc"/><rect x="529.9" y="1674.1" width="15.0" height="15.0" fill="#a87adc"/><rect x="538.7" y="1677.9" width="15.0" height="15.0" fill="#a87adc"/><rect x="547.4" y="1682.6" width="15.0" height="15.0" fill="#a87adc"/><rect x="556.2" y="1687.8" width="15.0" height="15.0" fill="#a87adc"/><rect x="564.9" y="1693.8" width="15.0" height="15.0" fill="#a87adc"/><rect x="573.7" y="1701.0" width="15.0" height="15.0" fill="#a87adc"/><rect x="582.4" y="1708.9" width="15.0" height="15.0" fill="#a87adc"/><rect x="591.2" y="1719.2" width="15.0" height="15.0" fill="#a87adc"/><rect x="599.9" y="1734.2" width="15.0" height="15.0" fill="#a87adc"/><rect x="608.7" y="1750.0" width="15.0" height="15.0" fill="#a87adc"/><rect x="617.4" y="1769.9" width="15.0" height="15.0" fill="#a87adc"/><rect x="626.2" y="1801.6" width="15.0" height="15.0" fill="#a87adc"/><rect x="635.0" y="1851.9" width="15.0" height="15.0" fill="#a87adc"/><rect x="643.7" y="1976.8" width="15.0" height="15.0" fill="#a87adc"/><rect x="652.5" y="1960.4" width="15.0" height="15.0" fill="#a87adc"/><rect x="661.2" y="1839.2" width="15.0" height="15.0" fill="#a87adc"/><rect x="670.0" y="1782.5" width="15.0" height="15.0" fill="#a87adc"/><rect x="678.7" y="1734.4" width="15.0" height="15.0" fill="#a87adc"/><rect x="687.5" y="1693.8" width="15.0" height="15.0" fill="#a87adc"/><rect x="696.2" y="1663.7" width="15.0" height="15.0" fill="#a87adc"/><rect x="705.0" y="1641.1" width="15.0" height="15.0" fill="#a87adc"/><rect x="713.8" y="1624.6" width="15.0" height="15.0" fill="#a87adc"/><rect x="722.5" y="1613.2" width="15.0" height="15.0" fill="#a87adc"/><rect x="731.3" y="1605.6" width="15.0" height="15.0" fill="#a87adc"/><rect x="740.0" y="1603.1" width="15.0" height="15.0" fill="#a87adc"/><rect x="748.8" y="1607.9" width="15.0" height="15.0" fill="#a87adc"/><rect x="757.5" y="1617.0" width="15.0" height="15.0" fill="#a87adc"/><rect x="766.3" y="1630.1" width="15.0" height="15.0" fill="#a87adc"/><rect x="775.0" y="1649.9" width="15.0" height="15.0" fill="#a87adc"/><rect x="783.8" y="1668.7" width="15.0" height="15.0" fill="#a87adc"/><rect x="792.6" y="1689.1" width="15.0" height="15.0" fill="#a87adc"/><rect x="801.3" y="1714.7" width="15.0" height="15.0" fill="#a87adc"/><rect x="810.1" y="1744.3" width="15.0" height="15.0" fill="#a87adc"/><rect x="818.8" y="1778.5" width="15.0" height="15.0" fill="#a87adc"/><rect x="827.6" y="1860.8" width="15.0" height="15.0" fill="#a87adc"/><rect x="836.3" y="2076.7" width="15.0" height="15.0" fill="#a87adc"/><rect x="845.1" y="1886.6" width="15.0" height="15.0" fill="#a87adc"/><rect x="853.8" y="1813.7" width="15.0" height="15.0" fill="#a87adc"/><rect x="862.6" y="1768.9" width="15.0" height="15.0" fill="#a87adc"/><rect x="871.3" y="1729.5" width="15.0" height="15.0" fill="#a87adc"/><rect x="880.1" y="1694.8" width="15.0" height="15.0" fill="#a87adc"/><rect x="888.9" y="1673.1" width="15.0" height="15.0" fill="#a87adc"/><rect x="897.6" y="1656.8" width="15.0" height="15.0" fill="#a87adc"/><rect x="906.4" y="1642.4" width="15.0" height="15.0" fill="#a87adc"/><rect x="915.1" y="1630.6" width="15.0" height="15.0" fill="#a87adc"/><rect x="923.9" y="1622.8" width="15.0" height="15.0" fill="#a87adc"/><rect x="932.6" y="1618.8" width="15.0" height="15.0" fill="#a87adc"/><rect x="941.4" y="1618.8" width="15.0" height="15.0" fill="#a87adc"/></g>
<rect x="108.4" y="1593.2" width="837.1" height="675.4" fill="none" stroke="#000" stroke-width="2.6"/>
<path d="M108.4,2268.6v-12M206.9,2268.6v-12M305.4,2268.6v-12M403.8,2268.6v-12M502.3,2268.6v-12M600.8,2268.6v-12M699.3,2268.6v-12M797.8,2268.6v-12M896.3,2268.6v-12M157.6,2268.6v-6M256.1,2268.6v-6M354.6,2268.6v-6M453.1,2268.6v-6M551.6,2268.6v-6M650.1,2268.6v-6M748.5,2268.6v-6M847.0,2268.6v-6M945.5,2268.6v-6M108.4,1606.4h12M108.4,1738.9h12M108.4,1871.3h12M108.4,2003.7h12M108.4,2136.2h12M108.4,2268.6h12M108.4,1672.7h6M108.4,1805.1h6M108.4,1937.5h6M108.4,2070.0h6M108.4,2202.4h6" stroke="#000" stroke-width="2.6" fill="none"/>
<text x="100.03" y="2305.70" font-size="31.58" font-weight="bold" fill="#000">1</text>
<text x="198.99" y="2305.70" font-size="31.58" font-weight="bold" fill="#000">2</text>
<text x="297.47" y="2305.70" font-size="31.58" font-weight="bold" fill="#000">3</text>
<text x="396.03" y="2305.70" font-size="31.58" font-weight="bold" fill="#000">4</text>
<text x="494.36" y="2305.70" font-size="31.58" font-weight="bold" fill="#000">5</text>
<text x="592.84" y="2305.70" font-size="31.58" font-weight="bold" fill="#000">6</text>
<text x="690.93" y="2305.70" font-size="31.58" font-weight="bold" fill="#000">7</text>
<text x="789.88" y="2305.70" font-size="31.58" font-weight="bold" fill="#000">8</text>
<text x="888.52" y="2305.70" font-size="31.58" font-weight="bold" fill="#000">9</text>
<text x="78.40" y="1613.74" font-size="31.73" font-weight="bold" fill="#000">0</text>
<text x="51.91" y="1746.17" font-size="31.73" font-weight="bold" fill="#000">-10</text>
<text x="51.91" y="1878.61" font-size="31.73" font-weight="bold" fill="#000">-20</text>
<text x="51.91" y="2011.04" font-size="31.73" font-weight="bold" fill="#000">-30</text>
<text x="51.91" y="2143.47" font-size="31.73" font-weight="bold" fill="#000">-40</text>
<text x="51.91" y="2275.90" font-size="31.73" font-weight="bold" fill="#000">-50</text>
<text x="389.75" y="2349.60" font-size="35.73" font-weight="bold" fill="#000" textLength="274.91" lengthAdjust="spacingAndGlyphs">Frequency (GHz)</text>
<text transform="translate(33.90,2173.07) rotate(-90)" font-size="37.56" font-weight="bold" textLength="483.64" lengthAdjust="spacingAndGlyphs">Transmission Coefficient (dB)</text>
<text x="140.74" y="2211.18" font-size="40.55" font-weight="bold" fill="#000" textLength="50.71" lengthAdjust="spacingAndGlyphs">(e)</text>
<rect x="268.3" y="1846.2" width="277.9" height="286.9" fill="#fff" stroke="#333" stroke-width="1.3"/>
<path d="M273.9,1877.0H324.6M324.6,1877.0H375.2" stroke="#555555" stroke-width="4.3" stroke-linecap="round" stroke-dasharray="23,19" fill="none"/>
<rect x="317.1" y="1869.5" width="15.0" height="15.0" fill="#555555"/>
<text x="394.14" y="1891.80" font-size="39.28" font-weight="normal" fill="#000" textLength="23.16" lengthAdjust="spacingAndGlyphs">h</text>
<text x="424.72" y="1891.80" font-size="39.40" font-weight="normal" fill="#000" textLength="115.10" lengthAdjust="spacingAndGlyphs">= 0.154</text>
<path d="M273.9,1933.5H324.6M324.6,1933.5H375.2" stroke="#0000f0" stroke-width="4.3" stroke-linecap="round" stroke-dasharray="20,9,0.1,9" fill="none"/>
<rect x="317.1" y="1926.0" width="15.0" height="15.0" fill="#0000f0"/>
<text x="394.14" y="1948.25" font-size="39.28" font-weight="normal" fill="#000" textLength="23.16" lengthAdjust="spacingAndGlyphs">h</text>
<text x="424.72" y="1948.25" font-size="39.40" font-weight="normal" fill="#000" textLength="115.10" lengthAdjust="spacingAndGlyphs">= 0.204</text>
<path d="M273.9,1989.9H375.2" stroke="#c80000" stroke-width="4.3" stroke-linecap="round" fill="none"/>
<rect x="317.1" y="1982.4" width="15.0" height="15.0" fill="#c80000"/>
<text x="394.14" y="2004.70" font-size="39.28" font-weight="normal" fill="#000" textLength="23.16" lengthAdjust="spacingAndGlyphs">h</text>
<text x="424.72" y="2004.70" font-size="39.40" font-weight="normal" fill="#000" textLength="115.10" lengthAdjust="spacingAndGlyphs">= 0.254</text>
<path d="M273.9,2046.3H324.6M324.6,2046.3H375.2" stroke="#36a66b" stroke-width="4.3" stroke-linecap="round" stroke-dasharray="7,11" fill="none"/>
<rect x="317.1" y="2038.8" width="15.0" height="15.0" fill="#36a66b"/>
<text x="394.14" y="2061.15" font-size="39.28" font-weight="normal" fill="#000" textLength="23.16" lengthAdjust="spacingAndGlyphs">h</text>
<text x="424.72" y="2061.15" font-size="39.40" font-weight="normal" fill="#000" textLength="115.10" lengthAdjust="spacingAndGlyphs">= 0.304</text>
<path d="M273.9,2102.8H324.6M324.6,2102.8H375.2" stroke="#a87adc" stroke-width="4.3" stroke-linecap="round" stroke-dasharray="14,8,0.1,8,0.1,8" fill="none"/>
<rect x="317.1" y="2095.3" width="15.0" height="15.0" fill="#a87adc"/>
<text x="394.14" y="2117.60" font-size="39.28" font-weight="normal" fill="#000" textLength="23.16" lengthAdjust="spacingAndGlyphs">h</text>
<text x="424.72" y="2117.60" font-size="39.40" font-weight="normal" fill="#000" textLength="115.10" lengthAdjust="spacingAndGlyphs">= 0.354</text>
<clipPath id="c6"><rect x="1060.6" y="1598.0" width="830.0" height="668.7"/></clipPath>
<path d="M1050.2,1602.5L1067.7,1603.6L1156.7,1607.7L1180.7,1609.3L1201.5,1611.4L1246.5,1617.3L1277.8,1622.3L1312.3,1628.9L1340.4,1635.4L1361.8,1641.7L1379.7,1648.0L1399.5,1656.6L1417.5,1665.8L1435.1,1677.1L1450.3,1688.4L1465.6,1702.2L1476.8,1714.3L1485.0,1725.6L1493.4,1740.3L1505.7,1766.2L1514.2,1786.3L1520.9,1805.4L1526.9,1826.5L1529.1,1837.7L1532.5,1858.6L1536.4,1887.2L1539.8,1919.7L1542.6,1955.0L1544.9,1992.2L1548.0,2070.1L1551.4,2213.1L1554.1,2068.1L1556.6,1986.4L1558.5,1948.3L1560.8,1913.0L1563.5,1880.7L1566.6,1851.6L1569.8,1827.0L1573.7,1803.5L1585.0,1745.3L1593.0,1709.6L1599.1,1687.5L1607.8,1660.6L1614.6,1643.2L1621.0,1630.8L1629.3,1617.8L1634.2,1610.9L1638.9,1606.0L1643.0,1603.7L1645.0,1603.4L1648.3,1603.6L1654.8,1605.5L1662.3,1609.4L1670.8,1615.3L1675.8,1620.9L1681.0,1629.0L1687.1,1640.6L1694.2,1655.9L1698.0,1665.9L1702.0,1678.1L1711.1,1711.1L1715.3,1728.9L1719.7,1749.7L1729.1,1801.2L1735.5,1841.7L1740.4,1885.8L1744.0,1930.7L1746.8,1982.3L1749.1,2044.0L1751.5,2137.3L1752.2,2149.3L1752.9,2136.7L1756.7,2003.4L1758.7,1960.3L1761.1,1921.7L1768.1,1854.0L1775.2,1800.0L1778.6,1779.4L1782.0,1761.9L1786.1,1744.5L1790.6,1728.0L1795.5,1713.2L1800.3,1701.0L1805.2,1690.8L1811.6,1680.2L1818.4,1670.8L1826.2,1661.8L1837.9,1650.3L1846.5,1643.2L1852.5,1639.6L1864.5,1634.4L1871.5,1632.3L1877.4,1631.7L1878.7,1632.3L1880.1,1633.8L1885.1,1641.4L1887.2,1643.9L1895.2,1648.6L1898.1,1649.6L1901.0,1650.0" fill="none" stroke="#c80000" stroke-width="4.6" stroke-linecap="round" stroke-linejoin="round" clip-path="url(#c6)"/>
<g clip-path="url(#c6)"><rect x="1056.2" y="1596.1" width="14.5" height="14.5" fill="#c80000"/><rect x="1079.3" y="1597.1" width="14.5" height="14.5" fill="#c80000"/><rect x="1102.5" y="1598.1" width="14.5" height="14.5" fill="#c80000"/><rect x="1125.7" y="1599.2" width="14.5" height="14.5" fill="#c80000"/><rect x="1148.9" y="1600.4" width="14.5" height="14.5" fill="#c80000"/><rect x="1172.1" y="1602.0" width="14.5" height="14.5" fill="#c80000"/><rect x="1195.3" y="1604.3" width="14.5" height="14.5" fill="#c80000"/><rect x="1218.5" y="1607.2" width="14.5" height="14.5" fill="#c80000"/><rect x="1241.7" y="1610.5" width="14.5" height="14.5" fill="#c80000"/><rect x="1264.9" y="1614.1" width="14.5" height="14.5" fill="#c80000"/><rect x="1288.1" y="1618.2" width="14.5" height="14.5" fill="#c80000"/><rect x="1311.3" y="1623.0" width="14.5" height="14.5" fill="#c80000"/><rect x="1334.5" y="1628.6" width="14.5" height="14.5" fill="#c80000"/><rect x="1357.7" y="1635.4" width="14.5" height="14.5" fill="#c80000"/><rect x="1380.9" y="1644.3" width="14.5" height="14.5" fill="#c80000"/><rect x="1404.1" y="1655.2" width="14.5" height="14.5" fill="#c80000"/><rect x="1427.3" y="1669.5" width="14.5" height="14.5" fill="#c80000"/><rect x="1450.5" y="1687.6" width="14.5" height="14.5" fill="#c80000"/><rect x="1473.7" y="1712.4" width="14.5" height="14.5" fill="#c80000"/><rect x="1496.9" y="1755.5" width="14.5" height="14.5" fill="#c80000"/><rect x="1520.1" y="1821.3" width="14.5" height="14.5" fill="#c80000"/><rect x="1543.3" y="2178.7" width="14.5" height="14.5" fill="#c80000"/><rect x="1566.5" y="1795.7" width="14.5" height="14.5" fill="#c80000"/><rect x="1589.7" y="1687.2" width="14.5" height="14.5" fill="#c80000"/><rect x="1612.9" y="1625.0" width="14.5" height="14.5" fill="#c80000"/><rect x="1636.1" y="1596.3" width="14.5" height="14.5" fill="#c80000"/><rect x="1659.3" y="1604.9" width="14.5" height="14.5" fill="#c80000"/><rect x="1682.5" y="1638.8" width="14.5" height="14.5" fill="#c80000"/><rect x="1705.7" y="1711.4" width="14.5" height="14.5" fill="#c80000"/><rect x="1728.9" y="1839.6" width="14.5" height="14.5" fill="#c80000"/><rect x="1752.1" y="1941.9" width="14.5" height="14.5" fill="#c80000"/><rect x="1775.3" y="1752.1" width="14.5" height="14.5" fill="#c80000"/><rect x="1798.5" y="1682.7" width="14.5" height="14.5" fill="#c80000"/><rect x="1821.7" y="1651.7" width="14.5" height="14.5" fill="#c80000"/><rect x="1844.9" y="1632.5" width="14.5" height="14.5" fill="#c80000"/><rect x="1868.1" y="1624.6" width="14.5" height="14.5" fill="#c80000"/><rect x="1891.3" y="1642.5" width="14.5" height="14.5" fill="#c80000"/></g>
<path d="M1050.2,1606.2L1121.6,1612.3L1150.5,1615.5L1176.0,1619.0L1199.6,1622.9L1222.7,1627.6L1246.9,1633.4L1264.2,1638.4L1281.5,1645.0L1314.4,1659.2L1330.2,1666.8L1343.5,1674.4L1358.8,1685.3L1380.1,1702.9L1391.1,1713.6L1400.4,1724.7L1408.7,1737.3L1417.1,1752.5L1425.5,1770.3L1431.3,1785.5L1437.5,1805.6L1444.0,1830.8L1448.7,1853.0L1452.8,1877.3L1455.4,1899.4L1457.9,1927.3L1461.9,1987.7L1464.5,2048.1L1467.4,2158.2L1468.3,2172.9L1472.0,2031.6L1473.7,1987.3L1475.7,1949.0L1480.1,1890.7L1485.6,1839.2L1490.3,1801.6L1494.4,1775.3L1499.8,1748.4L1509.6,1708.4L1517.2,1680.2L1524.2,1658.3L1531.8,1637.7L1535.2,1630.0L1541.2,1618.2L1546.3,1609.7L1549.3,1606.8L1554.5,1605.0L1561.8,1603.5L1565.0,1603.4L1566.7,1603.7L1569.6,1605.5L1572.8,1608.8L1580.9,1618.3L1586.0,1625.5L1591.8,1635.3L1596.4,1644.1L1601.3,1655.7L1607.7,1672.1L1617.5,1701.1L1626.1,1733.1L1632.4,1761.7L1638.2,1794.0L1643.4,1829.2L1648.3,1868.2L1651.2,1903.5L1653.8,1943.4L1656.1,1990.9L1658.9,2066.0L1660.0,2080.9L1660.9,2071.1L1664.3,1972.0L1667.3,1911.7L1671.2,1858.4L1676.3,1812.1L1681.4,1779.7L1686.8,1749.7L1692.6,1721.6L1698.7,1696.0L1704.6,1674.9L1712.4,1650.3L1716.6,1639.2L1725.8,1618.7L1729.8,1612.5L1731.5,1611.1L1733.2,1610.8L1734.6,1611.5L1736.2,1613.3L1739.6,1620.4L1743.0,1630.6L1747.2,1645.9L1754.6,1692.0L1755.6,1696.8L1756.6,1699.0L1757.0,1698.9L1757.6,1697.4L1758.6,1692.1L1764.4,1644.2L1765.5,1637.6L1766.0,1636.7L1766.4,1636.7L1767.8,1638.5L1769.7,1643.6L1770.9,1648.6L1772.6,1661.5L1775.5,1689.4L1781.7,1762.9L1784.0,1795.9L1787.0,1860.2L1790.1,1970.7L1790.9,1985.8L1791.5,1982.4L1792.2,1970.9L1795.2,1899.8L1797.4,1856.0L1799.9,1820.5L1802.7,1788.4L1806.7,1760.6L1811.2,1735.3L1819.3,1699.1L1825.1,1676.3L1829.2,1664.8L1832.3,1659.0L1835.7,1653.9L1840.1,1648.4L1852.2,1635.1L1862.8,1624.7L1870.2,1619.5L1878.7,1616.2L1888.6,1614.0L1901.0,1612.9" fill="none" stroke="#9b10c8" stroke-width="4.6" stroke-linecap="round" stroke-linejoin="round" stroke-dasharray="24,16" clip-path="url(#c6)"/>
<g clip-path="url(#c6)"><circle cx="1060.8" cy="1606.9" r="8.3" fill="#9b10c8"/><circle cx="1074.8" cy="1608.1" r="8.3" fill="#9b10c8"/><circle cx="1088.8" cy="1609.2" r="8.3" fill="#9b10c8"/><circle cx="1102.9" cy="1610.5" r="8.3" fill="#9b10c8"/><circle cx="1116.9" cy="1611.8" r="8.3" fill="#9b10c8"/><circle cx="1130.9" cy="1613.3" r="8.3" fill="#9b10c8"/><circle cx="1144.9" cy="1614.9" r="8.3" fill="#9b10c8"/><circle cx="1158.9" cy="1616.6" r="8.3" fill="#9b10c8"/><circle cx="1172.9" cy="1618.5" r="8.3" fill="#9b10c8"/><circle cx="1187.0" cy="1620.7" r="8.3" fill="#9b10c8"/><circle cx="1201.0" cy="1623.2" r="8.3" fill="#9b10c8"/><circle cx="1215.0" cy="1625.9" r="8.3" fill="#9b10c8"/><circle cx="1229.0" cy="1629.0" r="8.3" fill="#9b10c8"/><circle cx="1243.0" cy="1632.4" r="8.3" fill="#9b10c8"/><circle cx="1257.0" cy="1636.1" r="8.3" fill="#9b10c8"/><circle cx="1271.1" cy="1640.8" r="8.3" fill="#9b10c8"/><circle cx="1285.1" cy="1646.5" r="8.3" fill="#9b10c8"/><circle cx="1299.1" cy="1652.5" r="8.3" fill="#9b10c8"/><circle cx="1313.1" cy="1658.6" r="8.3" fill="#9b10c8"/><circle cx="1327.1" cy="1665.3" r="8.3" fill="#9b10c8"/><circle cx="1341.1" cy="1673.0" r="8.3" fill="#9b10c8"/><circle cx="1355.2" cy="1682.6" r="8.3" fill="#9b10c8"/><circle cx="1369.2" cy="1693.7" r="8.3" fill="#9b10c8"/><circle cx="1383.2" cy="1705.7" r="8.3" fill="#9b10c8"/><circle cx="1397.2" cy="1720.6" r="8.3" fill="#9b10c8"/><circle cx="1411.2" cy="1741.6" r="8.3" fill="#9b10c8"/><circle cx="1425.2" cy="1769.7" r="8.3" fill="#9b10c8"/><circle cx="1439.3" cy="1811.9" r="8.3" fill="#9b10c8"/><circle cx="1453.3" cy="1880.2" r="8.3" fill="#9b10c8"/><circle cx="1467.3" cy="2152.6" r="8.3" fill="#9b10c8"/><circle cx="1481.3" cy="1878.7" r="8.3" fill="#9b10c8"/><circle cx="1495.3" cy="1770.2" r="8.3" fill="#9b10c8"/><circle cx="1509.3" cy="1709.3" r="8.3" fill="#9b10c8"/><circle cx="1523.4" cy="1660.7" r="8.3" fill="#9b10c8"/><circle cx="1537.4" cy="1625.8" r="8.3" fill="#9b10c8"/><circle cx="1551.4" cy="1606.0" r="8.3" fill="#9b10c8"/><circle cx="1565.4" cy="1603.4" r="8.3" fill="#9b10c8"/><circle cx="1579.4" cy="1616.5" r="8.3" fill="#9b10c8"/><circle cx="1593.4" cy="1638.3" r="8.3" fill="#9b10c8"/><circle cx="1607.5" cy="1671.5" r="8.3" fill="#9b10c8"/><circle cx="1621.5" cy="1715.0" r="8.3" fill="#9b10c8"/><circle cx="1635.5" cy="1778.3" r="8.3" fill="#9b10c8"/><circle cx="1649.5" cy="1881.9" r="8.3" fill="#9b10c8"/><circle cx="1663.5" cy="1992.1" r="8.3" fill="#9b10c8"/><circle cx="1677.5" cy="1804.1" r="8.3" fill="#9b10c8"/><circle cx="1691.6" cy="1726.6" r="8.3" fill="#9b10c8"/><circle cx="1705.6" cy="1671.5" r="8.3" fill="#9b10c8"/><circle cx="1719.6" cy="1632.6" r="8.3" fill="#9b10c8"/><circle cx="1733.6" cy="1610.9" r="8.3" fill="#9b10c8"/><circle cx="1747.6" cy="1647.7" r="8.3" fill="#9b10c8"/><circle cx="1761.6" cy="1667.1" r="8.3" fill="#9b10c8"/><circle cx="1775.7" cy="1691.5" r="8.3" fill="#9b10c8"/><circle cx="1789.7" cy="1956.0" r="8.3" fill="#9b10c8"/><circle cx="1803.7" cy="1780.9" r="8.3" fill="#9b10c8"/><circle cx="1817.7" cy="1705.9" r="8.3" fill="#9b10c8"/><circle cx="1831.7" cy="1660.0" r="8.3" fill="#9b10c8"/><circle cx="1845.7" cy="1642.2" r="8.3" fill="#9b10c8"/><circle cx="1859.8" cy="1627.4" r="8.3" fill="#9b10c8"/><circle cx="1873.8" cy="1617.9" r="8.3" fill="#9b10c8"/><circle cx="1887.8" cy="1614.1" r="8.3" fill="#9b10c8"/><circle cx="1901.8" cy="1612.9" r="8.3" fill="#9b10c8"/></g>
<path d="M1050.2,1609.1L1061.0,1609.9L1068.7,1611.5L1085.3,1613.7L1131.5,1618.7L1168.5,1623.9L1207.4,1630.8L1228.8,1635.3L1245.8,1639.5L1259.8,1643.4L1272.7,1647.6L1285.9,1652.6L1294.7,1656.6L1303.5,1661.7L1312.3,1667.7L1321.9,1675.4L1329.0,1682.1L1336.0,1690.5L1344.3,1702.4L1363.4,1731.3L1373.8,1749.0L1381.2,1763.2L1387.3,1776.8L1392.9,1791.2L1397.8,1806.6L1402.4,1823.2L1406.6,1841.4L1409.7,1856.6L1412.6,1874.6L1415.8,1898.5L1418.8,1924.3L1426.7,2007.3L1428.2,2017.0L1428.7,2019.1L1429.4,2020.0L1430.4,2016.9L1431.4,2008.6L1437.5,1927.6L1441.8,1888.8L1445.7,1858.8L1458.8,1768.6L1463.9,1738.3L1468.3,1719.7L1473.1,1702.7L1479.8,1683.0L1485.9,1667.3L1492.7,1652.4L1503.6,1631.1L1508.1,1624.4L1514.2,1618.5L1517.6,1615.8L1520.6,1614.2L1523.3,1613.8L1526.0,1614.3L1529.6,1616.4L1534.1,1620.3L1538.2,1624.4L1541.6,1629.0L1553.0,1649.2L1562.2,1669.0L1570.7,1690.9L1580.0,1719.3L1585.2,1736.2L1589.1,1751.3L1593.0,1768.4L1595.6,1783.3L1599.6,1810.5L1604.4,1848.8L1612.9,1927.0L1614.5,1936.5L1615.2,1938.9L1615.9,1939.8L1616.8,1938.9L1617.6,1936.1L1619.8,1922.4L1634.2,1792.0L1638.9,1761.1L1643.7,1734.0L1650.0,1706.0L1657.1,1681.1L1668.8,1650.1L1671.8,1643.7L1674.5,1639.6L1676.9,1637.7L1679.0,1637.9L1681.4,1640.2L1684.3,1644.8L1689.8,1656.0L1697.0,1680.3L1698.7,1684.8L1700.2,1687.2L1701.4,1688.2L1702.7,1687.8L1707.4,1682.1L1709.2,1681.2L1710.2,1681.9L1711.2,1683.5L1713.6,1690.0L1720.3,1716.6L1725.1,1744.9L1729.8,1783.9L1734.1,1837.6L1735.1,1844.5L1735.9,1846.2L1737.2,1845.0L1738.6,1841.6L1741.9,1827.1L1747.0,1796.6L1754.6,1744.8L1758.2,1725.6L1763.1,1704.9L1767.4,1690.0L1771.2,1679.7L1775.2,1672.7L1779.6,1667.2L1788.7,1658.4L1792.6,1653.8L1796.5,1648.2L1805.5,1633.4L1809.9,1627.5L1818.2,1620.4L1827.4,1614.4L1833.3,1611.6L1842.7,1608.2L1849.2,1606.3L1854.7,1605.2L1859.0,1604.8L1901.0,1604.7" fill="none" stroke="#1f6fdc" stroke-width="4.6" stroke-linecap="round" stroke-linejoin="round" clip-path="url(#c6)"/>
<g clip-path="url(#c6)"><path d="M1066.4,1601.1L1076.6,1618.6L1056.2,1618.6Z" fill="#1f6fdc"/><path d="M1079.8,1603.1L1090.0,1620.6L1069.7,1620.6Z" fill="#1f6fdc"/><path d="M1093.3,1604.6L1103.5,1622.1L1083.1,1622.1Z" fill="#1f6fdc"/><path d="M1106.7,1606.0L1116.9,1623.5L1096.5,1623.5Z" fill="#1f6fdc"/><path d="M1120.2,1607.4L1130.3,1624.8L1110.0,1624.8Z" fill="#1f6fdc"/><path d="M1133.6,1608.9L1143.8,1626.4L1123.4,1626.4Z" fill="#1f6fdc"/><path d="M1147.0,1610.8L1157.2,1628.3L1136.8,1628.3Z" fill="#1f6fdc"/><path d="M1160.5,1612.7L1170.6,1630.2L1150.3,1630.2Z" fill="#1f6fdc"/><path d="M1173.9,1614.8L1184.1,1632.3L1163.7,1632.3Z" fill="#1f6fdc"/><path d="M1187.3,1617.0L1197.5,1634.5L1177.2,1634.5Z" fill="#1f6fdc"/><path d="M1200.8,1619.5L1210.9,1637.0L1190.6,1637.0Z" fill="#1f6fdc"/><path d="M1214.2,1622.2L1224.4,1639.7L1204.0,1639.7Z" fill="#1f6fdc"/><path d="M1227.6,1625.1L1237.8,1642.6L1217.5,1642.6Z" fill="#1f6fdc"/><path d="M1241.1,1628.3L1251.2,1645.8L1230.9,1645.8Z" fill="#1f6fdc"/><path d="M1254.5,1631.9L1264.7,1649.4L1244.3,1649.4Z" fill="#1f6fdc"/><path d="M1267.9,1636.0L1278.1,1653.5L1257.8,1653.5Z" fill="#1f6fdc"/><path d="M1281.4,1640.8L1291.6,1658.3L1271.2,1658.3Z" fill="#1f6fdc"/><path d="M1294.8,1646.7L1305.0,1664.2L1284.6,1664.2Z" fill="#1f6fdc"/><path d="M1308.3,1654.8L1318.4,1672.3L1298.1,1672.3Z" fill="#1f6fdc"/><path d="M1321.7,1665.2L1331.9,1682.7L1311.5,1682.7Z" fill="#1f6fdc"/><path d="M1335.1,1679.4L1345.3,1696.9L1324.9,1696.9Z" fill="#1f6fdc"/><path d="M1348.6,1698.8L1358.7,1716.3L1338.4,1716.3Z" fill="#1f6fdc"/><path d="M1362.0,1719.2L1372.2,1736.7L1351.8,1736.7Z" fill="#1f6fdc"/><path d="M1375.4,1741.9L1385.6,1759.4L1365.3,1759.4Z" fill="#1f6fdc"/><path d="M1388.9,1770.6L1399.0,1788.1L1378.7,1788.1Z" fill="#1f6fdc"/><path d="M1402.3,1813.0L1412.5,1830.5L1392.1,1830.5Z" fill="#1f6fdc"/><path d="M1415.7,1887.8L1425.9,1905.3L1405.6,1905.3Z" fill="#1f6fdc"/><path d="M1429.2,2009.9L1439.3,2027.4L1419.0,2027.4Z" fill="#1f6fdc"/><path d="M1442.6,1872.2L1452.8,1889.7L1432.4,1889.7Z" fill="#1f6fdc"/><path d="M1456.0,1778.0L1466.2,1795.5L1445.9,1795.5Z" fill="#1f6fdc"/><path d="M1469.5,1705.2L1479.7,1722.7L1459.3,1722.7Z" fill="#1f6fdc"/><path d="M1482.9,1664.7L1493.1,1682.2L1472.7,1682.2Z" fill="#1f6fdc"/><path d="M1496.3,1635.1L1506.5,1652.5L1486.2,1652.5Z" fill="#1f6fdc"/><path d="M1509.8,1612.6L1520.0,1630.1L1499.6,1630.1Z" fill="#1f6fdc"/><path d="M1523.2,1603.8L1533.4,1621.2L1513.0,1621.2Z" fill="#1f6fdc"/><path d="M1536.7,1612.7L1546.8,1630.2L1526.5,1630.2Z" fill="#1f6fdc"/><path d="M1550.1,1633.8L1560.3,1651.3L1539.9,1651.3Z" fill="#1f6fdc"/><path d="M1563.5,1662.2L1573.7,1679.7L1553.4,1679.7Z" fill="#1f6fdc"/><path d="M1577.0,1699.7L1587.1,1717.1L1566.8,1717.1Z" fill="#1f6fdc"/><path d="M1590.4,1746.7L1600.6,1764.2L1580.2,1764.2Z" fill="#1f6fdc"/><path d="M1603.8,1833.8L1614.0,1851.3L1593.7,1851.3Z" fill="#1f6fdc"/><path d="M1617.3,1927.5L1627.4,1945.0L1607.1,1945.0Z" fill="#1f6fdc"/><path d="M1630.7,1812.0L1640.9,1829.5L1620.5,1829.5Z" fill="#1f6fdc"/><path d="M1644.1,1721.9L1654.3,1739.4L1634.0,1739.4Z" fill="#1f6fdc"/><path d="M1657.6,1669.5L1667.8,1687.0L1647.4,1687.0Z" fill="#1f6fdc"/><path d="M1671.0,1635.2L1681.2,1652.7L1660.8,1652.7Z" fill="#1f6fdc"/><path d="M1684.4,1635.1L1694.6,1652.6L1674.3,1652.6Z" fill="#1f6fdc"/><path d="M1697.9,1672.7L1708.1,1690.2L1687.7,1690.2Z" fill="#1f6fdc"/><path d="M1711.3,1673.7L1721.5,1691.1L1701.1,1691.1Z" fill="#1f6fdc"/><path d="M1724.8,1732.4L1734.9,1749.9L1714.6,1749.9Z" fill="#1f6fdc"/><path d="M1738.2,1832.8L1748.4,1850.3L1728.0,1850.3Z" fill="#1f6fdc"/><path d="M1751.6,1754.8L1761.8,1772.3L1741.5,1772.3Z" fill="#1f6fdc"/><path d="M1765.1,1687.7L1775.2,1705.2L1754.9,1705.2Z" fill="#1f6fdc"/><path d="M1778.5,1658.4L1788.7,1675.9L1768.3,1675.9Z" fill="#1f6fdc"/><path d="M1791.9,1644.7L1802.1,1662.2L1781.8,1662.2Z" fill="#1f6fdc"/><path d="M1805.4,1623.6L1815.5,1641.1L1795.2,1641.1Z" fill="#1f6fdc"/><path d="M1818.8,1609.9L1829.0,1627.4L1808.6,1627.4Z" fill="#1f6fdc"/><path d="M1832.2,1602.1L1842.4,1619.6L1822.1,1619.6Z" fill="#1f6fdc"/><path d="M1845.7,1597.3L1855.9,1614.7L1835.5,1614.7Z" fill="#1f6fdc"/><path d="M1859.1,1594.8L1869.3,1612.3L1848.9,1612.3Z" fill="#1f6fdc"/><path d="M1872.5,1594.8L1882.7,1612.3L1862.4,1612.3Z" fill="#1f6fdc"/><path d="M1886.0,1594.8L1896.2,1612.3L1875.8,1612.3Z" fill="#1f6fdc"/><path d="M1899.4,1594.7L1909.6,1612.2L1889.2,1612.2Z" fill="#1f6fdc"/><path d="M1912.9,1594.6L1923.0,1612.1L1902.7,1612.1Z" fill="#1f6fdc"/></g>
<path d="M1050.2,1603.9L1137.4,1610.5L1171.5,1613.9L1208.5,1618.2L1249.2,1623.6L1277.8,1628.1L1302.7,1632.9L1326.5,1638.6L1349.0,1645.1L1369.5,1652.1L1385.8,1658.9L1400.7,1666.6L1412.6,1674.5L1425.6,1685.1L1438.7,1697.3L1450.1,1710.1L1461.8,1724.9L1478.4,1747.8L1484.7,1757.8L1490.1,1767.9L1495.4,1780.1L1500.3,1794.9L1505.3,1813.2L1509.8,1833.5L1514.1,1862.3L1517.6,1892.9L1520.6,1925.9L1523.2,1962.9L1525.2,2001.2L1526.7,2041.1L1529.8,2164.4L1530.6,2180.5L1531.1,2169.4L1533.8,2047.1L1536.2,1980.9L1540.1,1916.2L1542.5,1887.6L1545.3,1860.6L1552.4,1805.6L1557.9,1766.8L1562.6,1738.4L1568.6,1708.3L1574.8,1681.1L1580.9,1659.0L1590.8,1628.3L1594.4,1619.7L1597.6,1614.0L1602.5,1609.0L1608.0,1604.4L1612.5,1601.7L1616.6,1600.5L1619.6,1600.5L1622.4,1601.9L1625.6,1604.7L1629.4,1609.5L1643.0,1628.3L1649.4,1638.0L1657.6,1652.3L1664.7,1666.6L1671.5,1682.6L1677.8,1699.7L1683.4,1718.0L1688.8,1738.3L1696.3,1771.5L1703.0,1806.9L1709.1,1846.4L1714.1,1886.1L1717.5,1927.9L1720.3,1976.8L1722.4,2028.9L1725.1,2117.8L1726.0,2130.0L1726.8,2115.3L1730.1,2007.4L1732.8,1949.2L1738.2,1882.7L1744.1,1825.8L1747.4,1800.7L1750.8,1778.4L1754.5,1757.7L1758.6,1738.0L1764.1,1715.2L1772.5,1684.6L1778.7,1663.8L1784.1,1648.2L1794.8,1623.7L1797.6,1619.5L1798.9,1618.6L1800.0,1618.4L1801.4,1620.7L1803.0,1626.7L1807.8,1655.5L1810.9,1688.0L1813.3,1732.7L1815.0,1785.4L1817.2,1889.9L1817.7,1901.1L1818.7,1889.4L1822.1,1804.9L1825.0,1754.1L1827.1,1728.2L1832.8,1683.0L1835.7,1664.9L1838.7,1651.0L1843.8,1634.0L1847.9,1622.7L1851.5,1616.1L1853.0,1614.5L1854.6,1613.8L1855.6,1614.0L1856.7,1615.3L1859.1,1621.2L1864.5,1640.3L1867.6,1656.4L1870.5,1679.4L1872.9,1710.0L1874.7,1745.3L1876.3,1789.8L1879.1,1935.1L1879.6,1942.6L1880.3,1928.4L1883.7,1808.0L1885.4,1770.0L1887.4,1737.4L1890.9,1709.6L1894.5,1688.8L1896.2,1681.6L1897.9,1676.3L1899.4,1673.3L1901.0,1672.3" fill="none" stroke="#36a66b" stroke-width="4.6" stroke-linecap="round" stroke-linejoin="round" clip-path="url(#c6)"/>
<g clip-path="url(#c6)"><path d="M1066.5,1615.1L1076.7,1597.6L1056.3,1597.6Z" fill="#36a66b"/><path d="M1085.0,1616.4L1095.2,1598.9L1074.8,1598.9Z" fill="#36a66b"/><path d="M1103.4,1617.7L1113.6,1600.2L1093.3,1600.2Z" fill="#36a66b"/><path d="M1121.9,1619.1L1132.1,1601.6L1111.7,1601.6Z" fill="#36a66b"/><path d="M1140.4,1620.7L1150.6,1603.2L1130.2,1603.2Z" fill="#36a66b"/><path d="M1158.9,1622.5L1169.0,1605.0L1148.7,1605.0Z" fill="#36a66b"/><path d="M1177.3,1624.5L1187.5,1607.0L1167.1,1607.0Z" fill="#36a66b"/><path d="M1195.8,1626.7L1206.0,1609.2L1185.6,1609.2Z" fill="#36a66b"/><path d="M1214.3,1629.0L1224.4,1611.5L1204.1,1611.5Z" fill="#36a66b"/><path d="M1232.7,1631.4L1242.9,1613.9L1222.5,1613.9Z" fill="#36a66b"/><path d="M1251.2,1633.9L1261.4,1616.4L1241.0,1616.4Z" fill="#36a66b"/><path d="M1269.7,1636.7L1279.8,1619.2L1259.5,1619.2Z" fill="#36a66b"/><path d="M1288.1,1639.9L1298.3,1622.5L1277.9,1622.5Z" fill="#36a66b"/><path d="M1306.6,1643.7L1316.8,1626.3L1296.4,1626.3Z" fill="#36a66b"/><path d="M1325.1,1648.2L1335.2,1630.8L1314.9,1630.8Z" fill="#36a66b"/><path d="M1343.5,1653.4L1353.7,1636.0L1333.4,1636.0Z" fill="#36a66b"/><path d="M1362.0,1659.4L1372.2,1641.9L1351.8,1641.9Z" fill="#36a66b"/><path d="M1380.5,1666.5L1390.6,1649.1L1370.3,1649.1Z" fill="#36a66b"/><path d="M1398.9,1675.6L1409.1,1658.2L1388.8,1658.2Z" fill="#36a66b"/><path d="M1417.4,1688.2L1427.6,1670.7L1407.2,1670.7Z" fill="#36a66b"/><path d="M1435.9,1704.5L1446.0,1687.1L1425.7,1687.1Z" fill="#36a66b"/><path d="M1454.3,1725.2L1464.5,1707.8L1444.2,1707.8Z" fill="#36a66b"/><path d="M1472.8,1750.1L1483.0,1732.6L1462.6,1732.6Z" fill="#36a66b"/><path d="M1491.3,1780.3L1501.4,1762.8L1481.1,1762.8Z" fill="#36a66b"/><path d="M1509.7,1842.8L1519.9,1825.3L1499.6,1825.3Z" fill="#36a66b"/><path d="M1528.2,2102.2L1538.4,2084.7L1518.0,2084.7Z" fill="#36a66b"/><path d="M1546.7,1859.7L1556.8,1842.2L1536.5,1842.2Z" fill="#36a66b"/><path d="M1565.1,1735.1L1575.3,1717.6L1555.0,1717.6Z" fill="#36a66b"/><path d="M1583.6,1660.3L1593.8,1642.8L1573.4,1642.8Z" fill="#36a66b"/><path d="M1602.1,1619.3L1612.2,1601.9L1591.9,1601.9Z" fill="#36a66b"/><path d="M1620.5,1610.8L1630.7,1593.3L1610.4,1593.3Z" fill="#36a66b"/><path d="M1639.0,1632.8L1649.2,1615.3L1628.8,1615.3Z" fill="#36a66b"/><path d="M1657.5,1662.1L1667.6,1644.6L1647.3,1644.6Z" fill="#36a66b"/><path d="M1675.9,1704.4L1686.1,1687.0L1665.8,1687.0Z" fill="#36a66b"/><path d="M1694.4,1772.4L1704.6,1754.9L1684.2,1754.9Z" fill="#36a66b"/><path d="M1712.9,1885.2L1723.1,1867.7L1702.7,1867.7Z" fill="#36a66b"/><path d="M1731.3,1987.4L1741.5,1969.9L1721.2,1969.9Z" fill="#36a66b"/><path d="M1749.8,1794.4L1760.0,1777.0L1739.6,1777.0Z" fill="#36a66b"/><path d="M1768.3,1709.7L1778.5,1692.3L1758.1,1692.3Z" fill="#36a66b"/><path d="M1786.7,1651.7L1796.9,1634.2L1776.6,1634.2Z" fill="#36a66b"/><path d="M1805.2,1649.1L1815.4,1631.6L1795.0,1631.6Z" fill="#36a66b"/><path d="M1823.7,1784.6L1833.9,1767.1L1813.5,1767.1Z" fill="#36a66b"/><path d="M1842.1,1649.3L1852.3,1631.8L1832.0,1631.8Z" fill="#36a66b"/><path d="M1860.6,1636.1L1870.8,1618.6L1850.4,1618.6Z" fill="#36a66b"/><path d="M1879.1,1942.9L1889.3,1925.4L1868.9,1925.4Z" fill="#36a66b"/><path d="M1897.6,1687.0L1907.7,1669.6L1887.4,1669.6Z" fill="#36a66b"/><path d="M1916.0,1797.9L1926.2,1780.4L1905.8,1780.4Z" fill="#36a66b"/></g>
<rect x="1060.6" y="1598.0" width="830.0" height="668.7" fill="none" stroke="#000" stroke-width="2.6"/>
<path d="M1060.6,2266.7v-12M1164.3,2266.7v-12M1268.1,2266.7v-12M1371.8,2266.7v-12M1475.6,2266.7v-12M1579.3,2266.7v-12M1683.1,2266.7v-12M1786.8,2266.7v-12M1890.6,2266.7v-12M1112.5,2266.7v-6M1216.2,2266.7v-6M1320.0,2266.7v-6M1423.7,2266.7v-6M1527.5,2266.7v-6M1631.2,2266.7v-6M1735.0,2266.7v-6M1838.7,2266.7v-6M1060.6,1598.0h12M1060.6,1746.6h12M1060.6,1895.2h12M1060.6,2043.8h12M1060.6,2192.4h12M1060.6,1672.3h6M1060.6,1820.9h6M1060.6,1969.5h6M1060.6,2118.1h6" stroke="#000" stroke-width="2.6" fill="none"/>
<text x="1052.78" y="2305.20" font-size="31.28" font-weight="bold" fill="#000">2</text>
<text x="1156.53" y="2305.20" font-size="31.28" font-weight="bold" fill="#000">3</text>
<text x="1260.36" y="2305.20" font-size="31.28" font-weight="bold" fill="#000">4</text>
<text x="1363.95" y="2305.20" font-size="31.28" font-weight="bold" fill="#000">5</text>
<text x="1467.70" y="2305.20" font-size="31.28" font-weight="bold" fill="#000">6</text>
<text x="1571.06" y="2305.20" font-size="31.28" font-weight="bold" fill="#000">7</text>
<text x="1675.28" y="2305.20" font-size="31.28" font-weight="bold" fill="#000">8</text>
<text x="1779.19" y="2305.20" font-size="31.28" font-weight="bold" fill="#000">9</text>
<text x="1874.34" y="2305.20" font-size="31.28" font-weight="bold" fill="#000">10</text>
<text x="1030.90" y="1605.10" font-size="32.18" font-weight="bold" fill="#000">0</text>
<text x="1004.03" y="1753.70" font-size="32.18" font-weight="bold" fill="#000">-10</text>
<text x="1004.03" y="1902.30" font-size="32.18" font-weight="bold" fill="#000">-20</text>
<text x="1004.03" y="2050.90" font-size="32.18" font-weight="bold" fill="#000">-30</text>
<text x="1004.03" y="2199.50" font-size="32.18" font-weight="bold" fill="#000">-40</text>
<text x="1319.43" y="2348.00" font-size="36.03" font-weight="bold" fill="#000" textLength="284.99" lengthAdjust="spacingAndGlyphs">Frequency (GHz)</text>
<text transform="translate(986.20,2183.49) rotate(-90)" font-size="37.86" font-weight="bold" textLength="500.51" lengthAdjust="spacingAndGlyphs">Transmission Coefficient (dB)</text>
<text x="1107.13" y="2202.98" font-size="40.11" font-weight="bold" fill="#000" textLength="45.89" lengthAdjust="spacingAndGlyphs">(f)</text>
<rect x="1063.3" y="1908.7" width="340.1" height="189.3" fill="#fff" stroke="#333" stroke-width="1.3"/>
<path d="M1068.1,1933.8H1151.2" stroke="#c80000" stroke-width="4.6" stroke-linecap="round" fill="none"/>
<rect x="1102.0" y="1926.5" width="14.5" height="14.5" fill="#c80000"/>
<text x="1159.81" y="1946.00" font-size="32.21" font-weight="normal" fill="#000" textLength="207.64" lengthAdjust="spacingAndGlyphs">Rogers RT5880</text>
<path d="M1068.1,1980.0H1109.3M1109.3,1980.0H1151.2" stroke="#9b10c8" stroke-width="4.6" stroke-linecap="round" stroke-dasharray="24,16" fill="none"/>
<circle cx="1109.3" cy="1980.0" r="8.3" fill="#9b10c8"/>
<text x="1159.83" y="1992.23" font-size="32.21" font-weight="normal" fill="#000" textLength="238.96" lengthAdjust="spacingAndGlyphs">Rogers RO 4350B</text>
<path d="M1068.1,2026.3H1151.2" stroke="#1f6fdc" stroke-width="4.6" stroke-linecap="round" fill="none"/>
<path d="M1109.3,2016.3L1119.5,2033.8L1099.1,2033.8Z" fill="#1f6fdc"/>
<text x="1159.87" y="2038.46" font-size="32.21" font-weight="normal" fill="#000" textLength="71.53" lengthAdjust="spacingAndGlyphs">FR -4</text>
<path d="M1068.1,2072.5H1151.2" stroke="#36a66b" stroke-width="4.6" stroke-linecap="round" fill="none"/>
<path d="M1109.3,2082.5L1119.5,2065.0L1099.1,2065.0Z" fill="#36a66b"/>
<text x="1160.47" y="2084.69" font-size="32.21" font-weight="normal" fill="#000" textLength="177.47" lengthAdjust="spacingAndGlyphs">Arlon Di 527</text>
</svg></body></html>
